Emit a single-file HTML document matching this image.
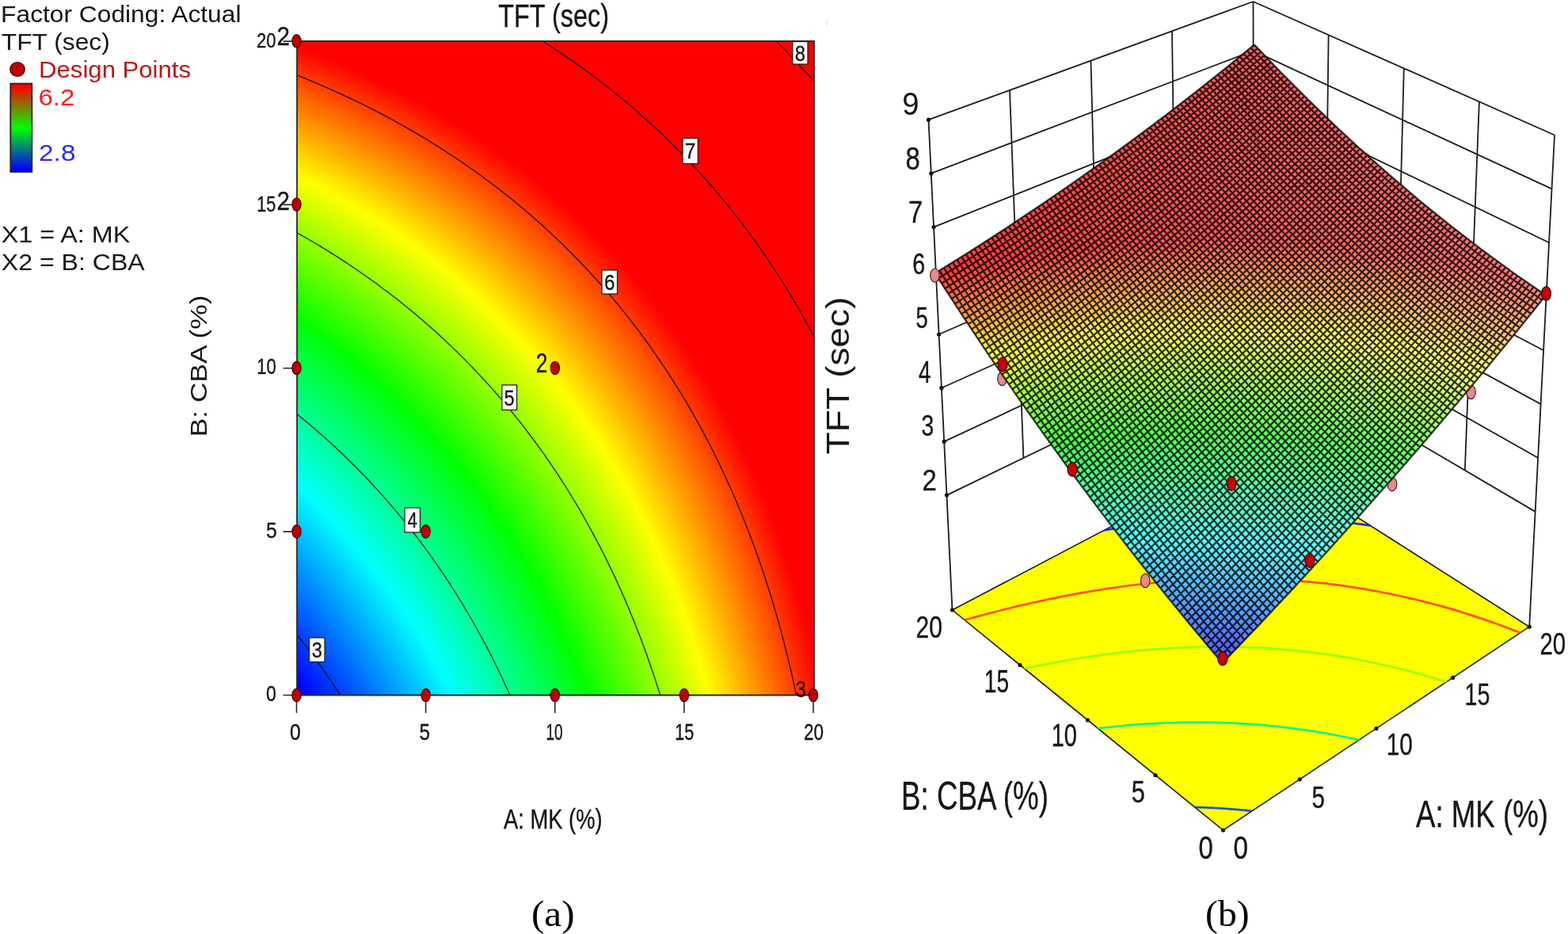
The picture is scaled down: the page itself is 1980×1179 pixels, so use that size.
<!DOCTYPE html><html lang="en"><head><meta charset="utf-8"><title>TFT (sec) response surface</title><style>html,body{margin:0;padding:0;background:#fff;overflow:hidden}svg{display:block}</style></head><body><svg width="1980" height="1179" viewBox="0 0 1980 1179"><defs><radialGradient id="cg" gradientUnits="userSpaceOnUse" cx="0" cy="0" r="1" fx="0" fy="0" gradientTransform="matrix(4902.996443 0.000000 8319.198743 -9557.770069 -8206.1421 9145.2068)"><stop offset="0.905900" stop-color="#0000ff"/><stop offset="0.910457" stop-color="#0000ff"/><stop offset="0.911744" stop-color="#0019ff"/><stop offset="0.913029" stop-color="#0033ff"/><stop offset="0.914313" stop-color="#004dff"/><stop offset="0.915595" stop-color="#0066ff"/><stop offset="0.916874" stop-color="#0080ff"/><stop offset="0.918152" stop-color="#0099ff"/><stop offset="0.919429" stop-color="#00b3ff"/><stop offset="0.920703" stop-color="#00ccff"/><stop offset="0.921976" stop-color="#00e6ff"/><stop offset="0.923247" stop-color="#00ffff"/><stop offset="0.924516" stop-color="#00ffe6"/><stop offset="0.925784" stop-color="#00ffcc"/><stop offset="0.927050" stop-color="#00ffb3"/><stop offset="0.928314" stop-color="#00ff99"/><stop offset="0.929576" stop-color="#00ff7f"/><stop offset="0.930837" stop-color="#00ff66"/><stop offset="0.932096" stop-color="#00ff4c"/><stop offset="0.933353" stop-color="#00ff33"/><stop offset="0.934608" stop-color="#00ff1a"/><stop offset="0.935862" stop-color="#00ff00"/><stop offset="0.937114" stop-color="#1aff00"/><stop offset="0.938365" stop-color="#33ff00"/><stop offset="0.939614" stop-color="#4cff00"/><stop offset="0.940861" stop-color="#66ff00"/><stop offset="0.942106" stop-color="#80ff00"/><stop offset="0.943350" stop-color="#99ff00"/><stop offset="0.944592" stop-color="#b2ff00"/><stop offset="0.945833" stop-color="#ccff00"/><stop offset="0.947072" stop-color="#e6ff00"/><stop offset="0.948309" stop-color="#ffff00"/><stop offset="0.949545" stop-color="#ffe600"/><stop offset="0.950779" stop-color="#ffcc00"/><stop offset="0.952012" stop-color="#ffb200"/><stop offset="0.953243" stop-color="#ff9900"/><stop offset="0.954472" stop-color="#ff7f00"/><stop offset="0.955700" stop-color="#ff6600"/><stop offset="0.956926" stop-color="#ff4c00"/><stop offset="0.958151" stop-color="#ff3300"/><stop offset="0.959374" stop-color="#ff1900"/><stop offset="0.960595" stop-color="#ff0000"/><stop offset="1.000000" stop-color="#ff0000"/></radialGradient><clipPath id="pc"><rect x="375.0" y="52.0" width="653.0" height="825.5"/></clipPath><linearGradient id="lg" x1="0" y1="0" x2="0" y2="1"><stop offset="0.03" stop-color="#f00"/><stop offset="0.5" stop-color="#0f0"/><stop offset="0.97" stop-color="#00f"/></linearGradient><clipPath id="fc"><path d="M1202.5,770L1583.4,570L1931.2,791.2L1544.5,1048Z"/></clipPath><linearGradient id="s0" gradientUnits="userSpaceOnUse" x1="1546.4" y1="834" x2="1183.5" y2="343.2"><stop offset="0.0000" stop-color="#5959ff"/><stop offset="0.0072" stop-color="#5959ff"/><stop offset="0.1256" stop-color="#5591ff"/><stop offset="0.2508" stop-color="#52d6ff"/><stop offset="0.3174" stop-color="#4fffff"/><stop offset="0.3757" stop-color="#4effd9"/><stop offset="0.5004" stop-color="#4aff80"/><stop offset="0.5715" stop-color="#48ff48"/><stop offset="0.6251" stop-color="#71ff46"/><stop offset="0.7499" stop-color="#d9ff43"/><stop offset="0.7926" stop-color="#ffff42"/><stop offset="0.8748" stop-color="#ffb23f"/><stop offset="0.9914" stop-color="#ff3c3c"/><stop offset="1.0000" stop-color="#ff3c3c"/></linearGradient><linearGradient id="s1" gradientUnits="userSpaceOnUse" x1="1552" y1="828.2" x2="1189.1" y2="339.8"><stop offset="0.0000" stop-color="#5a5dff"/><stop offset="0.1256" stop-color="#5698ff"/><stop offset="0.2508" stop-color="#52dcff"/><stop offset="0.3080" stop-color="#50ffff"/><stop offset="0.3757" stop-color="#4effd3"/><stop offset="0.5004" stop-color="#4aff7a"/><stop offset="0.5648" stop-color="#49ff49"/><stop offset="0.6251" stop-color="#76ff47"/><stop offset="0.7499" stop-color="#deff43"/><stop offset="0.7876" stop-color="#ffff42"/><stop offset="0.8748" stop-color="#ffae40"/><stop offset="0.9877" stop-color="#ff3d3d"/><stop offset="1.0000" stop-color="#ff3c3c"/></linearGradient><linearGradient id="s2" gradientUnits="userSpaceOnUse" x1="1557.6" y1="822.4" x2="1194.7" y2="336.4"><stop offset="0.0000" stop-color="#5a64ff"/><stop offset="0.1256" stop-color="#569fff"/><stop offset="0.2508" stop-color="#52e3ff"/><stop offset="0.2983" stop-color="#51ffff"/><stop offset="0.3757" stop-color="#4fffce"/><stop offset="0.5004" stop-color="#4bff75"/><stop offset="0.5579" stop-color="#49ff49"/><stop offset="0.6251" stop-color="#7cff47"/><stop offset="0.7499" stop-color="#e2ff44"/><stop offset="0.7825" stop-color="#ffff43"/><stop offset="0.8748" stop-color="#ffaa40"/><stop offset="0.9838" stop-color="#ff3d3d"/><stop offset="1.0000" stop-color="#ff3d3d"/></linearGradient><linearGradient id="s3" gradientUnits="userSpaceOnUse" x1="1563.2" y1="816.6" x2="1200.2" y2="332.9"><stop offset="0.0000" stop-color="#5b6bff"/><stop offset="0.1256" stop-color="#57a5ff"/><stop offset="0.2508" stop-color="#53e9ff"/><stop offset="0.2884" stop-color="#52ffff"/><stop offset="0.3757" stop-color="#4fffc8"/><stop offset="0.5004" stop-color="#4bff70"/><stop offset="0.5509" stop-color="#4aff4a"/><stop offset="0.6251" stop-color="#81ff48"/><stop offset="0.7499" stop-color="#e7ff44"/><stop offset="0.7773" stop-color="#ffff43"/><stop offset="0.8748" stop-color="#ffa641"/><stop offset="0.9799" stop-color="#ff3e3e"/><stop offset="1.0000" stop-color="#ff3d3d"/></linearGradient><linearGradient id="s4" gradientUnits="userSpaceOnUse" x1="1568.8" y1="810.7" x2="1205.8" y2="329.5"><stop offset="0.0000" stop-color="#5b73ff"/><stop offset="0.1256" stop-color="#57acff"/><stop offset="0.2508" stop-color="#53efff"/><stop offset="0.2783" stop-color="#52ffff"/><stop offset="0.3757" stop-color="#50ffc2"/><stop offset="0.5004" stop-color="#4cff6b"/><stop offset="0.5437" stop-color="#4bff4b"/><stop offset="0.6251" stop-color="#87ff48"/><stop offset="0.7499" stop-color="#ecff45"/><stop offset="0.7719" stop-color="#ffff44"/><stop offset="0.8748" stop-color="#ffa241"/><stop offset="0.9759" stop-color="#ff3e3e"/><stop offset="1.0000" stop-color="#ff3e3e"/></linearGradient><linearGradient id="s5" gradientUnits="userSpaceOnUse" x1="1574.3" y1="804.9" x2="1211.3" y2="326"><stop offset="0.0000" stop-color="#5c7aff"/><stop offset="0.1256" stop-color="#58b3ff"/><stop offset="0.2508" stop-color="#54f5ff"/><stop offset="0.2679" stop-color="#53ffff"/><stop offset="0.3757" stop-color="#50ffbc"/><stop offset="0.5004" stop-color="#4cff66"/><stop offset="0.5363" stop-color="#4bff4b"/><stop offset="0.6251" stop-color="#8cff49"/><stop offset="0.7499" stop-color="#f1ff45"/><stop offset="0.7665" stop-color="#ffff45"/><stop offset="0.8748" stop-color="#ff9d42"/><stop offset="0.9718" stop-color="#ff3f3f"/><stop offset="1.0000" stop-color="#ff3e3e"/></linearGradient><linearGradient id="s6" gradientUnits="userSpaceOnUse" x1="1579.9" y1="799.1" x2="1216.8" y2="322.6"><stop offset="0.0000" stop-color="#5c81ff"/><stop offset="0.1256" stop-color="#58b9ff"/><stop offset="0.2508" stop-color="#54fbff"/><stop offset="0.2572" stop-color="#54ffff"/><stop offset="0.3757" stop-color="#50ffb7"/><stop offset="0.5005" stop-color="#4dff61"/><stop offset="0.5288" stop-color="#4cff4c"/><stop offset="0.6251" stop-color="#92ff49"/><stop offset="0.7499" stop-color="#f6ff45"/><stop offset="0.7610" stop-color="#ffff45"/><stop offset="0.8748" stop-color="#ff9942"/><stop offset="0.9676" stop-color="#ff3f3f"/><stop offset="1.0000" stop-color="#ff3f3f"/></linearGradient><linearGradient id="s7" gradientUnits="userSpaceOnUse" x1="1585.4" y1="793.3" x2="1222.3" y2="319.1"><stop offset="0.0000" stop-color="#5d88ff"/><stop offset="0.1256" stop-color="#59c0ff"/><stop offset="0.2462" stop-color="#55ffff"/><stop offset="0.2508" stop-color="#55fffc"/><stop offset="0.3757" stop-color="#51ffb1"/><stop offset="0.5005" stop-color="#4dff5c"/><stop offset="0.5211" stop-color="#4dff4d"/><stop offset="0.6251" stop-color="#97ff49"/><stop offset="0.7499" stop-color="#faff46"/><stop offset="0.7553" stop-color="#ffff46"/><stop offset="0.8748" stop-color="#ff9542"/><stop offset="0.9634" stop-color="#ff4040"/><stop offset="1.0000" stop-color="#ff3f3f"/></linearGradient><linearGradient id="s8" gradientUnits="userSpaceOnUse" x1="1590.9" y1="787.5" x2="1227.8" y2="315.6"><stop offset="0.0000" stop-color="#5d8fff"/><stop offset="0.1256" stop-color="#59c7ff"/><stop offset="0.2348" stop-color="#56ffff"/><stop offset="0.2508" stop-color="#55fff6"/><stop offset="0.3757" stop-color="#51ffab"/><stop offset="0.5005" stop-color="#4eff56"/><stop offset="0.5132" stop-color="#4dff4d"/><stop offset="0.6251" stop-color="#9dff4a"/><stop offset="0.7495" stop-color="#ffff46"/><stop offset="0.7499" stop-color="#ffff46"/><stop offset="0.8748" stop-color="#ff9143"/><stop offset="0.9590" stop-color="#ff4141"/><stop offset="1.0000" stop-color="#ff3f3f"/></linearGradient><linearGradient id="s9" gradientUnits="userSpaceOnUse" x1="1596.4" y1="781.7" x2="1233.2" y2="312.2"><stop offset="0.0000" stop-color="#5e96ff"/><stop offset="0.1256" stop-color="#5acdff"/><stop offset="0.2232" stop-color="#56ffff"/><stop offset="0.2508" stop-color="#56fff0"/><stop offset="0.3757" stop-color="#52ffa6"/><stop offset="0.5005" stop-color="#4eff51"/><stop offset="0.5052" stop-color="#4eff4e"/><stop offset="0.6252" stop-color="#a2ff4a"/><stop offset="0.7436" stop-color="#ffff47"/><stop offset="0.7499" stop-color="#fffa47"/><stop offset="0.8748" stop-color="#ff8d43"/><stop offset="0.9546" stop-color="#ff4141"/><stop offset="1.0000" stop-color="#ff4040"/></linearGradient><linearGradient id="s10" gradientUnits="userSpaceOnUse" x1="1601.9" y1="775.8" x2="1238.7" y2="308.7"><stop offset="0.0000" stop-color="#5e9dff"/><stop offset="0.1256" stop-color="#5ad4ff"/><stop offset="0.2112" stop-color="#57ffff"/><stop offset="0.2508" stop-color="#56ffea"/><stop offset="0.3757" stop-color="#52ffa0"/><stop offset="0.4970" stop-color="#4fff4f"/><stop offset="0.5005" stop-color="#51ff4e"/><stop offset="0.6252" stop-color="#a8ff4b"/><stop offset="0.7376" stop-color="#ffff48"/><stop offset="0.7499" stop-color="#fff547"/><stop offset="0.8748" stop-color="#ff8844"/><stop offset="0.9500" stop-color="#ff4242"/><stop offset="1.0000" stop-color="#ff4040"/></linearGradient><linearGradient id="s11" gradientUnits="userSpaceOnUse" x1="1607.4" y1="770" x2="1244.1" y2="305.2"><stop offset="0.0000" stop-color="#5ea4ff"/><stop offset="0.1256" stop-color="#5adbff"/><stop offset="0.1989" stop-color="#58ffff"/><stop offset="0.2508" stop-color="#56ffe3"/><stop offset="0.3758" stop-color="#53ff9a"/><stop offset="0.4885" stop-color="#4fff4f"/><stop offset="0.5005" stop-color="#57ff4f"/><stop offset="0.6252" stop-color="#adff4b"/><stop offset="0.7314" stop-color="#ffff48"/><stop offset="0.7499" stop-color="#fff048"/><stop offset="0.8748" stop-color="#ff8444"/><stop offset="0.9454" stop-color="#ff4242"/><stop offset="1.0000" stop-color="#ff4141"/></linearGradient><linearGradient id="s12" gradientUnits="userSpaceOnUse" x1="1612.8" y1="764.2" x2="1249.5" y2="301.7"><stop offset="0.0000" stop-color="#5facff"/><stop offset="0.1256" stop-color="#5be2ff"/><stop offset="0.1862" stop-color="#59ffff"/><stop offset="0.2509" stop-color="#57ffdd"/><stop offset="0.3758" stop-color="#53ff94"/><stop offset="0.4799" stop-color="#50ff50"/><stop offset="0.5005" stop-color="#5dff4f"/><stop offset="0.6252" stop-color="#b3ff4c"/><stop offset="0.7251" stop-color="#ffff49"/><stop offset="0.7499" stop-color="#ffeb48"/><stop offset="0.8748" stop-color="#ff8045"/><stop offset="0.9406" stop-color="#ff4343"/><stop offset="1.0000" stop-color="#ff4141"/></linearGradient><linearGradient id="s13" gradientUnits="userSpaceOnUse" x1="1618.3" y1="758.4" x2="1254.9" y2="298.2"><stop offset="0.0000" stop-color="#5fb3ff"/><stop offset="0.1256" stop-color="#5be8ff"/><stop offset="0.1731" stop-color="#5affff"/><stop offset="0.2509" stop-color="#57ffd7"/><stop offset="0.3758" stop-color="#54ff8f"/><stop offset="0.4710" stop-color="#51ff51"/><stop offset="0.5005" stop-color="#63ff50"/><stop offset="0.6252" stop-color="#b8ff4c"/><stop offset="0.7187" stop-color="#ffff49"/><stop offset="0.7499" stop-color="#ffe649"/><stop offset="0.8748" stop-color="#ff7b45"/><stop offset="0.9358" stop-color="#ff4343"/><stop offset="1.0000" stop-color="#ff4242"/></linearGradient><linearGradient id="s14" gradientUnits="userSpaceOnUse" x1="1623.7" y1="752.6" x2="1260.3" y2="294.7"><stop offset="0.0000" stop-color="#60baff"/><stop offset="0.1257" stop-color="#5cefff"/><stop offset="0.1596" stop-color="#5bffff"/><stop offset="0.2509" stop-color="#58ffd1"/><stop offset="0.3758" stop-color="#54ff89"/><stop offset="0.4620" stop-color="#51ff51"/><stop offset="0.5005" stop-color="#69ff50"/><stop offset="0.6252" stop-color="#beff4d"/><stop offset="0.7121" stop-color="#ffff4a"/><stop offset="0.7499" stop-color="#ffe149"/><stop offset="0.8748" stop-color="#ff7746"/><stop offset="0.9309" stop-color="#ff4444"/><stop offset="1.0000" stop-color="#ff4242"/></linearGradient><linearGradient id="s15" gradientUnits="userSpaceOnUse" x1="1629.1" y1="746.8" x2="1265.7" y2="291.2"><stop offset="0.0000" stop-color="#60c1ff"/><stop offset="0.1257" stop-color="#5cf6ff"/><stop offset="0.1457" stop-color="#5cffff"/><stop offset="0.2509" stop-color="#58ffca"/><stop offset="0.3758" stop-color="#54ff83"/><stop offset="0.4527" stop-color="#52ff52"/><stop offset="0.5005" stop-color="#70ff51"/><stop offset="0.6252" stop-color="#c4ff4d"/><stop offset="0.7054" stop-color="#ffff4b"/><stop offset="0.7499" stop-color="#ffdc49"/><stop offset="0.8748" stop-color="#ff7346"/><stop offset="0.9258" stop-color="#ff4545"/><stop offset="1.0000" stop-color="#ff4343"/></linearGradient><linearGradient id="s16" gradientUnits="userSpaceOnUse" x1="1634.5" y1="741" x2="1271" y2="287.7"><stop offset="0.0000" stop-color="#61c8ff"/><stop offset="0.1257" stop-color="#5dfcff"/><stop offset="0.1312" stop-color="#5cffff"/><stop offset="0.2509" stop-color="#59ffc4"/><stop offset="0.3758" stop-color="#55ff7d"/><stop offset="0.4431" stop-color="#53ff53"/><stop offset="0.5005" stop-color="#76ff51"/><stop offset="0.6252" stop-color="#c9ff4d"/><stop offset="0.6985" stop-color="#ffff4b"/><stop offset="0.7500" stop-color="#ffd74a"/><stop offset="0.8748" stop-color="#ff6e46"/><stop offset="0.9207" stop-color="#ff4545"/><stop offset="1.0000" stop-color="#ff4343"/></linearGradient><linearGradient id="s17" gradientUnits="userSpaceOnUse" x1="1639.9" y1="735.2" x2="1276.4" y2="284.2"><stop offset="0.0000" stop-color="#61cfff"/><stop offset="0.1163" stop-color="#5dffff"/><stop offset="0.1257" stop-color="#5dfffb"/><stop offset="0.2509" stop-color="#59ffbe"/><stop offset="0.3758" stop-color="#55ff77"/><stop offset="0.4334" stop-color="#54ff54"/><stop offset="0.5006" stop-color="#7cff52"/><stop offset="0.6252" stop-color="#cfff4e"/><stop offset="0.6915" stop-color="#ffff4c"/><stop offset="0.7500" stop-color="#ffd24a"/><stop offset="0.8749" stop-color="#ff6a47"/><stop offset="0.9154" stop-color="#ff4646"/><stop offset="1.0000" stop-color="#ff4343"/></linearGradient><linearGradient id="s18" gradientUnits="userSpaceOnUse" x1="1645.3" y1="729.4" x2="1281.7" y2="280.7"><stop offset="0.0000" stop-color="#62d6ff"/><stop offset="0.1009" stop-color="#5effff"/><stop offset="0.1257" stop-color="#5dfff4"/><stop offset="0.2509" stop-color="#5affb7"/><stop offset="0.3758" stop-color="#56ff71"/><stop offset="0.4234" stop-color="#54ff54"/><stop offset="0.5006" stop-color="#82ff52"/><stop offset="0.6252" stop-color="#d4ff4e"/><stop offset="0.6843" stop-color="#ffff4d"/><stop offset="0.7500" stop-color="#ffcd4b"/><stop offset="0.8749" stop-color="#ff6547"/><stop offset="0.9101" stop-color="#ff4646"/><stop offset="1.0000" stop-color="#ff4444"/></linearGradient><linearGradient id="s19" gradientUnits="userSpaceOnUse" x1="1650.6" y1="723.6" x2="1287" y2="277.2"><stop offset="0.0000" stop-color="#62ddff"/><stop offset="0.0849" stop-color="#5fffff"/><stop offset="0.1257" stop-color="#5effed"/><stop offset="0.2509" stop-color="#5affb1"/><stop offset="0.3758" stop-color="#56ff6c"/><stop offset="0.4131" stop-color="#55ff55"/><stop offset="0.5006" stop-color="#88ff52"/><stop offset="0.6253" stop-color="#daff4f"/><stop offset="0.6769" stop-color="#ffff4d"/><stop offset="0.7500" stop-color="#ffc84b"/><stop offset="0.8749" stop-color="#ff6148"/><stop offset="0.9046" stop-color="#ff4747"/><stop offset="1.0000" stop-color="#ff4444"/></linearGradient><linearGradient id="s20" gradientUnits="userSpaceOnUse" x1="1656" y1="717.8" x2="1292.3" y2="273.7"><stop offset="0.0000" stop-color="#62e4ff"/><stop offset="0.0683" stop-color="#60ffff"/><stop offset="0.1257" stop-color="#5effe7"/><stop offset="0.2509" stop-color="#5affab"/><stop offset="0.3759" stop-color="#57ff66"/><stop offset="0.4025" stop-color="#56ff56"/><stop offset="0.5006" stop-color="#8fff53"/><stop offset="0.6253" stop-color="#e0ff4f"/><stop offset="0.6694" stop-color="#ffff4e"/><stop offset="0.7500" stop-color="#ffc34c"/><stop offset="0.8749" stop-color="#ff5c48"/><stop offset="0.8990" stop-color="#ff4747"/><stop offset="1.0000" stop-color="#ff4545"/></linearGradient><linearGradient id="s21" gradientUnits="userSpaceOnUse" x1="1661.3" y1="712" x2="1297.6" y2="270.2"><stop offset="0.0000" stop-color="#63ecff"/><stop offset="0.0511" stop-color="#61ffff"/><stop offset="0.1257" stop-color="#5fffe0"/><stop offset="0.2509" stop-color="#5bffa5"/><stop offset="0.3759" stop-color="#57ff60"/><stop offset="0.3917" stop-color="#57ff57"/><stop offset="0.5006" stop-color="#95ff53"/><stop offset="0.6253" stop-color="#e5ff50"/><stop offset="0.6618" stop-color="#ffff4f"/><stop offset="0.7500" stop-color="#ffbe4c"/><stop offset="0.8749" stop-color="#ff5849"/><stop offset="0.8933" stop-color="#ff4848"/><stop offset="1.0000" stop-color="#ff4545"/></linearGradient><linearGradient id="s22" gradientUnits="userSpaceOnUse" x1="1666.6" y1="706.2" x2="1302.9" y2="266.6"><stop offset="0.0000" stop-color="#63f3ff"/><stop offset="0.0331" stop-color="#62ffff"/><stop offset="0.1257" stop-color="#5fffd9"/><stop offset="0.2509" stop-color="#5bff9e"/><stop offset="0.3759" stop-color="#57ff5a"/><stop offset="0.3806" stop-color="#57ff57"/><stop offset="0.5006" stop-color="#9bff54"/><stop offset="0.6253" stop-color="#ebff50"/><stop offset="0.6539" stop-color="#ffff4f"/><stop offset="0.7500" stop-color="#ffb84c"/><stop offset="0.8749" stop-color="#ff5349"/><stop offset="0.8875" stop-color="#ff4949"/><stop offset="1.0000" stop-color="#ff4646"/></linearGradient><linearGradient id="s23" gradientUnits="userSpaceOnUse" x1="1671.9" y1="700.4" x2="1308.1" y2="263.1"><stop offset="0.0000" stop-color="#64faff"/><stop offset="0.0144" stop-color="#63ffff"/><stop offset="0.1257" stop-color="#60ffd2"/><stop offset="0.2510" stop-color="#5cff98"/><stop offset="0.3691" stop-color="#58ff58"/><stop offset="0.3759" stop-color="#5cff58"/><stop offset="0.5006" stop-color="#a1ff54"/><stop offset="0.6253" stop-color="#f1ff50"/><stop offset="0.6459" stop-color="#ffff50"/><stop offset="0.7500" stop-color="#ffb34d"/><stop offset="0.8749" stop-color="#ff4f49"/><stop offset="0.8815" stop-color="#ff4949"/><stop offset="1.0000" stop-color="#ff4646"/></linearGradient><linearGradient id="s24" gradientUnits="userSpaceOnUse" x1="1677.2" y1="694.6" x2="1313.3" y2="259.6"><stop offset="0.0000" stop-color="#64fffd"/><stop offset="0.1257" stop-color="#60ffcc"/><stop offset="0.2510" stop-color="#5cff92"/><stop offset="0.3573" stop-color="#59ff59"/><stop offset="0.3759" stop-color="#62ff58"/><stop offset="0.5007" stop-color="#a8ff55"/><stop offset="0.6253" stop-color="#f7ff51"/><stop offset="0.6377" stop-color="#ffff51"/><stop offset="0.7500" stop-color="#ffae4d"/><stop offset="0.8749" stop-color="#ff4a4a"/><stop offset="0.8754" stop-color="#ff4a4a"/><stop offset="1.0000" stop-color="#ff4646"/></linearGradient><linearGradient id="s25" gradientUnits="userSpaceOnUse" x1="1682.5" y1="688.8" x2="1318.6" y2="256"><stop offset="0.0000" stop-color="#65fff6"/><stop offset="0.1257" stop-color="#61ffc5"/><stop offset="0.2510" stop-color="#5dff8b"/><stop offset="0.3452" stop-color="#5aff5a"/><stop offset="0.3759" stop-color="#69ff59"/><stop offset="0.5007" stop-color="#aeff55"/><stop offset="0.6254" stop-color="#fcff51"/><stop offset="0.6293" stop-color="#ffff51"/><stop offset="0.7501" stop-color="#ffa94e"/><stop offset="0.8692" stop-color="#ff4a4a"/><stop offset="0.8749" stop-color="#ff4a4a"/><stop offset="1.0000" stop-color="#ff4747"/></linearGradient><linearGradient id="s26" gradientUnits="userSpaceOnUse" x1="1687.7" y1="683" x2="1323.8" y2="252.5"><stop offset="0.0000" stop-color="#65ffef"/><stop offset="0.1257" stop-color="#61ffbe"/><stop offset="0.2510" stop-color="#5dff85"/><stop offset="0.3328" stop-color="#5aff5a"/><stop offset="0.3759" stop-color="#70ff59"/><stop offset="0.5007" stop-color="#b4ff55"/><stop offset="0.6207" stop-color="#ffff52"/><stop offset="0.6254" stop-color="#fffc52"/><stop offset="0.7501" stop-color="#ffa44e"/><stop offset="0.8629" stop-color="#ff4b4b"/><stop offset="0.8749" stop-color="#ff4b4b"/><stop offset="1.0000" stop-color="#ff4747"/></linearGradient><linearGradient id="s27" gradientUnits="userSpaceOnUse" x1="1693" y1="677.2" x2="1329" y2="248.9"><stop offset="0.0000" stop-color="#65ffe8"/><stop offset="0.1257" stop-color="#61ffb8"/><stop offset="0.2510" stop-color="#5dff7f"/><stop offset="0.3199" stop-color="#5bff5b"/><stop offset="0.3760" stop-color="#77ff5a"/><stop offset="0.5007" stop-color="#baff56"/><stop offset="0.6119" stop-color="#ffff53"/><stop offset="0.6254" stop-color="#fff652"/><stop offset="0.7501" stop-color="#ff9e4f"/><stop offset="0.8564" stop-color="#ff4c4c"/><stop offset="0.8749" stop-color="#ff4b4b"/><stop offset="1.0000" stop-color="#ff4848"/></linearGradient><linearGradient id="s28" gradientUnits="userSpaceOnUse" x1="1698.2" y1="671.4" x2="1334.2" y2="245.4"><stop offset="0.0000" stop-color="#66ffe1"/><stop offset="0.1257" stop-color="#62ffb1"/><stop offset="0.2510" stop-color="#5eff78"/><stop offset="0.3067" stop-color="#5cff5c"/><stop offset="0.3760" stop-color="#7dff5a"/><stop offset="0.5007" stop-color="#c1ff56"/><stop offset="0.6029" stop-color="#ffff53"/><stop offset="0.6254" stop-color="#fff053"/><stop offset="0.7501" stop-color="#ff994f"/><stop offset="0.8498" stop-color="#ff4c4c"/><stop offset="0.8749" stop-color="#ff4c4c"/><stop offset="1.0000" stop-color="#ff4848"/></linearGradient><linearGradient id="s29" gradientUnits="userSpaceOnUse" x1="1703.4" y1="665.6" x2="1339.3" y2="241.8"><stop offset="0.0000" stop-color="#66ffda"/><stop offset="0.1258" stop-color="#62ffaa"/><stop offset="0.2510" stop-color="#5eff72"/><stop offset="0.2931" stop-color="#5dff5d"/><stop offset="0.3760" stop-color="#84ff5a"/><stop offset="0.5008" stop-color="#c7ff57"/><stop offset="0.5936" stop-color="#ffff54"/><stop offset="0.6254" stop-color="#ffeb53"/><stop offset="0.7501" stop-color="#ff944f"/><stop offset="0.8430" stop-color="#ff4d4d"/><stop offset="0.8749" stop-color="#ff4c4c"/><stop offset="1.0000" stop-color="#ff4949"/></linearGradient><linearGradient id="s30" gradientUnits="userSpaceOnUse" x1="1708.6" y1="659.8" x2="1344.5" y2="238.3"><stop offset="0.0000" stop-color="#67ffd3"/><stop offset="0.1258" stop-color="#63ffa3"/><stop offset="0.2511" stop-color="#5fff6b"/><stop offset="0.2790" stop-color="#5eff5e"/><stop offset="0.3760" stop-color="#8bff5b"/><stop offset="0.5008" stop-color="#cdff57"/><stop offset="0.5842" stop-color="#ffff55"/><stop offset="0.6254" stop-color="#ffe553"/><stop offset="0.7501" stop-color="#ff8f50"/><stop offset="0.8362" stop-color="#ff4d4d"/><stop offset="0.8750" stop-color="#ff4c4c"/><stop offset="1.0000" stop-color="#ff4949"/></linearGradient><linearGradient id="s31" gradientUnits="userSpaceOnUse" x1="1713.8" y1="654" x2="1349.6" y2="234.7"><stop offset="0.0000" stop-color="#67ffcc"/><stop offset="0.1258" stop-color="#63ff9d"/><stop offset="0.2511" stop-color="#5fff65"/><stop offset="0.2644" stop-color="#5fff5f"/><stop offset="0.3760" stop-color="#92ff5b"/><stop offset="0.5008" stop-color="#d4ff58"/><stop offset="0.5745" stop-color="#ffff55"/><stop offset="0.6255" stop-color="#ffdf54"/><stop offset="0.7502" stop-color="#ff8950"/><stop offset="0.8291" stop-color="#ff4e4e"/><stop offset="0.8750" stop-color="#ff4d4d"/><stop offset="1.0000" stop-color="#ff4949"/></linearGradient><linearGradient id="s32" gradientUnits="userSpaceOnUse" x1="1719" y1="648.2" x2="1354.8" y2="231.1"><stop offset="0.0000" stop-color="#68ffc5"/><stop offset="0.1258" stop-color="#63ff96"/><stop offset="0.2494" stop-color="#60ff60"/><stop offset="0.2511" stop-color="#60ff60"/><stop offset="0.3761" stop-color="#98ff5c"/><stop offset="0.5008" stop-color="#daff58"/><stop offset="0.5645" stop-color="#ffff56"/><stop offset="0.6255" stop-color="#ffd954"/><stop offset="0.7502" stop-color="#ff8451"/><stop offset="0.8219" stop-color="#ff4f4f"/><stop offset="0.8750" stop-color="#ff4d4d"/><stop offset="1.0000" stop-color="#ff4a4a"/></linearGradient><linearGradient id="s33" gradientUnits="userSpaceOnUse" x1="1724.2" y1="642.4" x2="1359.9" y2="227.6"><stop offset="0.0000" stop-color="#68ffbd"/><stop offset="0.1258" stop-color="#64ff8f"/><stop offset="0.2338" stop-color="#60ff60"/><stop offset="0.2511" stop-color="#67ff60"/><stop offset="0.3761" stop-color="#9fff5c"/><stop offset="0.5009" stop-color="#e0ff58"/><stop offset="0.5543" stop-color="#ffff57"/><stop offset="0.6255" stop-color="#ffd355"/><stop offset="0.7502" stop-color="#ff7f51"/><stop offset="0.8145" stop-color="#ff4f4f"/><stop offset="0.8750" stop-color="#ff4e4e"/><stop offset="1.0000" stop-color="#ff4a4a"/></linearGradient><linearGradient id="s34" gradientUnits="userSpaceOnUse" x1="1729.4" y1="636.6" x2="1365" y2="224"><stop offset="0.0000" stop-color="#68ffb6"/><stop offset="0.1258" stop-color="#64ff88"/><stop offset="0.2176" stop-color="#61ff61"/><stop offset="0.2511" stop-color="#6fff60"/><stop offset="0.3761" stop-color="#a6ff5d"/><stop offset="0.5009" stop-color="#e7ff59"/><stop offset="0.5439" stop-color="#ffff58"/><stop offset="0.6255" stop-color="#ffcd55"/><stop offset="0.7502" stop-color="#ff7a52"/><stop offset="0.8070" stop-color="#ff5050"/><stop offset="0.8750" stop-color="#ff4e4e"/><stop offset="1.0000" stop-color="#ff4b4b"/></linearGradient><linearGradient id="s35" gradientUnits="userSpaceOnUse" x1="1734.5" y1="630.8" x2="1370.1" y2="220.4"><stop offset="0.0000" stop-color="#69ffaf"/><stop offset="0.1258" stop-color="#65ff82"/><stop offset="0.2009" stop-color="#62ff62"/><stop offset="0.2511" stop-color="#76ff61"/><stop offset="0.3761" stop-color="#adff5d"/><stop offset="0.5009" stop-color="#edff59"/><stop offset="0.5331" stop-color="#ffff58"/><stop offset="0.6256" stop-color="#ffc856"/><stop offset="0.7502" stop-color="#ff7452"/><stop offset="0.7993" stop-color="#ff5151"/><stop offset="0.8750" stop-color="#ff4e4e"/><stop offset="1.0000" stop-color="#ff4b4b"/></linearGradient><linearGradient id="s36" gradientUnits="userSpaceOnUse" x1="1739.6" y1="625" x2="1375.1" y2="216.8"><stop offset="0.0000" stop-color="#69ffa8"/><stop offset="0.1258" stop-color="#65ff7b"/><stop offset="0.1835" stop-color="#63ff63"/><stop offset="0.2512" stop-color="#7dff61"/><stop offset="0.3762" stop-color="#b4ff5d"/><stop offset="0.5009" stop-color="#f3ff5a"/><stop offset="0.5221" stop-color="#ffff59"/><stop offset="0.6256" stop-color="#ffc256"/><stop offset="0.7502" stop-color="#ff6f52"/><stop offset="0.7915" stop-color="#ff5151"/><stop offset="0.8750" stop-color="#ff4f4f"/><stop offset="1.0000" stop-color="#ff4b4b"/></linearGradient><linearGradient id="s37" gradientUnits="userSpaceOnUse" x1="1744.8" y1="619.2" x2="1380.2" y2="213.2"><stop offset="0.0000" stop-color="#6affa1"/><stop offset="0.1258" stop-color="#66ff74"/><stop offset="0.1654" stop-color="#64ff64"/><stop offset="0.2512" stop-color="#84ff62"/><stop offset="0.3762" stop-color="#baff5e"/><stop offset="0.5010" stop-color="#faff5a"/><stop offset="0.5108" stop-color="#ffff5a"/><stop offset="0.6256" stop-color="#ffbc56"/><stop offset="0.7503" stop-color="#ff6953"/><stop offset="0.7834" stop-color="#ff5252"/><stop offset="0.8750" stop-color="#ff4f4f"/><stop offset="1.0000" stop-color="#ff4c4c"/></linearGradient><linearGradient id="s38" gradientUnits="userSpaceOnUse" x1="1749.9" y1="613.4" x2="1385.2" y2="209.6"><stop offset="0.0000" stop-color="#6aff9a"/><stop offset="0.1258" stop-color="#66ff6d"/><stop offset="0.1465" stop-color="#65ff65"/><stop offset="0.2512" stop-color="#8cff62"/><stop offset="0.3762" stop-color="#c1ff5e"/><stop offset="0.4992" stop-color="#ffff5a"/><stop offset="0.5010" stop-color="#fffe5a"/><stop offset="0.6256" stop-color="#ffb657"/><stop offset="0.7503" stop-color="#ff6453"/><stop offset="0.7752" stop-color="#ff5353"/><stop offset="0.8750" stop-color="#ff5050"/><stop offset="1.0000" stop-color="#ff4c4c"/></linearGradient><linearGradient id="s39" gradientUnits="userSpaceOnUse" x1="1755" y1="607.7" x2="1390.3" y2="206"><stop offset="0.0000" stop-color="#6aff93"/><stop offset="0.1259" stop-color="#66ff67"/><stop offset="0.1268" stop-color="#66ff66"/><stop offset="0.2512" stop-color="#93ff62"/><stop offset="0.3762" stop-color="#c8ff5f"/><stop offset="0.4872" stop-color="#ffff5b"/><stop offset="0.5010" stop-color="#fff85b"/><stop offset="0.6257" stop-color="#ffb057"/><stop offset="0.7503" stop-color="#ff5f54"/><stop offset="0.7668" stop-color="#ff5353"/><stop offset="0.8751" stop-color="#ff5050"/><stop offset="1.0000" stop-color="#ff4d4d"/></linearGradient><linearGradient id="s40" gradientUnits="userSpaceOnUse" x1="1760" y1="601.9" x2="1395.3" y2="202.4"><stop offset="0.0000" stop-color="#6bff8c"/><stop offset="0.1062" stop-color="#67ff67"/><stop offset="0.1259" stop-color="#6eff67"/><stop offset="0.2513" stop-color="#9aff63"/><stop offset="0.3763" stop-color="#cfff5f"/><stop offset="0.4749" stop-color="#ffff5c"/><stop offset="0.5010" stop-color="#fff15b"/><stop offset="0.6257" stop-color="#ffaa58"/><stop offset="0.7503" stop-color="#ff5954"/><stop offset="0.7582" stop-color="#ff5454"/><stop offset="0.8751" stop-color="#ff5151"/><stop offset="1.0000" stop-color="#ff4d4d"/></linearGradient><linearGradient id="s41" gradientUnits="userSpaceOnUse" x1="1765.1" y1="596.1" x2="1400.3" y2="198.8"><stop offset="0.0000" stop-color="#6bff85"/><stop offset="0.0846" stop-color="#69ff69"/><stop offset="0.1259" stop-color="#75ff67"/><stop offset="0.2513" stop-color="#a1ff63"/><stop offset="0.3763" stop-color="#d6ff5f"/><stop offset="0.4622" stop-color="#ffff5d"/><stop offset="0.5011" stop-color="#ffeb5c"/><stop offset="0.6257" stop-color="#ffa458"/><stop offset="0.7494" stop-color="#ff5454"/><stop offset="0.7504" stop-color="#ff5454"/><stop offset="0.8751" stop-color="#ff5151"/><stop offset="1.0000" stop-color="#ff4e4e"/></linearGradient><linearGradient id="s42" gradientUnits="userSpaceOnUse" x1="1770.2" y1="590.3" x2="1405.3" y2="195.2"><stop offset="0.0000" stop-color="#6cff7e"/><stop offset="0.0619" stop-color="#6aff6a"/><stop offset="0.1259" stop-color="#7dff68"/><stop offset="0.2513" stop-color="#a8ff64"/><stop offset="0.3763" stop-color="#dcff60"/><stop offset="0.4491" stop-color="#ffff5e"/><stop offset="0.5011" stop-color="#ffe45c"/><stop offset="0.6257" stop-color="#ff9e58"/><stop offset="0.7404" stop-color="#ff5555"/><stop offset="0.7504" stop-color="#ff5555"/><stop offset="0.8751" stop-color="#ff5151"/><stop offset="1.0000" stop-color="#ff4e4e"/></linearGradient><linearGradient id="s43" gradientUnits="userSpaceOnUse" x1="1775.2" y1="584.5" x2="1410.3" y2="191.6"><stop offset="0.0000" stop-color="#6cff77"/><stop offset="0.0380" stop-color="#6bff6b"/><stop offset="0.1259" stop-color="#84ff68"/><stop offset="0.2513" stop-color="#b0ff64"/><stop offset="0.3764" stop-color="#e3ff60"/><stop offset="0.4357" stop-color="#ffff5e"/><stop offset="0.5011" stop-color="#ffde5c"/><stop offset="0.6258" stop-color="#ff9859"/><stop offset="0.7311" stop-color="#ff5656"/><stop offset="0.7504" stop-color="#ff5555"/><stop offset="0.8751" stop-color="#ff5252"/><stop offset="1.0000" stop-color="#ff4e4e"/></linearGradient><linearGradient id="s44" gradientUnits="userSpaceOnUse" x1="1780.3" y1="578.7" x2="1415.2" y2="187.9"><stop offset="0.0000" stop-color="#6dff70"/><stop offset="0.0127" stop-color="#6cff6c"/><stop offset="0.1259" stop-color="#8cff68"/><stop offset="0.2513" stop-color="#b7ff65"/><stop offset="0.3764" stop-color="#eaff61"/><stop offset="0.4218" stop-color="#ffff5f"/><stop offset="0.5012" stop-color="#ffd85d"/><stop offset="0.6258" stop-color="#ff9259"/><stop offset="0.7217" stop-color="#ff5656"/><stop offset="0.7504" stop-color="#ff5656"/><stop offset="0.8751" stop-color="#ff5252"/><stop offset="1.0000" stop-color="#ff4f4f"/></linearGradient><linearGradient id="s45" gradientUnits="userSpaceOnUse" x1="1785.3" y1="572.9" x2="1420.2" y2="184.3"><stop offset="0.0000" stop-color="#71ff6d"/><stop offset="0.1259" stop-color="#93ff69"/><stop offset="0.2514" stop-color="#beff65"/><stop offset="0.3764" stop-color="#f1ff61"/><stop offset="0.4075" stop-color="#ffff60"/><stop offset="0.5012" stop-color="#ffd15d"/><stop offset="0.6258" stop-color="#ff8c5a"/><stop offset="0.7120" stop-color="#ff5757"/><stop offset="0.7505" stop-color="#ff5656"/><stop offset="0.8751" stop-color="#ff5353"/><stop offset="1.0000" stop-color="#ff4f4f"/></linearGradient><linearGradient id="s46" gradientUnits="userSpaceOnUse" x1="1790.3" y1="567.1" x2="1425.1" y2="180.7"><stop offset="0.0000" stop-color="#79ff6d"/><stop offset="0.1260" stop-color="#9bff69"/><stop offset="0.2514" stop-color="#c5ff65"/><stop offset="0.3764" stop-color="#f8ff61"/><stop offset="0.3927" stop-color="#ffff61"/><stop offset="0.5012" stop-color="#ffcb5e"/><stop offset="0.6259" stop-color="#ff865a"/><stop offset="0.7021" stop-color="#ff5858"/><stop offset="0.7505" stop-color="#ff5656"/><stop offset="0.8752" stop-color="#ff5353"/><stop offset="1.0000" stop-color="#ff5050"/></linearGradient><linearGradient id="s47" gradientUnits="userSpaceOnUse" x1="1795.3" y1="561.3" x2="1430.1" y2="177.1"><stop offset="0.0000" stop-color="#80ff6e"/><stop offset="0.1260" stop-color="#a2ff6a"/><stop offset="0.2514" stop-color="#ccff66"/><stop offset="0.3765" stop-color="#ffff62"/><stop offset="0.3774" stop-color="#ffff62"/><stop offset="0.5013" stop-color="#ffc45e"/><stop offset="0.6259" stop-color="#ff805a"/><stop offset="0.6919" stop-color="#ff5959"/><stop offset="0.7505" stop-color="#ff5757"/><stop offset="0.8752" stop-color="#ff5353"/><stop offset="1.0000" stop-color="#ff5050"/></linearGradient><linearGradient id="s48" gradientUnits="userSpaceOnUse" x1="1800.3" y1="555.5" x2="1435" y2="173.4"><stop offset="0.0000" stop-color="#88ff6e"/><stop offset="0.1260" stop-color="#aaff6a"/><stop offset="0.2515" stop-color="#d3ff66"/><stop offset="0.3615" stop-color="#ffff63"/><stop offset="0.3765" stop-color="#fff962"/><stop offset="0.5013" stop-color="#ffbe5f"/><stop offset="0.6259" stop-color="#ff7a5b"/><stop offset="0.6815" stop-color="#ff5959"/><stop offset="0.7505" stop-color="#ff5757"/><stop offset="0.8752" stop-color="#ff5454"/><stop offset="1.0000" stop-color="#ff5050"/></linearGradient><linearGradient id="s49" gradientUnits="userSpaceOnUse" x1="1805.3" y1="549.7" x2="1439.9" y2="169.8"><stop offset="0.0000" stop-color="#90ff6f"/><stop offset="0.1260" stop-color="#b1ff6a"/><stop offset="0.2515" stop-color="#dbff67"/><stop offset="0.3451" stop-color="#ffff64"/><stop offset="0.3766" stop-color="#fff263"/><stop offset="0.5013" stop-color="#ffb85f"/><stop offset="0.6260" stop-color="#ff745b"/><stop offset="0.6708" stop-color="#ff5a5a"/><stop offset="0.7506" stop-color="#ff5858"/><stop offset="0.8752" stop-color="#ff5454"/><stop offset="1.0000" stop-color="#ff5151"/></linearGradient><linearGradient id="s50" gradientUnits="userSpaceOnUse" x1="1810.2" y1="543.9" x2="1444.8" y2="166.1"><stop offset="0.0000" stop-color="#98ff6f"/><stop offset="0.1260" stop-color="#b9ff6b"/><stop offset="0.2515" stop-color="#e2ff67"/><stop offset="0.3281" stop-color="#ffff65"/><stop offset="0.3766" stop-color="#ffeb63"/><stop offset="0.5014" stop-color="#ffb15f"/><stop offset="0.6260" stop-color="#ff6e5c"/><stop offset="0.6598" stop-color="#ff5b5b"/><stop offset="0.7506" stop-color="#ff5858"/><stop offset="0.8752" stop-color="#ff5555"/><stop offset="1.0000" stop-color="#ff5151"/></linearGradient><linearGradient id="s51" gradientUnits="userSpaceOnUse" x1="1815.2" y1="538.1" x2="1449.7" y2="162.5"><stop offset="0.0000" stop-color="#a0ff6f"/><stop offset="0.1260" stop-color="#c0ff6b"/><stop offset="0.2515" stop-color="#e9ff67"/><stop offset="0.3104" stop-color="#ffff66"/><stop offset="0.3766" stop-color="#ffe463"/><stop offset="0.5014" stop-color="#ffab60"/><stop offset="0.6260" stop-color="#ff685c"/><stop offset="0.6485" stop-color="#ff5b5b"/><stop offset="0.7506" stop-color="#ff5858"/><stop offset="0.8752" stop-color="#ff5555"/><stop offset="1.0000" stop-color="#ff5252"/></linearGradient><linearGradient id="s52" gradientUnits="userSpaceOnUse" x1="1820.1" y1="532.3" x2="1454.6" y2="158.8"><stop offset="0.0000" stop-color="#a7ff70"/><stop offset="0.1261" stop-color="#c8ff6c"/><stop offset="0.2516" stop-color="#f0ff68"/><stop offset="0.2920" stop-color="#ffff66"/><stop offset="0.3767" stop-color="#ffdd64"/><stop offset="0.5015" stop-color="#ffa460"/><stop offset="0.6261" stop-color="#ff625c"/><stop offset="0.6370" stop-color="#ff5c5c"/><stop offset="0.7506" stop-color="#ff5959"/><stop offset="0.8752" stop-color="#ff5555"/><stop offset="1.0000" stop-color="#ff5252"/></linearGradient><linearGradient id="s53" gradientUnits="userSpaceOnUse" x1="1825.1" y1="526.5" x2="1459.4" y2="155.1"><stop offset="0.0000" stop-color="#afff70"/><stop offset="0.1261" stop-color="#cfff6c"/><stop offset="0.2516" stop-color="#f7ff68"/><stop offset="0.2728" stop-color="#ffff67"/><stop offset="0.3767" stop-color="#ffd664"/><stop offset="0.5015" stop-color="#ff9e61"/><stop offset="0.6251" stop-color="#ff5d5d"/><stop offset="0.6261" stop-color="#ff5d5d"/><stop offset="0.7507" stop-color="#ff5959"/><stop offset="0.8753" stop-color="#ff5656"/><stop offset="1.0000" stop-color="#ff5252"/></linearGradient><linearGradient id="s54" gradientUnits="userSpaceOnUse" x1="1830" y1="520.8" x2="1464.3" y2="151.5"><stop offset="0.0000" stop-color="#b7ff71"/><stop offset="0.1261" stop-color="#d7ff6d"/><stop offset="0.2516" stop-color="#ffff69"/><stop offset="0.2527" stop-color="#ffff69"/><stop offset="0.3767" stop-color="#ffd065"/><stop offset="0.5015" stop-color="#ff9761"/><stop offset="0.6128" stop-color="#ff5e5e"/><stop offset="0.6262" stop-color="#ff5d5d"/><stop offset="0.7507" stop-color="#ff5a5a"/><stop offset="0.8753" stop-color="#ff5656"/><stop offset="1.0000" stop-color="#ff5353"/></linearGradient><linearGradient id="s55" gradientUnits="userSpaceOnUse" x1="1834.9" y1="515" x2="1469.1" y2="147.8"><stop offset="0.0000" stop-color="#bfff71"/><stop offset="0.1261" stop-color="#deff6d"/><stop offset="0.2317" stop-color="#ffff6a"/><stop offset="0.2517" stop-color="#fff869"/><stop offset="0.3768" stop-color="#ffc965"/><stop offset="0.5016" stop-color="#ff9161"/><stop offset="0.6002" stop-color="#ff5e5e"/><stop offset="0.6262" stop-color="#ff5e5e"/><stop offset="0.7507" stop-color="#ff5a5a"/><stop offset="0.8753" stop-color="#ff5757"/><stop offset="1.0000" stop-color="#ff5353"/></linearGradient><linearGradient id="s56" gradientUnits="userSpaceOnUse" x1="1839.8" y1="509.2" x2="1473.9" y2="144.1"><stop offset="0.0000" stop-color="#c6ff71"/><stop offset="0.1261" stop-color="#e6ff6d"/><stop offset="0.2097" stop-color="#ffff6b"/><stop offset="0.2517" stop-color="#fff169"/><stop offset="0.3768" stop-color="#ffc265"/><stop offset="0.5016" stop-color="#ff8a62"/><stop offset="0.5873" stop-color="#ff5f5f"/><stop offset="0.6262" stop-color="#ff5e5e"/><stop offset="0.7508" stop-color="#ff5a5a"/><stop offset="0.8753" stop-color="#ff5757"/><stop offset="1.0000" stop-color="#ff5454"/></linearGradient><linearGradient id="s57" gradientUnits="userSpaceOnUse" x1="1844.7" y1="503.4" x2="1478.7" y2="140.5"><stop offset="0.0000" stop-color="#ceff72"/><stop offset="0.1262" stop-color="#edff6e"/><stop offset="0.1866" stop-color="#ffff6c"/><stop offset="0.2517" stop-color="#ffea6a"/><stop offset="0.3769" stop-color="#ffbb66"/><stop offset="0.5017" stop-color="#ff8462"/><stop offset="0.5739" stop-color="#ff6060"/><stop offset="0.6263" stop-color="#ff5e5e"/><stop offset="0.7508" stop-color="#ff5b5b"/><stop offset="0.8753" stop-color="#ff5757"/><stop offset="1.0000" stop-color="#ff5454"/></linearGradient><linearGradient id="s58" gradientUnits="userSpaceOnUse" x1="1849.6" y1="497.6" x2="1483.5" y2="136.8"><stop offset="0.0000" stop-color="#d6ff72"/><stop offset="0.1262" stop-color="#f5ff6e"/><stop offset="0.1622" stop-color="#ffff6d"/><stop offset="0.2518" stop-color="#ffe36a"/><stop offset="0.3769" stop-color="#ffb466"/><stop offset="0.5017" stop-color="#ff7d62"/><stop offset="0.5602" stop-color="#ff6161"/><stop offset="0.6263" stop-color="#ff5f5f"/><stop offset="0.7508" stop-color="#ff5b5b"/><stop offset="0.8754" stop-color="#ff5858"/><stop offset="1.0000" stop-color="#ff5454"/></linearGradient><linearGradient id="s59" gradientUnits="userSpaceOnUse" x1="1854.4" y1="491.8" x2="1488.3" y2="133.1"><stop offset="0.0000" stop-color="#ddff73"/><stop offset="0.1262" stop-color="#fcff6e"/><stop offset="0.1364" stop-color="#ffff6e"/><stop offset="0.2518" stop-color="#ffdc6b"/><stop offset="0.3769" stop-color="#ffad67"/><stop offset="0.5018" stop-color="#ff7763"/><stop offset="0.5460" stop-color="#ff6262"/><stop offset="0.6264" stop-color="#ff5f5f"/><stop offset="0.7509" stop-color="#ff5c5c"/><stop offset="0.8754" stop-color="#ff5858"/><stop offset="1.0000" stop-color="#ff5555"/></linearGradient><linearGradient id="s60" gradientUnits="userSpaceOnUse" x1="1859.3" y1="486" x2="1493.1" y2="129.4"><stop offset="0.0000" stop-color="#e5ff73"/><stop offset="0.1089" stop-color="#ffff6f"/><stop offset="0.1262" stop-color="#fffa6f"/><stop offset="0.2518" stop-color="#ffd46b"/><stop offset="0.3770" stop-color="#ffa667"/><stop offset="0.5018" stop-color="#ff7063"/><stop offset="0.5313" stop-color="#ff6262"/><stop offset="0.6264" stop-color="#ff6060"/><stop offset="0.7509" stop-color="#ff5c5c"/><stop offset="0.8754" stop-color="#ff5959"/><stop offset="1.0000" stop-color="#ff5555"/></linearGradient><linearGradient id="s61" gradientUnits="userSpaceOnUse" x1="1864.1" y1="480.2" x2="1497.9" y2="125.7"><stop offset="0.0000" stop-color="#edff73"/><stop offset="0.0796" stop-color="#ffff71"/><stop offset="0.1262" stop-color="#fff36f"/><stop offset="0.2519" stop-color="#ffcd6b"/><stop offset="0.3770" stop-color="#ffa067"/><stop offset="0.5019" stop-color="#ff6a64"/><stop offset="0.5162" stop-color="#ff6363"/><stop offset="0.6265" stop-color="#ff6060"/><stop offset="0.7509" stop-color="#ff5c5c"/><stop offset="0.8754" stop-color="#ff5959"/><stop offset="1.0000" stop-color="#ff5656"/></linearGradient><linearGradient id="s62" gradientUnits="userSpaceOnUse" x1="1869" y1="474.4" x2="1502.6" y2="122"><stop offset="0.0000" stop-color="#f4ff74"/><stop offset="0.0481" stop-color="#ffff72"/><stop offset="0.1263" stop-color="#ffeb70"/><stop offset="0.2519" stop-color="#ffc66c"/><stop offset="0.3771" stop-color="#ff9968"/><stop offset="0.5005" stop-color="#ff6464"/><stop offset="0.5019" stop-color="#ff6464"/><stop offset="0.6265" stop-color="#ff6060"/><stop offset="0.7510" stop-color="#ff5d5d"/><stop offset="0.8754" stop-color="#ff5959"/><stop offset="1.0000" stop-color="#ff5656"/></linearGradient><linearGradient id="s63" gradientUnits="userSpaceOnUse" x1="1873.8" y1="468.6" x2="1507.4" y2="118.3"><stop offset="0.0000" stop-color="#fcff74"/><stop offset="0.0139" stop-color="#ffff74"/><stop offset="0.1263" stop-color="#ffe470"/><stop offset="0.2520" stop-color="#ffbf6c"/><stop offset="0.3771" stop-color="#ff9268"/><stop offset="0.4843" stop-color="#ff6565"/><stop offset="0.5020" stop-color="#ff6464"/><stop offset="0.6266" stop-color="#ff6161"/><stop offset="0.7510" stop-color="#ff5d5d"/><stop offset="0.8755" stop-color="#ff5a5a"/><stop offset="1.0000" stop-color="#ff5656"/></linearGradient><linearGradient id="s64" gradientUnits="userSpaceOnUse" x1="1878.6" y1="462.8" x2="1512.1" y2="114.6"><stop offset="0.0000" stop-color="#fffa75"/><stop offset="0.1263" stop-color="#ffdd70"/><stop offset="0.2520" stop-color="#ffb86c"/><stop offset="0.3772" stop-color="#ff8b69"/><stop offset="0.4675" stop-color="#ff6666"/><stop offset="0.5020" stop-color="#ff6565"/><stop offset="0.6266" stop-color="#ff6161"/><stop offset="0.7511" stop-color="#ff5e5e"/><stop offset="0.8755" stop-color="#ff5a5a"/><stop offset="1.0000" stop-color="#ff5757"/></linearGradient><linearGradient id="s65" gradientUnits="userSpaceOnUse" x1="1883.4" y1="457" x2="1516.8" y2="110.9"><stop offset="0.0000" stop-color="#fff375"/><stop offset="0.1263" stop-color="#ffd571"/><stop offset="0.2520" stop-color="#ffb16d"/><stop offset="0.3772" stop-color="#ff8469"/><stop offset="0.4500" stop-color="#ff6767"/><stop offset="0.5021" stop-color="#ff6565"/><stop offset="0.6266" stop-color="#ff6262"/><stop offset="0.7511" stop-color="#ff5e5e"/><stop offset="0.8755" stop-color="#ff5a5a"/><stop offset="1.0000" stop-color="#ff5757"/></linearGradient><linearGradient id="s66" gradientUnits="userSpaceOnUse" x1="1888.2" y1="451.2" x2="1521.5" y2="107.2"><stop offset="0.0000" stop-color="#ffeb75"/><stop offset="0.1264" stop-color="#ffce71"/><stop offset="0.2521" stop-color="#ffa96d"/><stop offset="0.3773" stop-color="#ff7d69"/><stop offset="0.4319" stop-color="#ff6868"/><stop offset="0.5021" stop-color="#ff6666"/><stop offset="0.6267" stop-color="#ff6262"/><stop offset="0.7511" stop-color="#ff5e5e"/><stop offset="0.8755" stop-color="#ff5b5b"/><stop offset="1.0000" stop-color="#ff5757"/></linearGradient><linearGradient id="s67" gradientUnits="userSpaceOnUse" x1="1893" y1="445.4" x2="1526.2" y2="103.4"><stop offset="0.0000" stop-color="#ffe376"/><stop offset="0.1264" stop-color="#ffc672"/><stop offset="0.2521" stop-color="#ffa26e"/><stop offset="0.3773" stop-color="#ff776a"/><stop offset="0.4130" stop-color="#ff6969"/><stop offset="0.5022" stop-color="#ff6666"/><stop offset="0.6268" stop-color="#ff6262"/><stop offset="0.7512" stop-color="#ff5f5f"/><stop offset="0.8756" stop-color="#ff5b5b"/><stop offset="1.0000" stop-color="#ff5858"/></linearGradient><linearGradient id="s68" gradientUnits="userSpaceOnUse" x1="1897.7" y1="439.6" x2="1530.9" y2="99.7"><stop offset="0.0000" stop-color="#ffdc76"/><stop offset="0.1264" stop-color="#ffbf72"/><stop offset="0.2522" stop-color="#ff9b6e"/><stop offset="0.3774" stop-color="#ff706a"/><stop offset="0.3933" stop-color="#ff6a6a"/><stop offset="0.5022" stop-color="#ff6666"/><stop offset="0.6268" stop-color="#ff6363"/><stop offset="0.7512" stop-color="#ff5f5f"/><stop offset="0.8756" stop-color="#ff5c5c"/><stop offset="1.0000" stop-color="#ff5858"/></linearGradient><linearGradient id="s69" gradientUnits="userSpaceOnUse" x1="1902.5" y1="433.8" x2="1535.6" y2="96"><stop offset="0.0000" stop-color="#ffd477"/><stop offset="0.1264" stop-color="#ffb872"/><stop offset="0.2522" stop-color="#ff946e"/><stop offset="0.3727" stop-color="#ff6b6b"/><stop offset="0.3774" stop-color="#ff6b6b"/><stop offset="0.5023" stop-color="#ff6767"/><stop offset="0.6269" stop-color="#ff6363"/><stop offset="0.7513" stop-color="#ff5f5f"/><stop offset="0.8756" stop-color="#ff5c5c"/><stop offset="1.0000" stop-color="#ff5959"/></linearGradient><linearGradient id="s70" gradientUnits="userSpaceOnUse" x1="1907.3" y1="428" x2="1540.2" y2="92.2"><stop offset="0.0000" stop-color="#ffcd77"/><stop offset="0.1265" stop-color="#ffb073"/><stop offset="0.2522" stop-color="#ff8d6f"/><stop offset="0.3512" stop-color="#ff6c6c"/><stop offset="0.3775" stop-color="#ff6b6b"/><stop offset="0.5023" stop-color="#ff6767"/><stop offset="0.6269" stop-color="#ff6363"/><stop offset="0.7513" stop-color="#ff6060"/><stop offset="0.8756" stop-color="#ff5c5c"/><stop offset="1.0000" stop-color="#ff5959"/></linearGradient><linearGradient id="s71" gradientUnits="userSpaceOnUse" x1="1912" y1="422.2" x2="1544.9" y2="88.5"><stop offset="0.0000" stop-color="#ffc577"/><stop offset="0.1265" stop-color="#ffa973"/><stop offset="0.2523" stop-color="#ff866f"/><stop offset="0.3286" stop-color="#ff6d6d"/><stop offset="0.3776" stop-color="#ff6b6b"/><stop offset="0.5024" stop-color="#ff6868"/><stop offset="0.6270" stop-color="#ff6464"/><stop offset="0.7513" stop-color="#ff6060"/><stop offset="0.8757" stop-color="#ff5d5d"/><stop offset="1.0000" stop-color="#ff5959"/></linearGradient><linearGradient id="s72" gradientUnits="userSpaceOnUse" x1="1916.7" y1="416.4" x2="1549.5" y2="84.7"><stop offset="0.0000" stop-color="#ffbe78"/><stop offset="0.1265" stop-color="#ffa274"/><stop offset="0.2523" stop-color="#ff7f70"/><stop offset="0.3048" stop-color="#ff6e6e"/><stop offset="0.3776" stop-color="#ff6c6c"/><stop offset="0.5025" stop-color="#ff6868"/><stop offset="0.6270" stop-color="#ff6464"/><stop offset="0.7514" stop-color="#ff6161"/><stop offset="0.8757" stop-color="#ff5d5d"/><stop offset="1.0000" stop-color="#ff5a5a"/></linearGradient><linearGradient id="s73" gradientUnits="userSpaceOnUse" x1="1921.4" y1="410.6" x2="1554.2" y2="81"><stop offset="0.0000" stop-color="#ffb678"/><stop offset="0.1265" stop-color="#ff9a74"/><stop offset="0.2524" stop-color="#ff7870"/><stop offset="0.2796" stop-color="#ff6f6f"/><stop offset="0.3777" stop-color="#ff6c6c"/><stop offset="0.5025" stop-color="#ff6868"/><stop offset="0.6271" stop-color="#ff6565"/><stop offset="0.7514" stop-color="#ff6161"/><stop offset="0.8757" stop-color="#ff5e5e"/><stop offset="1.0000" stop-color="#ff5a5a"/></linearGradient><linearGradient id="s74" gradientUnits="userSpaceOnUse" x1="1926.2" y1="404.7" x2="1558.8" y2="77.2"><stop offset="0.0000" stop-color="#ffae78"/><stop offset="0.1266" stop-color="#ff9374"/><stop offset="0.2524" stop-color="#ff7070"/><stop offset="0.2529" stop-color="#ff7070"/><stop offset="0.3777" stop-color="#ff6c6c"/><stop offset="0.5026" stop-color="#ff6969"/><stop offset="0.6271" stop-color="#ff6565"/><stop offset="0.7515" stop-color="#ff6161"/><stop offset="0.8757" stop-color="#ff5e5e"/><stop offset="1.0000" stop-color="#ff5a5a"/></linearGradient><linearGradient id="s75" gradientUnits="userSpaceOnUse" x1="1930.9" y1="398.9" x2="1563.4" y2="73.5"><stop offset="0.0000" stop-color="#ffa779"/><stop offset="0.1266" stop-color="#ff8c75"/><stop offset="0.2245" stop-color="#ff7272"/><stop offset="0.2525" stop-color="#ff7171"/><stop offset="0.3778" stop-color="#ff6d6d"/><stop offset="0.5027" stop-color="#ff6969"/><stop offset="0.6272" stop-color="#ff6565"/><stop offset="0.7515" stop-color="#ff6262"/><stop offset="0.8758" stop-color="#ff5e5e"/><stop offset="1.0000" stop-color="#ff5b5b"/></linearGradient><linearGradient id="s76" gradientUnits="userSpaceOnUse" x1="1935.6" y1="393.1" x2="1568" y2="69.7"><stop offset="0.0000" stop-color="#ff9f79"/><stop offset="0.1266" stop-color="#ff8475"/><stop offset="0.1941" stop-color="#ff7373"/><stop offset="0.2525" stop-color="#ff7171"/><stop offset="0.3778" stop-color="#ff6d6d"/><stop offset="0.5027" stop-color="#ff6969"/><stop offset="0.6273" stop-color="#ff6666"/><stop offset="0.7516" stop-color="#ff6262"/><stop offset="0.8758" stop-color="#ff5f5f"/><stop offset="1.0000" stop-color="#ff5b5b"/></linearGradient><linearGradient id="s77" gradientUnits="userSpaceOnUse" x1="1940.2" y1="387.3" x2="1572.6" y2="66"><stop offset="0.0000" stop-color="#ff987a"/><stop offset="0.1267" stop-color="#ff7d75"/><stop offset="0.1613" stop-color="#ff7474"/><stop offset="0.2526" stop-color="#ff7171"/><stop offset="0.3779" stop-color="#ff6e6e"/><stop offset="0.5028" stop-color="#ff6a6a"/><stop offset="0.6273" stop-color="#ff6666"/><stop offset="0.7516" stop-color="#ff6363"/><stop offset="0.8758" stop-color="#ff5f5f"/><stop offset="1.0000" stop-color="#ff5c5c"/></linearGradient><linearGradient id="s78" gradientUnits="userSpaceOnUse" x1="1944.9" y1="381.5" x2="1577.2" y2="62.2"><stop offset="0.0000" stop-color="#ff907a"/><stop offset="0.1256" stop-color="#ff7676"/><stop offset="0.1267" stop-color="#ff7676"/><stop offset="0.2526" stop-color="#ff7272"/><stop offset="0.3780" stop-color="#ff6e6e"/><stop offset="0.5029" stop-color="#ff6a6a"/><stop offset="0.6274" stop-color="#ff6666"/><stop offset="0.7517" stop-color="#ff6363"/><stop offset="0.8758" stop-color="#ff5f5f"/><stop offset="1.0000" stop-color="#ff5c5c"/></linearGradient><linearGradient id="s79" gradientUnits="userSpaceOnUse" x1="1949.6" y1="375.7" x2="1581.7" y2="58.4"><stop offset="0.0000" stop-color="#ff897a"/><stop offset="0.0865" stop-color="#ff7878"/><stop offset="0.1267" stop-color="#ff7676"/><stop offset="0.2527" stop-color="#ff7272"/><stop offset="0.3780" stop-color="#ff6e6e"/><stop offset="0.5029" stop-color="#ff6b6b"/><stop offset="0.6274" stop-color="#ff6767"/><stop offset="0.7517" stop-color="#ff6363"/><stop offset="0.8759" stop-color="#ff6060"/><stop offset="1.0000" stop-color="#ff5c5c"/></linearGradient></defs><rect x="375.0" y="52.0" width="653.0" height="825.5" fill="url(#cg)"/>
<g fill="none" stroke="#0a0a0a" stroke-width="1.3" stroke-opacity="0.9" clip-path="url(#pc)">
<path d="M447,905.9L446,904.1L445,902.4L444,900.8L443.1,899.2L442.1,897.7L441.2,896.2L440.4,894.8L439.5,893.4L438.7,892L437.9,890.7L437.1,889.4L436.3,888.2L435.6,887L434.8,885.8L434.1,884.7L433.4,883.6L432.7,882.5L432.1,881.5L431.4,880.4L430.8,879.4L430.1,878.4L429.5,877.5L428.9,876.5L428.3,875.6L427.7,874.7L427.2,873.8L426.6,873L426.1,872.1L425.5,871.3L425,870.5L424.5,869.7L423.9,868.9L423.4,868.1L422.9,867.3L422.4,866.6L422,865.9L421.5,865.1L421,864.4L420.5,863.7L420.1,863L419.6,862.3L419.2,861.7L418.7,861L418.3,860.3L417.8,859.7L417.4,859L417,858.4L416.5,857.8L416.1,857.1L415.7,856.5L415.3,855.9L414.9,855.3L414.5,854.7L414,854.1L413.6,853.5L413.2,852.9L412.8,852.4L412.4,851.8L412.1,851.2L411.7,850.6L411.3,850.1L410.9,849.5L410.5,848.9L410.1,848.4L409.7,847.8L409.3,847.3L408.9,846.7L408.6,846.2L408.2,845.6L407.8,845.1L407.4,844.6L407,844L406.7,843.5L406.3,842.9L405.9,842.4L405.5,841.8L405.1,841.3L404.7,840.8L404.4,840.2L404,839.7L403.6,839.2L403.2,838.6L402.8,838.1L402.4,837.5L402,837L401.7,836.4L401.3,835.9L400.9,835.3L400.5,834.8L400.1,834.2L399.7,833.7L399.3,833.1L398.9,832.6L398.4,832L398,831.4L397.6,830.9L397.2,830.3L396.8,829.7L396.3,829.1L395.9,828.6L395.5,828L395,827.4L394.6,826.8L394.2,826.2L393.7,825.5L393.2,824.9L392.8,824.3L392.3,823.7L391.8,823L391.3,822.4L390.9,821.7L390.4,821.1L389.9,820.4L389.4,819.7L388.8,819L388.3,818.3L387.8,817.6L387.2,816.9L386.7,816.2L386.1,815.5L385.5,814.7L385,813.9L384.4,813.2L383.8,812.4L383.1,811.6L382.5,810.8L381.9,809.9L381.2,809.1L380.5,808.2L379.8,807.3L379.1,806.4L378.4,805.5L377.7,804.6L376.9,803.6L376.1,802.6L375.3,801.6L374.5,800.6L373.7,799.5L372.8,798.5L371.9,797.3L371,796.2L370.1,795L369.1,793.8L368.1,792.6L367.1,791.3L366,790L364.9,788.7L363.7,787.3L362.6,785.9L361.3,784.4L360.1,782.9L358.7,781.3L357.4,779.7L355.9,778L354.5,776.3L352.9,774.5L351.3,772.6L349.6,770.7"/>
<path d="M656.5,906.7L654.3,901.6L652.3,896.6L650.2,891.7L648.1,886.8L646,882.1L643.9,877.4L641.9,872.8L639.8,868.2L637.7,863.7L635.7,859.3L633.6,855L631.6,850.7L629.6,846.5L627.5,842.3L625.5,838.2L623.5,834.1L621.5,830.1L619.5,826.2L617.5,822.3L615.5,818.4L613.5,814.6L611.5,810.8L609.5,807.1L607.5,803.5L605.5,799.8L603.5,796.2L601.6,792.7L599.6,789.2L597.6,785.7L595.7,782.3L593.7,778.9L591.7,775.5L589.8,772.2L587.8,768.9L585.9,765.6L583.9,762.4L582,759.2L580,756L578,752.8L576.1,749.7L574.1,746.6L572.2,743.5L570.2,740.5L568.3,737.4L566.3,734.4L564.3,731.4L562.4,728.5L560.4,725.5L558.4,722.6L556.4,719.7L554.5,716.8L552.5,713.9L550.5,711L548.5,708.2L546.5,705.4L544.5,702.5L542.5,699.7L540.5,696.9L538.4,694.2L536.4,691.4L534.4,688.6L532.3,685.9L530.3,683.1L528.2,680.4L526.1,677.7L524,675L521.9,672.3L519.8,669.6L517.7,666.9L515.6,664.2L513.4,661.5L511.3,658.8L509.1,656.1L506.9,653.5L504.7,650.8L502.5,648.1L500.3,645.5L498,642.8L495.8,640.1L493.5,637.5L491.2,634.8L488.9,632.1L486.5,629.5L484.2,626.8L481.8,624.1L479.4,621.5L477,618.8L474.5,616.1L472.1,613.4L469.6,610.7L467.1,608L464.5,605.3L462,602.6L459.4,599.9L456.7,597.2L454.1,594.5L451.4,591.7L448.7,589L445.9,586.2L443.1,583.5L440.3,580.7L437.4,577.9L434.6,575.1L431.6,572.3L428.6,569.5L425.6,566.6L422.6,563.8L419.5,560.9L416.3,558.1L413.2,555.2L409.9,552.3L406.6,549.3L403.3,546.4L399.9,543.4L396.5,540.5L393,537.5L389.4,534.5L385.8,531.5L382.1,528.4L378.4,525.4L374.6,522.3L370.7,519.2L366.8,516L362.8,512.9L358.7,509.7L354.6,506.6L350.3,503.4"/>
<path d="M843.1,909.7L840.8,901.5L838.4,893.3L836,885.3L833.6,877.3L831.1,869.4L828.6,861.6L826.1,853.9L823.5,846.2L820.9,838.7L818.3,831.2L815.7,823.8L813,816.5L810.3,809.2L807.6,802L804.8,794.9L802,787.9L799.2,780.9L796.4,774L793.6,767.2L790.7,760.4L787.8,753.7L784.9,747.1L781.9,740.5L779,734L776,727.6L773,721.2L769.9,714.9L766.9,708.6L763.8,702.4L760.7,696.2L757.6,690.1L754.4,684.1L751.2,678.1L748.1,672.1L744.8,666.3L741.6,660.4L738.4,654.7L735.1,648.9L731.8,643.2L728.5,637.6L725.1,632L721.8,626.5L718.4,621L715,615.5L711.5,610.1L708.1,604.8L704.6,599.4L701.1,594.2L697.6,588.9L694.1,583.7L690.5,578.6L687,573.5L683.4,568.4L679.7,563.3L676.1,558.3L672.4,553.4L668.7,548.5L665,543.6L661.3,538.7L657.5,533.9L653.7,529.1L649.9,524.3L646.1,519.6L642.2,514.9L638.3,510.3L634.4,505.6L630.5,501L626.5,496.5L622.5,491.9L618.5,487.4L614.4,482.9L610.4,478.5L606.2,474.1L602.1,469.7L598,465.3L593.8,460.9L589.5,456.6L585.3,452.3L581,448.1L576.7,443.8L572.3,439.6L567.9,435.4L563.5,431.2L559.1,427.1L554.6,422.9L550.1,418.8L545.5,414.7L540.9,410.7L536.3,406.6L531.6,402.6L526.9,398.6L522.1,394.6L517.3,390.6L512.5,386.7L507.6,382.8L502.7,378.8L497.7,375L492.7,371.1L487.6,367.2L482.5,363.4L477.4,359.6L472.1,355.8L466.9,352L461.6,348.2L456.2,344.5L450.8,340.7L445.3,337L439.8,333.3L434.2,329.6L428.5,325.9L422.8,322.3L417,318.6L411.2,315L405.3,311.4L399.3,307.8L393.2,304.2L387.1,300.7L380.9,297.1L374.7,293.6L368.3,290.1L361.9,286.6L355.4,283.1L348.8,279.6"/>
<path d="M1012,910.3L1009.9,899.2L1007.7,888.1L1005.5,877.2L1003.1,866.4L1000.8,855.6L998.3,844.9L995.8,834.3L993.2,823.7L990.6,813.2L987.8,802.8L985.1,792.5L982.2,782.3L979.3,772.1L976.3,762L973.3,752L970.2,742.1L967,732.2L963.8,722.4L960.5,712.7L957.1,703L953.7,693.5L950.2,684L946.6,674.5L943,665.2L939.3,655.9L935.6,646.7L931.8,637.6L927.9,628.5L924,619.6L920,610.7L916,601.8L911.9,593.1L907.7,584.4L903.5,575.8L899.2,567.2L894.9,558.8L890.5,550.4L886,542.1L881.5,533.9L877,525.7L872.4,517.6L867.7,509.6L863,501.7L858.2,493.8L853.4,486L848.5,478.3L843.5,470.6L838.5,463.1L833.5,455.6L828.4,448.2L823.3,440.8L818.1,433.5L812.9,426.3L807.6,419.2L802.2,412.1L796.9,405.1L791.4,398.2L786,391.4L780.4,384.6L774.9,377.9L769.2,371.3L763.6,364.7L757.9,358.2L752.1,351.8L746.3,345.5L740.5,339.2L734.6,333L728.7,326.8L722.7,320.7L716.7,314.7L710.7,308.8L704.6,302.9L698.4,297.1L692.3,291.3L686,285.6L679.8,280L673.5,274.5L667.1,269L660.7,263.5L654.3,258.2L647.8,252.8L641.3,247.6L634.7,242.4L628.1,237.3L621.5,232.2L614.8,227.2L608.1,222.2L601.3,217.3L594.5,212.5L587.6,207.7L580.7,203L573.7,198.3L566.7,193.7L559.7,189.1L552.6,184.6L545.5,180.2L538.3,175.8L531,171.4L523.8,167.1L516.4,162.9L509,158.7L501.6,154.5L494.1,150.4L486.6,146.4L479,142.4L471.3,138.4L463.6,134.5L455.8,130.7L448,126.9L440.1,123.1L432.2,119.4L424.2,115.8L416.1,112.2L407.9,108.6L399.7,105.1L391.5,101.6L383.1,98.2L374.7,94.8L366.2,91.5L357.7,88.2L349.1,84.9"/>
<path d="M1053.1,476.3L1047.8,465.1L1042.5,454L1037.1,443L1031.6,432.2L1025.9,421.4L1020.2,410.7L1014.4,400.2L1008.4,389.7L1002.4,379.4L996.3,369.2L990,359L983.7,349L977.3,339.1L970.8,329.3L964.2,319.7L957.6,310.1L950.8,300.7L944,291.4L937,282.2L930,273.1L923,264.1L915.8,255.3L908.5,246.6L901.2,237.9L893.8,229.5L886.4,221.1L878.8,212.8L871.2,204.7L863.6,196.7L855.8,188.8L848,181L840.2,173.4L832.3,165.8L824.3,158.4L816.2,151.1L808.1,143.9L800,136.8L791.8,129.8L783.5,123L775.2,116.2L766.8,109.6L758.4,103.1L750,96.6L741.5,90.3L732.9,84.1L724.3,78L715.6,72.1L707,66.2L698.2,60.4L689.4,54.7L680.6,49.1L671.7,43.6L662.8,38.2L653.9,32.9L644.9,27.8L635.8,22.6"/>
<path d="M1047.1,125.3L1038.2,114.6L1029.1,104.1L1020,93.7L1010.7,83.6L1001.4,73.6L991.9,63.8L982.4,54.1L972.8,44.7L963,35.4L953.2,26.3"/>
</g>
<path d="M375.0,52.0H1028.0V877.5H375.0Z" fill="none" stroke="#2a2a2a" stroke-width="1.8"/>
<path d="M374.5,877.5V900M357.5,877.5H375M537.6,877.5V900M357.5,671.1H375M700.8,877.5V900M357.5,464.8H375M863.9,877.5V900M357.5,258.4H375M1027,877.5V900M357.5,52.1H375" fill="none" stroke="#2a2a2a" stroke-width="1.6"/>
<rect x="390.5" y="805" width="19.5" height="30.5" fill="#fff" stroke="#222" stroke-width="1.3"/>
<text transform="matrix(0.8352,0,0,1,393.8,830)" font-family="Liberation Sans,Arial,sans-serif" font-size="28.13" fill="#161616" stroke="#161616" stroke-width="0.35">3</text>
<rect x="511" y="641" width="19.5" height="31" fill="#fff" stroke="#222" stroke-width="1.3"/>
<text transform="matrix(0.7796,0,0,1,514.6,666.3)" font-family="Liberation Sans,Arial,sans-serif" font-size="28.54" fill="#161616" stroke="#161616" stroke-width="0.35">4</text>
<rect x="633.8" y="486" width="18.8" height="31.5" fill="#fff" stroke="#222" stroke-width="1.3"/>
<text transform="matrix(0.8290,0,0,1,636.6,511.6)" font-family="Liberation Sans,Arial,sans-serif" font-size="28.54" fill="#161616" stroke="#161616" stroke-width="0.35">5</text>
<rect x="760" y="341" width="19.5" height="30" fill="#fff" stroke="#222" stroke-width="1.3"/>
<text transform="matrix(0.8592,0,0,1,762.9,365.8)" font-family="Liberation Sans,Arial,sans-serif" font-size="28.13" fill="#161616" stroke="#161616" stroke-width="0.35">6</text>
<rect x="862" y="174.5" width="19.3" height="32" fill="#fff" stroke="#222" stroke-width="1.3"/>
<text transform="matrix(0.8592,0,0,1,864.8,200.3)" font-family="Liberation Sans,Arial,sans-serif" font-size="28.54" fill="#161616" stroke="#161616" stroke-width="0.35">7</text>
<rect x="1000.8" y="52.5" width="19.2" height="28.5" fill="#fff" stroke="#222" stroke-width="1.3"/>
<text transform="matrix(0.8470,0,0,1,1003.7,76.5)" font-family="Liberation Sans,Arial,sans-serif" font-size="28.13" fill="#161616" stroke="#161616" stroke-width="0.35">8</text>
<ellipse cx="374.5" cy="877.5" rx="5.6" ry="8.2" fill="#c00000" stroke="#3a0000" stroke-width="1.2"/>
<ellipse cx="537.6" cy="877.5" rx="5.6" ry="8.2" fill="#c00000" stroke="#3a0000" stroke-width="1.2"/>
<ellipse cx="700.8" cy="877.5" rx="5.6" ry="8.2" fill="#c00000" stroke="#3a0000" stroke-width="1.2"/>
<ellipse cx="863.9" cy="877.5" rx="5.6" ry="8.2" fill="#c00000" stroke="#3a0000" stroke-width="1.2"/>
<ellipse cx="1027" cy="877.5" rx="5.6" ry="8.2" fill="#c00000" stroke="#3a0000" stroke-width="1.2"/>
<ellipse cx="374.5" cy="670.9" rx="5.6" ry="8.2" fill="#c00000" stroke="#3a0000" stroke-width="1.2"/>
<ellipse cx="374.5" cy="464.5" rx="5.6" ry="8.2" fill="#c00000" stroke="#3a0000" stroke-width="1.2"/>
<ellipse cx="374.5" cy="258.1" rx="5.6" ry="8.2" fill="#c00000" stroke="#3a0000" stroke-width="1.2"/>
<ellipse cx="374.5" cy="51.8" rx="5.6" ry="8.2" fill="#c00000" stroke="#3a0000" stroke-width="1.2"/>
<ellipse cx="537.6" cy="670.9" rx="5.6" ry="8.2" fill="#c00000" stroke="#3a0000" stroke-width="1.2"/>
<ellipse cx="700.8" cy="464.5" rx="5.6" ry="8.2" fill="#c00000" stroke="#3a0000" stroke-width="1.2"/>
<text transform="matrix(0.8839,0,0,1,349.5,57)" font-family="Liberation Sans,Arial,sans-serif" font-size="33.44" fill="#161616" stroke="#161616" stroke-width="0.35">2</text>
<text transform="matrix(0.8764,0,0,1,349.5,264.5)" font-family="Liberation Sans,Arial,sans-serif" font-size="33.73" fill="#161616" stroke="#161616" stroke-width="0.35">2</text>
<text transform="matrix(0.7628,0,0,1,676.7,470)" font-family="Liberation Sans,Arial,sans-serif" font-size="34.45" fill="#161616" stroke="#161616" stroke-width="0.35">2</text>
<text transform="matrix(0.8004,0,0,1,1004.6,880)" font-family="Liberation Sans,Arial,sans-serif" font-size="30.14" fill="#3a0a00" stroke="#3a0a00" stroke-width="0.35">3</text>
<text transform="matrix(0.8280,0,0,1,323.9,59.5)" font-family="Liberation Sans,Arial,sans-serif" font-size="26.56" fill="#161616" stroke="#161616" stroke-width="0.35">20</text>
<text transform="matrix(0.7822,0,0,1,324.3,266.5)" font-family="Liberation Sans,Arial,sans-serif" font-size="27.67" fill="#161616" stroke="#161616" stroke-width="0.35">15</text>
<text transform="matrix(0.7773,0,0,1,324.3,472)" font-family="Liberation Sans,Arial,sans-serif" font-size="28.4" fill="#161616" stroke="#161616" stroke-width="0.35">10</text>
<text transform="matrix(0.8971,0,0,1,336,679)" font-family="Liberation Sans,Arial,sans-serif" font-size="27.67" fill="#161616" stroke="#161616" stroke-width="0.35">5</text>
<text transform="matrix(0.8462,0,0,1,336.1,885)" font-family="Liberation Sans,Arial,sans-serif" font-size="27.27" fill="#161616" stroke="#161616" stroke-width="0.35">0</text>
<text transform="matrix(0.8460,0,0,1,366,934.3)" font-family="Liberation Sans,Arial,sans-serif" font-size="29.14" fill="#161616" stroke="#161616" stroke-width="0.35">0</text>
<text transform="matrix(0.8218,0,0,1,529.5,934.3)" font-family="Liberation Sans,Arial,sans-serif" font-size="29.56" fill="#161616" stroke="#161616" stroke-width="0.35">5</text>
<text transform="matrix(0.6448,0,0,1,689.5,934.3)" font-family="Liberation Sans,Arial,sans-serif" font-size="29.56" fill="#161616" stroke="#161616" stroke-width="0.35">10</text>
<text transform="matrix(0.7321,0,0,1,852.3,934.3)" font-family="Liberation Sans,Arial,sans-serif" font-size="29.56" fill="#161616" stroke="#161616" stroke-width="0.35">15</text>
<text transform="matrix(0.7713,0,0,1,1014.9,934.3)" font-family="Liberation Sans,Arial,sans-serif" font-size="29.14" fill="#161616" stroke="#161616" stroke-width="0.35">20</text>
<text transform="matrix(0.7879,0,0,1,629.2,33.8)" font-family="Liberation Sans,Arial,sans-serif" font-size="41.14" fill="#161616" stroke="#161616" stroke-width="0.35">TFT (sec)</text>
<text transform="matrix(0.7838,0,0,1,635.9,1046)" font-family="Liberation Sans,Arial,sans-serif" font-size="34.95" fill="#161616" stroke="#161616" stroke-width="0.35">A: MK (%)</text>
<text transform="translate(261,551.6) rotate(-90) scale(1.2167,1)" font-family="Liberation Sans,Arial,sans-serif" font-size="29.13" fill="#161616">B: CBA (%)</text>
<text transform="matrix(1.0741,0,0,1,1.1,28.3)" font-family="Liberation Sans,Arial,sans-serif" font-size="29.56" fill="#161616">Factor Coding: Actual</text>
<text transform="matrix(1.0482,0,0,1,1.8,63.3)" font-family="Liberation Sans,Arial,sans-serif" font-size="30.29" fill="#161616">TFT (sec)</text>
<text transform="matrix(1.0686,0,0,1,49.1,97.5)" font-family="Liberation Sans,Arial,sans-serif" font-size="29.13" fill="#b81818">Design Points</text>
<text transform="matrix(1.1035,0,0,1,48.4,132.5)" font-family="Liberation Sans,Arial,sans-serif" font-size="29.86" fill="#ff1a1a">6.2</text>
<text transform="matrix(1.1159,0,0,1,49.1,202.5)" font-family="Liberation Sans,Arial,sans-serif" font-size="29.86" fill="#2a2aff">2.8</text>
<text transform="matrix(1.0834,0,0,1,1.7,306.3)" font-family="Liberation Sans,Arial,sans-serif" font-size="29.85" fill="#161616">X1 = A: MK</text>
<text transform="matrix(1.0586,0,0,1,1.8,340.8)" font-family="Liberation Sans,Arial,sans-serif" font-size="30.29" fill="#161616">X2 = B: CBA</text>
<ellipse cx="22" cy="87.5" rx="9.3" ry="9" fill="#c00000" stroke="#300" stroke-width="1.2"/>
<rect x="13.3" y="105.5" width="27" height="111.5" fill="url(#lg)" stroke="#222" stroke-width="1.8"/>
<text transform="matrix(1.0433,0,0,1,670.9,1169.3)" font-family="Liberation Serif,Times New Roman,serif" font-size="47.21" fill="#000">(a)</text>
<text transform="matrix(1.0102,0,0,1,1522.1,1169.3)" font-family="Liberation Serif,Times New Roman,serif" font-size="47.21" fill="#000">(b)</text>
<rect x="1043.5" y="23.5" width="1" height="9" fill="#b9a6f2" fill-opacity="0.55"/>
<path d="M1195.5,625.1L1583.2,437M1583.2,437L1938.7,645.9M1192.2,557.4L1583.1,374.9M1583.1,374.9L1942.2,578M1188.9,489.7L1583,312.7M1583,312.7L1945.6,510.1M1185.6,422L1582.9,250.6M1582.9,250.6L1949.1,442.2M1182.3,354.3L1582.8,188.4M1582.8,188.4L1952.6,374.2M1179.1,286.6L1582.7,126.3M1582.7,126.3L1956.1,306.3M1175.8,218.9L1582.6,64.1M1582.6,64.1L1959.5,238.4M1172.5,151.2L1582.5,2M1582.5,2L1963,170.5M1292.4,578.1L1275,113.9M1672.1,489.2L1677.6,44.1M1389.3,531.1L1377.5,76.6M1760.9,541.5L1772.8,86.2M1486.3,484L1480,39.3M1849.8,593.7L1867.9,128.4M1202.5,770L1172.5,151.2M1583.4,570L1582.5,2M1931.2,791.2L1963,170.5" fill="none" stroke="#1c1c1c" stroke-width="1.8"/>
<path d="M1202.5,770L1583.4,570L1931.2,791.2L1544.5,1048Z" fill="#ffff00" stroke="#1c1c1c" stroke-width="1.6" stroke-linejoin="round"/>
<g fill="none" stroke-width="2.7" clip-path="url(#fc)">
<path d="M1606,1026.7L1602,1026.2L1598.3,1025.7L1595,1025.3L1591.9,1025L1589,1024.6L1586.3,1024.3L1583.8,1024L1581.4,1023.8L1579.2,1023.5L1577,1023.3L1575,1023.1L1573.1,1022.9L1571.2,1022.7L1569.5,1022.6L1567.7,1022.4L1566.1,1022.3L1564.5,1022.1L1562.9,1022L1561.4,1021.9L1559.9,1021.7L1558.5,1021.6L1557,1021.5L1555.6,1021.4L1554.2,1021.3L1552.8,1021.2L1551.5,1021.1L1550.1,1021L1548.8,1020.9L1547.4,1020.8L1546,1020.7L1544.7,1020.6L1543.3,1020.5L1541.9,1020.4L1540.5,1020.3L1539,1020.2L1537.6,1020.2L1536.1,1020.1L1534.6,1020L1533,1019.9L1531.4,1019.8L1529.7,1019.7L1528,1019.6L1526.2,1019.6L1524.4,1019.5L1522.4,1019.4L1520.4,1019.3L1518.2,1019.2L1516,1019.1L1513.6,1019.1L1511,1019L1508.3,1018.9L1505.4,1018.8L1502.2,1018.8L1498.8,1018.7L1495.1,1018.6L1491.1,1018.6L1486.6,1018.6L1481.7,1018.6" stroke="#1a50e0"/>
<path d="M1736.8,939L1727,936.7L1717.5,934.4L1708.3,932.4L1699.3,930.5L1690.6,928.8L1682.2,927.2L1673.9,925.7L1665.9,924.3L1658,923L1650.3,921.9L1642.7,920.8L1635.3,919.8L1628,918.8L1620.8,918L1613.7,917.2L1606.7,916.4L1599.7,915.8L1592.9,915.2L1586,914.6L1579.2,914.1L1572.4,913.7L1565.7,913.3L1558.9,912.9L1552.1,912.6L1545.3,912.3L1538.5,912.1L1531.6,912L1524.7,911.9L1517.7,911.8L1510.7,911.8L1503.5,911.8L1496.3,911.9L1488.9,912.1L1481.4,912.3L1473.7,912.5L1465.9,912.9L1457.9,913.3L1449.7,913.7L1441.3,914.3L1432.6,914.9L1423.7,915.7L1414.5,916.5L1405,917.5L1395.1,918.5L1384.9,919.7L1374.2,921.1L1363.1,922.6" stroke="#00f596"/>
<path d="M1842.6,866.1L1828.6,861.5L1814.8,857.2L1801.3,853.2L1787.9,849.4L1774.8,845.9L1761.8,842.7L1749,839.7L1736.3,836.9L1723.8,834.3L1711.4,831.9L1699.1,829.7L1686.9,827.7L1674.8,825.9L1662.9,824.3L1651,822.8L1639.1,821.5L1627.4,820.3L1615.7,819.3L1604,818.5L1592.4,817.7L1580.7,817.2L1569.1,816.8L1557.5,816.5L1545.9,816.3L1534.3,816.3L1522.6,816.4L1510.9,816.7L1499.1,817.1L1487.3,817.6L1475.4,818.3L1463.4,819.1L1451.2,820.1L1439,821.2L1426.6,822.4L1414.1,823.8L1401.4,825.4L1388.5,827.1L1375.4,829L1362.1,831.1L1348.6,833.4L1334.7,835.9L1320.6,838.6L1306.2,841.5L1291.4,844.6L1276.2,848" stroke="#96ff00"/>
<path d="M1922.6,799.8L1905.5,793.2L1888.6,786.9L1871.7,781.1L1854.9,775.6L1838.2,770.4L1821.6,765.6L1805.1,761.2L1788.6,757L1772.1,753.2L1755.8,749.7L1739.4,746.5L1723.1,743.6L1706.9,741L1690.7,738.7L1674.6,736.7L1658.4,735L1642.4,733.6L1626.3,732.4L1610.3,731.5L1594.3,730.9L1578.3,730.5L1562.4,730.4L1546.4,730.5L1530.5,730.9L1514.6,731.5L1498.6,732.4L1482.7,733.5L1466.7,734.8L1450.7,736.4L1434.7,738.2L1418.6,740.2L1402.4,742.5L1386.2,745L1369.8,747.7L1353.4,750.7L1336.8,753.9L1320.1,757.3L1303.2,761L1286.1,764.9L1268.8,769.2L1251.2,773.7L1233.4,778.4L1215.3,783.5" stroke="#ff5000"/>
<path d="M1746.6,666L1726.6,662.8L1706.6,660.1L1686.5,657.8L1666.5,656L1646.5,654.5L1626.5,653.5L1606.5,652.9L1586.6,652.6L1566.7,652.8L1546.9,653.3L1527.1,654.2L1507.4,655.5L1487.7,657.1L1468.1,659L1448.5,661.3L1428.9,663.9L1409.4,666.8L1389.9,670L1370.3,673.5L1350.8,677.3" stroke="#1a30e0"/>
<path d="M1617.7,582L1594.1,582L1570.7,582.5L1547.3,583.5" stroke="#1a30e0"/>
</g>
<ellipse cx="1265.5" cy="478" rx="5.8" ry="8.6" fill="#e58a8a" stroke="#4a2020" stroke-width="1.2"/>
<ellipse cx="1446.2" cy="733" rx="5.8" ry="8.6" fill="#e58a8a" stroke="#4a2020" stroke-width="1.2"/>
<ellipse cx="1758" cy="611.2" rx="5.8" ry="8.6" fill="#e58a8a" stroke="#4a2020" stroke-width="1.2"/>
<ellipse cx="1857.5" cy="495" rx="5.8" ry="8.6" fill="#e58a8a" stroke="#4a2020" stroke-width="1.2"/>
<g><path d="M1543.6,836.9L1523.7,813.4L1503.9,789.8L1484.4,766.1L1465.2,742.3L1446.1,718.3L1427.2,694.3L1408.5,670.1L1390,645.9L1371.7,621.5L1353.5,597L1335.6,572.3L1317.8,547.6L1300.1,522.7L1282.6,497.7L1265.3,472.6L1248.1,447.3L1231.1,421.9L1214.1,396.4L1197.4,370.8L1180.7,345L1187,341.1L1203.6,366.8L1220.4,392.3L1237.3,417.7L1254.4,443L1271.6,468.1L1288.9,493.1L1306.4,518L1324,542.7L1341.8,567.3L1359.8,591.8L1378,616.2L1396.3,640.5L1414.8,664.6L1433.5,688.6L1452.4,712.5L1471.4,736.3L1490.7,760L1510.2,783.6L1529.9,807.1L1549.9,830.4Z" fill="url(#s0)"/><path d="M1548.5,831.8L1528.6,808.4L1508.9,784.9L1489.4,761.3L1470.1,737.6L1451,713.8L1432.1,689.8L1413.4,665.8L1394.9,641.6L1376.6,617.3L1358.5,592.9L1340.5,568.4L1322.7,543.8L1305,519L1287.6,494.1L1270.2,469.1L1253,443.9L1236,418.6L1219.1,393.2L1202.3,367.6L1185.6,341.9L1192.6,337.7L1209.2,363.2L1226,388.6L1242.9,413.9L1259.9,439.1L1277.1,464.1L1294.5,489L1312,513.7L1329.6,538.4L1347.4,562.9L1365.4,587.2L1383.5,611.5L1401.9,635.6L1420.4,659.7L1439.1,683.6L1457.9,707.3L1477,731L1496.3,754.6L1515.8,778L1535.6,801.4L1555.5,824.6Z" fill="url(#s1)"/><path d="M1554.2,826L1534.2,802.7L1514.5,779.4L1495,755.9L1475.7,732.3L1456.6,708.6L1437.7,684.8L1419,660.8L1400.5,636.8L1382.2,612.6L1364,588.4L1346.1,563.9L1328.3,539.4L1310.6,514.8L1293.1,490L1275.8,465.1L1258.6,440L1241.6,414.8L1224.6,389.5L1207.9,364.1L1191.2,338.5L1198.1,334.2L1214.8,359.7L1231.5,385L1248.4,410.2L1265.5,435.2L1282.7,460.1L1300,484.9L1317.5,509.5L1335.2,534L1353,558.4L1370.9,582.7L1389.1,606.8L1407.4,630.8L1425.9,654.7L1444.6,678.5L1463.5,702.1L1482.6,725.7L1501.9,749.1L1521.4,772.4L1541.1,795.7L1561.1,818.8Z" fill="url(#s2)"/><path d="M1559.8,820.2L1539.8,797L1520.1,773.8L1500.6,750.4L1481.3,727L1462.2,703.4L1443.3,679.7L1424.6,655.9L1406.1,632L1387.8,607.9L1369.6,583.8L1351.6,559.5L1333.8,535.1L1316.2,510.5L1298.7,485.9L1281.4,461.1L1264.2,436.1L1247.1,411.1L1230.2,385.9L1213.4,360.5L1196.8,335L1203.7,330.8L1220.3,356.1L1237.1,381.3L1254,406.4L1271,431.3L1288.2,456.1L1305.6,480.7L1323.1,505.3L1340.7,529.7L1358.5,553.9L1376.5,578.1L1394.6,602.1L1413,626L1431.5,649.8L1450.2,673.4L1469.1,697L1488.2,720.4L1507.5,743.7L1527,766.9L1546.7,790L1566.7,812.9Z" fill="url(#s3)"/><path d="M1565.3,814.3L1545.4,791.3L1525.6,768.2L1506.1,745L1486.8,721.7L1467.7,698.2L1448.8,674.6L1430.1,650.9L1411.6,627.1L1393.3,603.2L1375.2,579.2L1357.2,555L1339.4,530.7L1321.7,506.3L1304.2,481.7L1286.9,457L1269.7,432.2L1252.7,407.3L1235.8,382.2L1219,357L1202.3,331.6L1209.2,327.3L1225.8,352.5L1242.6,377.6L1259.5,402.6L1276.6,427.4L1293.8,452.1L1311.1,476.6L1328.6,501L1346.2,525.3L1364,549.4L1382,573.5L1400.2,597.4L1418.5,621.2L1437,644.8L1455.7,668.3L1474.6,691.8L1493.7,715.1L1513,738.2L1532.5,761.3L1552.3,784.3L1572.2,807.1Z" fill="url(#s4)"/><path d="M1570.9,808.5L1550.9,785.6L1531.2,762.7L1511.7,739.6L1492.4,716.3L1473.3,693L1454.4,669.6L1435.7,646L1417.2,622.3L1398.8,598.5L1380.7,574.6L1362.7,550.5L1344.9,526.3L1327.3,502L1309.8,477.6L1292.4,453L1275.2,428.3L1258.2,403.5L1241.3,378.5L1224.5,353.4L1207.9,328.2L1214.7,323.9L1231.4,349L1248.1,374L1265,398.8L1282.1,423.5L1299.3,448L1316.6,472.5L1334.1,496.8L1351.7,520.9L1369.6,545L1387.5,568.9L1405.7,592.7L1424,616.3L1442.5,639.9L1461.2,663.3L1480.1,686.6L1499.2,709.7L1518.5,732.8L1538.1,755.8L1557.8,778.6L1577.8,801.3Z" fill="url(#s5)"/><path d="M1576.5,802.7L1556.5,780L1536.7,757.1L1517.2,734.1L1497.9,711L1478.8,687.8L1459.9,664.5L1441.2,641L1422.7,617.5L1404.4,593.8L1386.2,570L1368.2,546L1350.4,522L1332.8,497.8L1315.3,473.5L1297.9,449L1280.8,424.4L1263.7,399.7L1246.8,374.8L1230,349.8L1213.4,324.7L1220.2,320.4L1236.8,345.4L1253.6,370.3L1270.5,395L1287.6,419.6L1304.8,444L1322.1,468.3L1339.6,492.5L1357.2,516.6L1375,540.5L1393,564.3L1411.2,587.9L1429.5,611.5L1448,634.9L1466.7,658.2L1485.6,681.4L1504.8,704.4L1524.1,727.4L1543.6,750.2L1563.3,772.9L1583.3,795.5Z" fill="url(#s6)"/><path d="M1582,796.9L1562,774.3L1542.3,751.5L1522.7,728.7L1503.4,705.7L1484.3,682.6L1465.4,659.4L1446.7,636.1L1428.2,612.6L1409.9,589.1L1391.7,565.4L1373.7,541.6L1355.9,517.6L1338.3,493.5L1320.8,469.3L1303.4,445L1286.3,420.5L1269.2,395.9L1252.3,371.2L1235.5,346.3L1218.9,321.2L1225.7,316.9L1242.3,341.8L1259.1,366.6L1276,391.2L1293,415.7L1310.2,440L1327.6,464.2L1345.1,488.3L1362.7,512.2L1380.5,536L1398.5,559.7L1416.7,583.2L1435,606.7L1453.5,630L1472.2,653.1L1491.1,676.2L1510.3,699.1L1529.6,721.9L1549.1,744.6L1568.9,767.2L1588.8,789.7Z" fill="url(#s7)"/><path d="M1587.5,791.1L1567.5,768.6L1547.8,746L1528.2,723.2L1508.9,700.4L1489.8,677.4L1470.9,654.3L1452.2,631.1L1433.7,607.8L1415.4,584.4L1397.2,560.8L1379.2,537.1L1361.4,513.3L1343.8,489.3L1326.3,465.2L1308.9,441L1291.7,416.6L1274.7,392.1L1257.8,367.5L1241,342.7L1224.4,317.8L1231.2,313.5L1247.8,338.3L1264.6,362.9L1281.5,387.4L1298.5,411.8L1315.7,436L1333,460.1L1350.5,484L1368.2,507.8L1386,531.5L1404,555.1L1422.1,578.5L1440.5,601.8L1459,625L1477.7,648.1L1496.6,671L1515.7,693.8L1535.1,716.5L1554.6,739.1L1574.4,761.5L1594.3,783.9Z" fill="url(#s8)"/><path d="M1593,785.3L1573,762.9L1553.3,740.4L1533.7,717.8L1514.4,695.1L1495.3,672.2L1476.4,649.3L1457.7,626.2L1439.2,603L1420.8,579.6L1402.7,556.2L1384.7,532.6L1366.9,508.9L1349.2,485L1331.7,461.1L1314.4,436.9L1297.2,412.7L1280.2,388.3L1263.3,363.8L1246.5,339.1L1229.8,314.3L1236.6,310L1253.2,334.7L1270,359.2L1286.9,383.6L1304,407.8L1321.1,431.9L1338.5,455.9L1356,479.8L1373.6,503.5L1391.4,527L1409.4,550.5L1427.6,573.8L1445.9,597L1464.5,620L1483.2,643L1502.1,665.8L1521.2,688.5L1540.5,711.1L1560.1,733.5L1579.8,755.8L1599.8,778.1Z" fill="url(#s9)"/><path d="M1598.5,779.4L1578.5,757.2L1558.8,734.8L1539.2,712.4L1519.9,689.8L1500.8,667L1481.9,644.2L1463.2,621.2L1444.6,598.1L1426.3,574.9L1408.1,551.6L1390.1,528.1L1372.3,504.5L1354.7,480.8L1337.2,456.9L1319.8,432.9L1302.7,408.8L1285.6,384.5L1268.7,360.1L1251.9,335.5L1235.3,310.8L1242,306.5L1258.7,331.1L1275.4,355.5L1292.3,379.8L1309.4,403.9L1326.6,427.9L1343.9,451.8L1361.4,475.5L1379.1,499.1L1396.9,522.6L1414.9,545.9L1433,569.1L1451.4,592.1L1469.9,615.1L1488.6,637.9L1507.5,660.6L1526.7,683.2L1546,705.6L1565.5,727.9L1585.3,750.2L1605.3,772.2Z" fill="url(#s10)"/><path d="M1604,773.6L1584,751.5L1564.2,729.3L1544.7,706.9L1525.4,684.4L1506.2,661.8L1487.3,639.1L1468.6,616.3L1450.1,593.3L1431.7,570.2L1413.6,547L1395.6,523.6L1377.8,500.1L1360.1,476.5L1342.6,452.8L1325.3,428.9L1308.1,404.9L1291,380.7L1274.1,356.4L1257.4,331.9L1240.7,307.4L1247.5,303L1264.1,327.5L1280.9,351.8L1297.8,376L1314.8,400L1332,423.9L1349.3,447.6L1366.8,471.2L1384.5,494.7L1402.3,518.1L1420.3,541.3L1438.5,564.4L1456.8,587.3L1475.3,610.1L1494.1,632.8L1513,655.4L1532.1,677.9L1551.4,700.2L1571,722.4L1590.8,744.5L1610.8,766.4Z" fill="url(#s11)"/><path d="M1609.5,767.8L1589.5,745.8L1569.7,723.7L1550.1,701.5L1530.8,679.1L1511.7,656.7L1492.8,634.1L1474,611.3L1455.5,588.5L1437.2,565.5L1419,542.4L1401,519.1L1383.2,495.8L1365.5,472.3L1348,448.6L1330.7,424.9L1313.5,400.9L1296.5,376.9L1279.6,352.7L1262.8,328.4L1246.2,303.9L1252.9,299.5L1269.5,323.9L1286.3,348.1L1303.2,372.2L1320.2,396.1L1337.4,419.8L1354.7,443.5L1372.2,467L1389.9,490.3L1407.7,513.6L1425.7,536.7L1443.9,559.6L1462.2,582.5L1480.8,605.2L1499.5,627.8L1518.4,650.2L1537.5,672.5L1556.9,694.7L1576.4,716.8L1596.2,738.8L1616.2,760.6Z" fill="url(#s12)"/><path d="M1614.9,762L1594.9,740.1L1575.1,718.2L1555.6,696L1536.2,673.8L1517.1,651.5L1498.2,629L1479.5,606.4L1460.9,583.6L1442.6,560.8L1424.4,537.8L1406.4,514.7L1388.6,491.4L1370.9,468L1353.4,444.5L1336.1,420.8L1318.9,397L1301.9,373.1L1285,349L1268.2,324.8L1251.6,300.4L1258.3,296.1L1274.9,320.3L1291.7,344.4L1308.6,368.3L1325.6,392.1L1342.8,415.8L1360.1,439.3L1377.6,462.7L1395.3,486L1413.1,509.1L1431.1,532.1L1449.3,554.9L1467.6,577.6L1486.2,600.2L1504.9,622.7L1523.8,645L1542.9,667.2L1562.3,689.3L1581.8,711.3L1601.6,733.1L1621.6,754.8Z" fill="url(#s13)"/><path d="M1620.3,756.2L1600.3,734.5L1580.5,712.6L1561,690.6L1541.6,668.5L1522.5,646.3L1503.6,623.9L1484.9,601.4L1466.3,578.8L1448,556L1429.8,533.2L1411.8,510.2L1394,487L1376.3,463.7L1358.8,440.3L1341.5,416.8L1324.3,393.1L1307.3,369.3L1290.4,345.3L1273.6,321.2L1257,296.9L1263.6,292.6L1280.3,316.7L1297,340.7L1313.9,364.5L1331,388.2L1348.2,411.8L1365.5,435.2L1383,458.4L1400.7,481.6L1418.5,504.6L1436.5,527.5L1454.6,550.2L1473,572.8L1491.5,595.3L1510.3,617.6L1529.2,639.8L1548.3,661.9L1567.7,683.9L1587.2,705.7L1607,727.4L1627.1,749Z" fill="url(#s14)"/><path d="M1625.8,750.4L1605.7,728.8L1586,707L1566.4,685.2L1547,663.2L1527.9,641.1L1509,618.8L1490.2,596.5L1471.7,574L1453.4,551.3L1435.2,528.6L1417.2,505.7L1399.4,482.6L1381.7,459.5L1364.2,436.2L1346.9,412.7L1329.7,389.2L1312.6,365.4L1295.7,341.6L1279,317.6L1262.4,293.4L1269,289.1L1285.6,313.1L1302.4,337L1319.3,360.7L1336.3,384.3L1353.5,407.7L1370.9,431L1388.4,454.2L1406,477.2L1423.8,500.1L1441.8,522.8L1460,545.5L1478.4,568L1496.9,590.3L1515.6,612.5L1534.6,634.6L1553.7,656.6L1573.1,678.4L1592.6,700.1L1612.4,721.7L1632.5,743.2Z" fill="url(#s15)"/><path d="M1631.2,744.6L1611.1,723.1L1591.3,701.5L1571.8,679.7L1552.4,657.9L1533.3,635.9L1514.4,613.7L1495.6,591.5L1477.1,569.1L1458.7,546.6L1440.6,524L1422.6,501.2L1404.7,478.3L1387.1,455.2L1369.6,432L1352.2,408.7L1335,385.2L1318,361.6L1301.1,337.8L1284.3,313.9L1267.7,289.9L1274.3,285.6L1291,309.5L1307.7,333.2L1324.6,356.9L1341.7,380.3L1358.9,403.7L1376.2,426.9L1393.7,449.9L1411.4,472.8L1429.2,495.6L1447.2,518.2L1465.4,540.7L1483.7,563.1L1502.3,585.3L1521,607.5L1539.9,629.4L1559.1,651.3L1578.4,673L1598,694.6L1617.8,716.1L1637.8,737.4Z" fill="url(#s16)"/><path d="M1636.6,738.8L1616.5,717.4L1596.7,695.9L1577.2,674.3L1557.8,652.6L1538.7,630.7L1519.7,608.7L1501,586.5L1482.4,564.3L1464.1,541.9L1445.9,519.3L1427.9,496.7L1410.1,473.9L1392.4,450.9L1374.9,427.9L1357.6,404.6L1340.4,381.3L1323.4,357.8L1306.5,334.1L1289.7,310.3L1273.1,286.4L1279.7,282.1L1296.3,305.9L1313.1,329.5L1330,353L1347,376.4L1364.2,399.6L1381.5,422.7L1399,445.6L1416.7,468.4L1434.5,491.1L1452.5,513.6L1470.7,536L1489.1,558.3L1507.6,580.4L1526.4,602.4L1545.3,624.2L1564.4,646L1583.8,667.6L1603.4,689L1623.2,710.4L1643.2,731.6Z" fill="url(#s17)"/><path d="M1641.9,733L1621.9,711.7L1602.1,690.4L1582.5,668.9L1563.2,647.2L1544,625.5L1525.1,603.6L1506.3,581.6L1487.8,559.4L1469.4,537.1L1451.2,514.7L1433.2,492.2L1415.4,469.5L1397.8,446.7L1380.3,423.7L1362.9,400.6L1345.7,377.3L1328.7,353.9L1311.8,330.4L1295,306.7L1278.4,282.9L1285,278.5L1301.6,302.2L1318.4,325.8L1335.3,349.2L1352.3,372.4L1369.5,395.6L1386.9,418.5L1404.4,441.4L1422,464L1439.8,486.6L1457.8,509L1476,531.3L1494.4,553.4L1512.9,575.4L1531.7,597.3L1550.6,619L1569.8,640.6L1589.2,662.1L1608.7,683.5L1628.5,704.7L1648.6,725.8Z" fill="url(#s18)"/><path d="M1647.3,727.2L1627.3,706.1L1607.5,684.8L1587.9,663.4L1568.5,641.9L1549.4,620.3L1530.4,598.5L1511.7,576.6L1493.1,554.6L1474.8,532.4L1456.6,510.1L1438.6,487.7L1420.7,465.1L1403.1,442.4L1385.6,419.5L1368.2,396.5L1351,373.4L1334,350.1L1317.1,326.7L1300.3,303.1L1283.7,279.4L1290.3,275L1306.9,298.6L1323.7,322.1L1340.6,345.3L1357.6,368.5L1374.8,391.5L1392.2,414.4L1409.7,437.1L1427.3,459.7L1445.2,482.1L1463.2,504.4L1481.3,526.5L1499.7,548.6L1518.3,570.5L1537,592.2L1556,613.8L1575.1,635.3L1594.5,656.7L1614.1,677.9L1633.9,699L1653.9,720Z" fill="url(#s19)"/><path d="M1652.7,721.4L1632.6,700.4L1612.8,679.2L1593.2,658L1573.8,636.6L1554.7,615.1L1535.7,593.4L1517,571.7L1498.4,549.7L1480.1,527.7L1461.9,505.5L1443.9,483.2L1426,460.7L1408.4,438.1L1390.9,415.4L1373.5,392.5L1356.3,369.4L1339.3,346.3L1322.4,322.9L1305.6,299.5L1289,275.9L1295.6,271.5L1312.2,295L1329,318.3L1345.9,341.5L1362.9,364.5L1380.1,387.4L1397.4,410.2L1414.9,432.8L1432.6,455.3L1450.4,477.6L1468.4,499.8L1486.6,521.8L1505,543.7L1523.6,565.5L1542.3,587.1L1561.3,608.6L1580.4,630L1599.8,651.2L1619.4,672.4L1639.2,693.3L1659.3,714.2Z" fill="url(#s20)"/><path d="M1658,715.6L1637.9,694.7L1618.1,673.7L1598.5,652.6L1579.2,631.3L1560,609.9L1541,588.4L1522.3,566.7L1503.7,544.9L1485.4,522.9L1467.2,500.9L1449.2,478.7L1431.3,456.3L1413.7,433.8L1396.2,411.2L1378.8,388.4L1361.6,365.5L1344.6,342.4L1327.7,319.2L1310.9,295.9L1294.3,272.3L1300.9,268L1317.5,291.4L1334.2,314.6L1351.1,337.7L1368.2,360.6L1385.4,383.4L1402.7,406L1420.2,428.5L1437.9,450.9L1455.7,473.1L1473.7,495.1L1491.9,517.1L1510.3,538.9L1528.8,560.5L1547.6,582.1L1566.6,603.4L1585.7,624.7L1605.1,645.8L1624.7,666.8L1644.5,687.7L1664.6,708.4Z" fill="url(#s21)"/><path d="M1663.3,709.8L1643.3,689L1623.4,668.1L1603.8,647.1L1584.5,626L1565.3,604.7L1546.3,583.3L1527.6,561.7L1509,540L1490.6,518.2L1472.5,496.3L1454.5,474.2L1436.6,451.9L1419,429.5L1401.4,407L1384.1,384.3L1366.9,361.5L1349.9,338.6L1333,315.5L1316.2,292.2L1299.6,268.8L1306.1,264.4L1322.7,287.7L1339.5,310.8L1356.4,333.8L1373.4,356.6L1390.6,379.3L1408,401.8L1425.5,424.2L1443.1,446.5L1461,468.6L1479,490.5L1497.2,512.3L1515.6,534L1534.1,555.6L1552.9,577L1571.8,598.2L1591,619.4L1610.4,640.4L1630,661.2L1649.8,682L1669.9,702.6Z" fill="url(#s22)"/><path d="M1668.6,704L1648.6,683.3L1628.7,662.6L1609.1,641.7L1589.7,620.7L1570.6,599.5L1551.6,578.2L1532.9,556.8L1514.3,535.2L1495.9,513.5L1477.7,491.6L1459.7,469.6L1441.9,447.5L1424.2,425.2L1406.7,402.8L1389.4,380.3L1372.2,357.6L1355.1,334.7L1338.2,311.7L1321.5,288.6L1304.9,265.3L1311.4,260.9L1328,284.1L1344.7,307.1L1361.6,329.9L1378.7,352.7L1395.9,375.2L1413.2,397.7L1430.7,419.9L1448.4,442.1L1466.2,464.1L1484.2,485.9L1502.4,507.6L1520.8,529.2L1539.4,550.6L1558.1,571.9L1577.1,593L1596.3,614.1L1615.7,634.9L1635.3,655.7L1655.1,676.3L1675.2,696.8Z" fill="url(#s23)"/><path d="M1673.9,698.2L1653.8,677.7L1634,657L1614.4,636.2L1595,615.3L1575.8,594.3L1556.9,573.1L1538.1,551.8L1519.6,530.3L1501.2,508.7L1483,487L1465,465.1L1447.1,443.1L1429.5,421L1412,398.7L1394.6,376.2L1377.4,353.6L1360.4,330.9L1343.5,308L1326.7,284.9L1310.1,261.8L1316.6,257.4L1333.2,280.4L1350,303.3L1366.9,326.1L1383.9,348.7L1401.1,371.2L1418.4,393.5L1436,415.6L1453.6,437.7L1471.5,459.5L1489.5,481.3L1507.7,502.9L1526.1,524.3L1544.6,545.6L1563.4,566.8L1582.4,587.8L1601.5,608.7L1620.9,629.5L1640.5,650.1L1660.4,670.6L1680.5,691Z" fill="url(#s24)"/><path d="M1679.2,692.4L1659.1,672L1639.3,651.5L1619.7,630.8L1600.3,610L1581.1,589.1L1562.1,568L1543.4,546.8L1524.8,525.5L1506.4,504L1488.2,482.4L1470.2,460.6L1452.4,438.7L1434.7,416.7L1417.2,394.5L1399.8,372.1L1382.6,349.7L1365.6,327L1348.7,304.2L1332,281.3L1315.3,258.2L1321.8,253.8L1338.4,276.8L1355.2,299.6L1372.1,322.2L1389.1,344.7L1406.3,367.1L1423.7,389.3L1441.2,411.3L1458.8,433.3L1476.7,455L1494.7,476.6L1512.9,498.1L1531.3,519.5L1549.9,540.7L1568.6,561.7L1587.6,582.6L1606.8,603.4L1626.2,624.1L1645.8,644.6L1665.6,664.9L1685.7,685.2Z" fill="url(#s25)"/><path d="M1684.5,686.6L1664.4,666.3L1644.5,645.9L1624.9,625.4L1605.5,604.7L1586.3,583.9L1567.4,562.9L1548.6,541.9L1530,520.6L1511.7,499.3L1493.5,477.8L1475.4,456.1L1457.6,434.3L1439.9,412.4L1422.4,390.3L1405.1,368.1L1387.9,345.7L1370.8,323.2L1353.9,300.5L1337.2,277.7L1320.6,254.7L1327,250.3L1343.6,273.1L1360.4,295.8L1377.3,318.4L1394.3,340.8L1411.5,363L1428.9,385.1L1446.4,407L1464.1,428.8L1481.9,450.5L1499.9,472L1518.1,493.4L1536.5,514.6L1555.1,535.7L1573.9,556.6L1592.8,577.4L1612,598.1L1631.4,618.6L1651,639L1670.9,659.3L1691,679.4Z" fill="url(#s26)"/><path d="M1689.7,680.8L1669.6,660.6L1649.8,640.4L1630.2,619.9L1610.8,599.4L1591.6,578.7L1572.6,557.9L1553.8,536.9L1535.3,515.8L1516.9,494.5L1498.7,473.1L1480.6,451.6L1462.8,429.9L1445.1,408.1L1427.6,386.1L1410.3,364L1393.1,341.7L1376,319.3L1359.1,296.7L1342.4,274L1325.8,251.1L1332.2,246.7L1348.8,269.5L1365.6,292.1L1382.5,314.5L1399.5,336.8L1416.7,358.9L1434.1,380.9L1451.6,402.7L1469.2,424.4L1487.1,446L1505.1,467.4L1523.3,488.6L1541.7,509.7L1560.3,530.7L1579.1,551.6L1598,572.2L1617.2,592.8L1636.6,613.2L1656.3,633.5L1676.1,653.6L1696.2,673.6Z" fill="url(#s27)"/><path d="M1695,675L1674.9,655L1655,634.8L1635.4,614.5L1616,594.1L1596.8,573.5L1577.8,552.8L1559,531.9L1540.5,510.9L1522.1,489.8L1503.9,468.5L1485.8,447.1L1468,425.5L1450.3,403.8L1432.8,381.9L1415.5,359.9L1398.3,337.7L1381.2,315.4L1364.3,293L1347.6,270.4L1330.9,247.6L1337.4,243.2L1354,265.8L1370.7,288.3L1387.6,310.6L1404.7,332.8L1421.9,354.8L1439.2,376.7L1456.7,398.4L1474.4,420L1492.3,441.5L1510.3,462.7L1528.5,483.9L1546.9,504.9L1565.5,525.7L1584.3,546.5L1603.2,567L1622.4,587.5L1641.9,607.8L1661.5,627.9L1681.4,647.9L1701.5,667.8Z" fill="url(#s28)"/><path d="M1700.2,669.2L1680.1,649.3L1660.2,629.2L1640.6,609.1L1621.2,588.7L1602,568.3L1583,547.7L1564.2,526.9L1545.7,506.1L1527.3,485L1509.1,463.9L1491,442.5L1473.2,421.1L1455.5,399.5L1438,377.7L1420.6,355.8L1403.4,333.8L1386.4,311.6L1369.5,289.2L1352.7,266.7L1336.1,244L1342.5,239.6L1359.1,262.1L1375.9,284.5L1392.8,306.7L1409.8,328.8L1427,350.7L1444.4,372.5L1461.9,394.1L1479.6,415.6L1497.4,436.9L1515.5,458.1L1533.7,479.1L1552.1,500L1570.7,520.8L1589.4,541.4L1608.4,561.8L1627.6,582.1L1647.1,602.3L1666.7,622.4L1686.6,642.2L1706.7,662Z" fill="url(#s29)"/><path d="M1705.4,663.4L1685.3,643.6L1665.4,623.7L1645.8,603.6L1626.4,583.4L1607.2,563.1L1588.2,542.6L1569.4,522L1550.8,501.2L1532.4,480.3L1514.2,459.2L1496.2,438L1478.3,416.7L1460.7,395.2L1443.2,373.5L1425.8,351.7L1408.6,329.8L1391.6,307.7L1374.7,285.4L1357.9,263L1341.3,240.5L1347.7,236.1L1364.3,258.5L1381,280.8L1397.9,302.9L1415,324.8L1432.2,346.6L1449.5,368.3L1467.1,389.8L1484.7,411.2L1502.6,432.4L1520.6,453.5L1538.8,474.4L1557.2,495.2L1575.8,515.8L1594.6,536.3L1613.6,556.6L1632.8,576.8L1652.2,596.9L1671.9,616.8L1691.8,636.6L1711.9,656.2Z" fill="url(#s30)"/><path d="M1710.6,657.6L1690.5,637.9L1670.6,618.1L1651,598.2L1631.6,578.1L1612.4,557.9L1593.4,537.5L1574.6,517L1556,496.3L1537.6,475.5L1519.4,454.6L1501.4,433.5L1483.5,412.2L1465.8,390.9L1448.3,369.3L1431,347.6L1413.8,325.8L1396.7,303.8L1379.8,281.7L1363.1,259.4L1346.4,236.9L1352.8,232.5L1369.4,254.8L1386.2,277L1403.1,299L1420.1,320.8L1437.3,342.6L1454.7,364.1L1472.2,385.5L1489.9,406.8L1507.7,427.9L1525.8,448.8L1544,469.6L1562.4,490.3L1581,510.8L1599.8,531.2L1618.8,551.4L1638,571.5L1657.4,591.4L1677.1,611.2L1696.9,630.9L1717.1,650.4Z" fill="url(#s31)"/><path d="M1715.8,651.8L1695.7,632.3L1675.8,612.6L1656.2,592.8L1636.7,572.8L1617.5,552.7L1598.5,532.4L1579.7,512L1561.1,491.5L1542.7,470.8L1524.5,449.9L1506.5,429L1488.6,407.8L1471,386.5L1453.4,365.1L1436.1,343.5L1418.9,321.8L1401.8,299.9L1384.9,277.9L1368.2,255.7L1351.6,233.3L1357.9,228.9L1374.5,251.1L1391.3,273.2L1408.2,295.1L1425.2,316.9L1442.4,338.5L1459.8,359.9L1477.3,381.2L1495,402.3L1512.9,423.3L1530.9,444.2L1549.1,464.9L1567.5,485.4L1586.1,505.8L1604.9,526.1L1623.9,546.2L1643.1,566.2L1662.6,586L1682.2,605.7L1702.1,625.2L1722.2,644.6Z" fill="url(#s32)"/><path d="M1721,646L1700.9,626.6L1681,607L1661.3,587.3L1641.9,567.5L1622.7,547.5L1603.7,527.3L1584.9,507L1566.3,486.6L1547.9,466L1529.7,445.3L1511.6,424.4L1493.8,403.4L1476.1,382.2L1458.6,360.9L1441.2,339.4L1424,317.8L1407,296L1390.1,274.1L1373.3,252L1356.7,229.8L1363,225.3L1379.6,247.4L1396.4,269.4L1413.3,291.2L1430.3,312.9L1447.5,334.3L1464.9,355.7L1482.4,376.9L1500.1,397.9L1518,418.8L1536,439.5L1554.2,460.1L1572.6,480.6L1591.2,500.9L1610,521L1629.1,541L1648.3,560.9L1667.7,580.6L1687.4,600.1L1707.3,619.5L1727.4,638.8Z" fill="url(#s33)"/><path d="M1726.2,640.2L1706,620.9L1686.1,601.5L1666.5,581.9L1647,562.1L1627.8,542.3L1608.8,522.2L1590,502.1L1571.4,481.7L1553,461.3L1534.8,440.7L1516.8,419.9L1498.9,399L1481.2,377.9L1463.7,356.7L1446.3,335.3L1429.1,313.8L1412.1,292.1L1395.2,270.3L1378.4,248.3L1361.8,226.2L1368.1,221.8L1384.7,243.8L1401.5,265.6L1418.4,287.3L1435.4,308.9L1452.6,330.2L1470,351.5L1487.5,372.6L1505.2,393.5L1523.1,414.3L1541.1,434.9L1559.3,455.4L1577.8,475.7L1596.4,495.9L1615.2,515.9L1634.2,535.8L1653.4,555.5L1672.8,575.1L1692.5,594.6L1712.4,613.9L1732.5,633Z" fill="url(#s34)"/><path d="M1731.3,634.4L1711.2,615.2L1691.3,595.9L1671.6,576.4L1652.2,556.8L1633,537.1L1613.9,517.1L1595.1,497.1L1576.5,476.9L1558.1,456.5L1539.9,436L1521.9,415.4L1504,394.6L1486.3,373.6L1468.8,352.5L1451.4,331.2L1434.2,309.8L1417.2,288.2L1400.3,266.5L1383.5,244.6L1366.9,222.6L1373.2,218.2L1389.8,240.1L1406.6,261.8L1423.5,283.4L1440.5,304.9L1457.7,326.1L1475.1,347.3L1492.6,368.2L1510.3,389.1L1528.2,409.7L1546.2,430.2L1564.4,450.6L1582.9,470.8L1601.5,490.9L1620.3,510.8L1639.3,530.6L1658.5,550.2L1678,569.7L1697.6,589L1717.5,608.2L1737.7,627.2Z" fill="url(#s35)"/><path d="M1736.4,628.6L1716.3,609.6L1696.4,590.4L1676.7,571L1657.3,551.5L1638.1,531.8L1619,512L1600.2,492.1L1581.6,472L1563.2,451.8L1545,431.4L1526.9,410.8L1509.1,390.1L1491.4,369.3L1473.9,348.3L1456.5,327.1L1439.3,305.8L1422.3,284.4L1405.4,262.7L1388.6,241L1372,219L1378.3,214.6L1394.9,236.4L1411.6,258L1428.5,279.5L1445.6,300.8L1462.8,322L1480.2,343L1497.7,363.9L1515.4,384.6L1533.2,405.2L1551.3,425.6L1569.5,445.9L1587.9,466L1606.6,485.9L1625.4,505.7L1644.4,525.4L1663.6,544.9L1683.1,564.3L1702.7,583.5L1722.7,602.5L1742.8,621.4Z" fill="url(#s36)"/><path d="M1741.6,622.8L1721.4,603.9L1701.5,584.8L1681.8,565.6L1662.4,546.2L1643.2,526.6L1624.1,507L1605.3,487.1L1586.7,467.1L1568.3,447L1550.1,426.7L1532,406.3L1514.2,385.7L1496.5,365L1478.9,344.1L1461.6,323L1444.4,301.8L1427.3,280.5L1410.4,258.9L1393.7,237.3L1377.1,215.4L1383.3,211L1399.9,232.7L1416.7,254.2L1433.6,275.6L1450.6,296.8L1467.8,317.9L1485.2,338.8L1502.7,359.6L1520.4,380.2L1538.3,400.6L1556.4,420.9L1574.6,441.1L1593,461.1L1611.6,480.9L1630.4,500.6L1649.5,520.2L1668.7,539.6L1688.2,558.8L1707.8,577.9L1727.8,596.8L1747.9,615.6Z" fill="url(#s37)"/><path d="M1746.7,617L1726.5,598.2L1706.6,579.2L1686.9,560.1L1667.5,540.8L1648.3,521.4L1629.2,501.9L1610.4,482.1L1591.8,462.3L1573.4,442.2L1555.1,422.1L1537.1,401.7L1519.2,381.3L1501.5,360.6L1484,339.8L1466.6,318.9L1449.4,297.8L1432.4,276.5L1415.5,255.1L1398.7,233.6L1382.1,211.8L1388.4,207.4L1405,229L1421.7,250.4L1438.6,271.7L1455.7,292.8L1472.9,313.8L1490.3,334.6L1507.8,355.3L1525.5,375.8L1543.4,396.1L1561.4,416.3L1579.6,436.3L1598.1,456.2L1616.7,475.9L1635.5,495.5L1654.5,515L1673.8,534.2L1693.2,553.4L1712.9,572.3L1732.9,591.2L1753,609.9Z" fill="url(#s38)"/><path d="M1751.8,611.2L1731.6,592.5L1711.7,573.7L1692,554.7L1672.6,535.5L1653.3,516.2L1634.3,496.8L1615.5,477.1L1596.9,457.4L1578.4,437.5L1560.2,417.4L1542.1,397.2L1524.3,376.8L1506.6,356.3L1489,335.6L1471.7,314.8L1454.5,293.8L1437.4,272.6L1420.5,251.3L1403.8,229.9L1387.1,208.2L1393.4,203.8L1410,225.3L1426.8,246.6L1443.7,267.8L1460.7,288.8L1477.9,309.7L1495.3,330.4L1512.8,350.9L1530.5,371.3L1548.4,391.6L1566.5,411.6L1584.7,431.6L1603.1,451.3L1621.7,471L1640.6,490.4L1659.6,509.7L1678.9,528.9L1698.3,547.9L1718,566.8L1737.9,585.5L1758.1,604.1Z" fill="url(#s39)"/><path d="M1756.9,605.5L1736.7,586.9L1716.8,568.1L1697.1,549.2L1677.6,530.2L1658.4,511L1639.4,491.7L1620.5,472.2L1601.9,452.5L1583.5,432.7L1565.2,412.8L1547.2,392.6L1529.3,372.4L1511.6,352L1494.1,331.4L1476.7,310.7L1459.5,289.8L1442.5,268.7L1425.6,247.5L1408.8,226.2L1392.2,204.6L1398.4,200.2L1415,221.6L1431.8,242.8L1448.7,263.9L1465.7,284.8L1482.9,305.5L1500.3,326.1L1517.8,346.6L1535.5,366.9L1553.4,387L1571.5,407L1589.7,426.8L1608.2,446.5L1626.8,466L1645.6,485.3L1664.7,504.5L1683.9,523.6L1703.4,542.5L1723.1,561.2L1743,579.8L1763.2,598.3Z" fill="url(#s40)"/><path d="M1762,599.7L1741.8,581.2L1721.9,562.6L1702.2,543.8L1682.7,524.9L1663.4,505.8L1644.4,486.6L1625.6,467.2L1606.9,447.6L1588.5,427.9L1570.3,408.1L1552.2,388.1L1534.3,367.9L1516.6,347.6L1499.1,327.2L1481.7,306.5L1464.5,285.8L1447.5,264.8L1430.6,243.7L1413.8,222.5L1397.2,201L1403.4,196.6L1420,217.9L1436.8,239L1453.7,260L1470.7,280.8L1487.9,301.4L1505.3,321.9L1522.9,342.2L1540.6,362.4L1558.4,382.4L1576.5,402.3L1594.7,422L1613.2,441.6L1631.8,461L1650.6,480.2L1669.7,499.3L1688.9,518.3L1708.4,537L1728.1,555.7L1748.1,574.2L1768.2,592.5Z" fill="url(#s41)"/><path d="M1767,593.9L1746.9,575.5L1726.9,557L1707.2,538.4L1687.7,519.5L1668.5,500.6L1649.4,481.5L1630.6,462.2L1612,442.8L1593.5,423.2L1575.3,403.4L1557.2,383.5L1539.4,363.5L1521.6,343.3L1504.1,322.9L1486.7,302.4L1469.5,281.7L1452.5,260.9L1435.6,239.9L1418.8,218.7L1402.2,197.4L1408.4,192.9L1425,214.1L1441.8,235.2L1458.7,256L1475.7,276.7L1492.9,297.3L1510.3,317.7L1527.8,337.9L1545.6,358L1563.4,377.9L1581.5,397.7L1599.8,417.3L1618.2,436.7L1636.8,456L1655.7,475.1L1674.7,494.1L1694,512.9L1713.5,531.6L1733.2,550.1L1753.1,568.5L1773.3,586.7Z" fill="url(#s42)"/><path d="M1772.1,588.1L1751.9,569.8L1732,551.4L1712.3,532.9L1692.8,514.2L1673.5,495.4L1654.5,476.4L1635.6,457.2L1617,437.9L1598.5,418.4L1580.3,398.8L1562.2,379L1544.4,359L1526.6,338.9L1509.1,318.7L1491.7,298.3L1474.5,277.7L1457.5,257L1440.6,236.1L1423.8,215L1407.2,193.8L1413.4,189.3L1430,210.4L1446.7,231.3L1463.6,252.1L1480.7,272.7L1497.9,293.1L1515.3,313.4L1532.8,333.6L1550.5,353.5L1568.4,373.3L1586.5,393L1604.7,412.5L1623.2,431.8L1641.8,451L1660.7,470L1679.7,488.9L1699,507.6L1718.5,526.2L1738.2,544.6L1758.1,562.8L1778.3,580.9Z" fill="url(#s43)"/><path d="M1777.1,582.3L1756.9,564.2L1737,545.9L1717.3,527.5L1697.8,508.9L1678.5,490.1L1659.5,471.2L1640.6,452.2L1622,433L1603.5,413.6L1585.3,394.1L1567.2,374.4L1549.3,354.6L1531.6,334.6L1514.1,314.5L1496.7,294.1L1479.5,273.7L1462.4,253L1445.5,232.3L1428.8,211.3L1412.2,190.2L1418.3,185.7L1434.9,206.7L1451.7,227.5L1468.6,248.2L1485.7,268.7L1502.9,289L1520.3,309.2L1537.8,329.2L1555.5,349.1L1573.4,368.8L1591.5,388.3L1609.7,407.7L1628.2,426.9L1646.8,446L1665.7,464.9L1684.7,483.7L1704,502.3L1723.5,520.7L1743.2,539L1763.2,557.1L1783.4,575.1Z" fill="url(#s44)"/><path d="M1782.2,576.5L1762,558.5L1742,540.3L1722.3,522L1702.8,503.5L1683.5,484.9L1664.5,466.1L1645.6,447.2L1627,428.1L1608.5,408.9L1590.3,389.4L1572.2,369.9L1554.3,350.1L1536.6,330.3L1519.1,310.2L1501.7,290L1484.5,269.6L1467.4,249.1L1450.5,228.4L1433.7,207.6L1417.1,186.6L1423.3,182.1L1439.9,203L1456.6,223.7L1473.6,244.2L1490.6,264.6L1507.8,284.9L1525.2,304.9L1542.8,324.9L1560.5,344.6L1578.4,364.2L1596.4,383.6L1614.7,402.9L1633.1,422L1651.8,441L1670.7,459.8L1689.7,478.5L1709,496.9L1728.5,515.3L1748.2,533.4L1768.2,551.4L1788.4,569.3Z" fill="url(#s45)"/><path d="M1787.2,570.7L1767,552.8L1747,534.8L1727.3,516.6L1707.8,498.2L1688.5,479.7L1669.5,461L1650.6,442.2L1632,423.2L1613.5,404.1L1595.2,384.8L1577.2,365.3L1559.3,345.7L1541.6,325.9L1524,306L1506.6,285.9L1489.4,265.6L1472.4,245.2L1455.5,224.6L1438.7,203.8L1422.1,182.9L1428.2,178.4L1444.8,199.2L1461.6,219.8L1478.5,240.3L1495.6,260.6L1512.8,280.7L1530.2,300.7L1547.7,320.5L1565.4,340.2L1583.3,359.6L1601.4,379L1619.7,398.1L1638.1,417.2L1656.8,436L1675.6,454.7L1694.7,473.2L1714,491.6L1733.5,509.8L1753.2,527.9L1773.2,545.8L1793.4,563.5Z" fill="url(#s46)"/><path d="M1792.2,564.9L1772,547.1L1752,529.2L1732.3,511.1L1712.8,492.9L1693.5,474.5L1674.4,455.9L1655.6,437.2L1636.9,418.3L1618.5,399.3L1600.2,380.1L1582.1,360.7L1564.2,341.2L1546.5,321.6L1529,301.7L1511.6,281.7L1494.4,261.6L1477.3,241.2L1460.4,220.8L1443.6,200.1L1427,179.3L1433.1,174.8L1449.8,195.5L1466.5,216L1483.4,236.4L1500.5,256.5L1517.7,276.6L1535.1,296.4L1552.6,316.2L1570.4,335.7L1588.3,355.1L1606.3,374.3L1624.6,393.4L1643.1,412.3L1661.7,431L1680.6,449.6L1699.7,468L1718.9,486.3L1738.5,504.4L1758.2,522.3L1778.2,540.1L1798.4,557.7Z" fill="url(#s47)"/><path d="M1797.2,559.1L1777,541.5L1757,523.6L1737.3,505.7L1717.7,487.6L1698.5,469.3L1679.4,450.8L1660.5,432.2L1641.9,413.4L1623.4,394.5L1605.2,375.4L1587.1,356.2L1569.2,336.8L1551.5,317.2L1533.9,297.5L1516.5,277.6L1499.3,257.5L1482.2,237.3L1465.3,216.9L1448.6,196.4L1432,175.7L1438,171.2L1454.7,191.7L1471.4,212.2L1488.3,232.4L1505.4,252.5L1522.6,272.4L1540,292.2L1557.6,311.8L1575.3,331.2L1593.2,350.5L1611.3,369.6L1629.5,388.6L1648,407.4L1666.7,426L1685.5,444.5L1704.6,462.8L1723.9,480.9L1743.4,498.9L1763.2,516.8L1783.1,534.4L1803.4,551.9Z" fill="url(#s48)"/><path d="M1802.2,553.3L1782,535.8L1762,518.1L1742.2,500.2L1722.7,482.2L1703.4,464L1684.3,445.7L1665.5,427.2L1646.8,408.5L1628.4,389.7L1610.1,370.7L1592,351.6L1574.1,332.3L1556.4,312.8L1538.8,293.2L1521.4,273.4L1504.2,253.5L1487.2,233.4L1470.2,213.1L1453.5,192.6L1436.9,172L1442.9,167.5L1459.6,188L1476.3,208.3L1493.2,228.5L1510.3,248.4L1527.5,268.3L1544.9,287.9L1562.5,307.4L1580.2,326.8L1598.1,345.9L1616.2,364.9L1634.5,383.8L1652.9,402.5L1671.6,421L1690.5,439.4L1709.5,457.6L1728.8,475.6L1748.4,493.5L1768.1,511.2L1788.1,528.7L1808.3,546.1Z" fill="url(#s49)"/><path d="M1807.1,547.5L1786.9,530.1L1766.9,512.5L1747.2,494.8L1727.7,476.9L1708.4,458.8L1689.3,440.6L1670.4,422.2L1651.7,403.7L1633.3,384.9L1615,366.1L1596.9,347L1579,327.8L1561.3,308.5L1543.7,289L1526.4,269.3L1509.1,249.4L1492.1,229.4L1475.2,209.2L1458.4,188.9L1441.8,168.4L1447.8,163.9L1464.5,184.2L1481.2,204.5L1498.1,224.5L1515.2,244.4L1532.4,264.1L1549.8,283.7L1567.4,303.1L1585.1,322.3L1603,341.4L1621.1,360.3L1639.4,379L1657.8,397.6L1676.5,416L1695.4,434.3L1714.5,452.3L1733.8,470.3L1753.3,488L1773.1,505.6L1793.1,523.1L1813.3,540.3Z" fill="url(#s50)"/><path d="M1812.1,541.7L1791.9,524.4L1771.9,507L1752.1,489.3L1732.6,471.5L1713.3,453.6L1694.2,435.5L1675.3,417.2L1656.7,398.8L1638.2,380.2L1619.9,361.4L1601.8,342.5L1583.9,323.4L1566.2,304.1L1548.6,284.7L1531.3,265.1L1514,245.4L1497,225.5L1480,205.4L1463.3,185.1L1446.7,164.7L1452.7,160.2L1469.3,180.5L1486.1,200.6L1503,220.5L1520.1,240.3L1537.3,260L1554.7,279.4L1572.3,298.7L1590,317.8L1607.9,336.8L1626,355.6L1644.3,374.2L1662.7,392.7L1681.4,411L1700.3,429.1L1719.4,447.1L1738.7,464.9L1758.2,482.6L1778,500.1L1798,517.4L1818.2,534.5Z" fill="url(#s51)"/><path d="M1817.1,535.9L1796.8,518.7L1776.8,501.4L1757.1,483.9L1737.5,466.2L1718.2,448.4L1699.1,430.4L1680.2,412.2L1661.6,393.9L1643.1,375.4L1624.8,356.7L1606.7,337.9L1588.8,318.9L1571.1,299.7L1553.5,280.4L1536.1,261L1518.9,241.3L1501.8,221.5L1484.9,201.5L1468.2,181.4L1451.5,161.1L1457.6,156.5L1474.2,176.7L1491,196.7L1507.9,216.6L1524.9,236.3L1542.2,255.8L1559.6,275.1L1577.1,294.3L1594.9,313.3L1612.8,332.2L1630.9,350.9L1649.2,369.4L1667.6,387.8L1686.3,406L1705.2,424L1724.3,441.9L1743.6,459.6L1763.2,477.1L1782.9,494.5L1802.9,511.7L1823.2,528.7Z" fill="url(#s52)"/><path d="M1822,530.1L1801.7,513.1L1781.7,495.8L1762,478.4L1742.4,460.9L1723.1,443.1L1704,425.2L1685.1,407.2L1666.5,389L1648,370.6L1629.7,352L1611.6,333.3L1593.7,314.4L1576,295.4L1558.4,276.2L1541,256.8L1523.8,237.2L1506.7,217.5L1489.8,197.7L1473,177.6L1456.4,157.4L1462.4,152.9L1479,173L1495.8,192.9L1512.7,212.6L1529.8,232.2L1547,251.6L1564.4,270.9L1582,290L1599.7,308.9L1617.6,327.6L1635.7,346.2L1654,364.6L1672.5,382.9L1691.2,401L1710.1,418.9L1729.2,436.7L1748.5,454.2L1768.1,471.7L1787.8,488.9L1807.9,506L1828.1,523Z" fill="url(#s53)"/><path d="M1826.9,524.3L1806.7,507.4L1786.7,490.3L1766.9,473L1747.3,455.5L1728,437.9L1708.9,420.1L1690,402.2L1671.3,384.1L1652.9,365.8L1634.6,347.3L1616.5,328.7L1598.6,309.9L1580.8,291L1563.3,271.9L1545.9,252.6L1528.6,233.2L1511.6,213.6L1494.7,193.8L1477.9,173.9L1461.3,153.8L1467.3,149.2L1483.9,169.2L1500.7,189L1517.6,208.7L1534.6,228.1L1551.9,247.4L1569.3,266.6L1586.8,285.6L1604.6,304.4L1622.5,323L1640.6,341.5L1658.9,359.8L1677.4,378L1696.1,396L1715,413.8L1734.1,431.4L1753.4,448.9L1773,466.2L1792.7,483.4L1812.8,500.3L1833,517.2Z" fill="url(#s54)"/><path d="M1831.8,518.6L1811.6,501.7L1791.6,484.7L1771.8,467.5L1752.2,450.2L1732.9,432.7L1713.8,415L1694.9,397.2L1676.2,379.2L1657.7,361L1639.4,342.6L1621.3,324.1L1603.4,305.5L1585.7,286.6L1568.1,267.6L1550.7,248.5L1533.5,229.1L1516.4,209.6L1499.5,189.9L1482.7,170.1L1466.1,150.1L1472.1,145.5L1488.7,165.4L1505.5,185.1L1522.4,204.7L1539.5,224.1L1556.7,243.3L1574.1,262.3L1591.7,281.2L1609.4,299.9L1627.4,318.4L1645.5,336.8L1663.8,355L1682.2,373.1L1700.9,390.9L1719.8,408.7L1739,426.2L1758.3,443.6L1777.8,460.8L1797.6,477.8L1817.7,494.7L1837.9,511.4Z" fill="url(#s55)"/><path d="M1836.8,512.8L1816.5,496L1796.5,479.1L1776.7,462.1L1757.1,444.8L1737.8,427.4L1718.7,409.9L1699.8,392.2L1681.1,374.3L1662.6,356.2L1644.3,338L1626.2,319.5L1608.3,301L1590.5,282.2L1573,263.3L1555.6,244.3L1538.3,225L1521.2,205.6L1504.3,186.1L1487.6,166.3L1470.9,146.4L1476.9,141.9L1493.5,161.6L1510.3,181.3L1527.2,200.7L1544.3,220L1561.5,239.1L1578.9,258L1596.5,276.8L1614.3,295.4L1632.2,313.9L1650.3,332.1L1668.6,350.2L1687.1,368.2L1705.8,385.9L1724.7,403.5L1743.8,421L1763.1,438.2L1782.7,455.3L1802.5,472.2L1822.5,489L1842.8,505.6Z" fill="url(#s56)"/><path d="M1841.6,507L1821.4,490.4L1801.3,473.6L1781.5,456.6L1762,439.5L1742.6,422.2L1723.5,404.8L1704.6,387.1L1685.9,369.3L1667.4,351.4L1649.1,333.3L1631,315L1613.1,296.5L1595.4,277.9L1577.8,259.1L1560.4,240.1L1543.1,221L1526.1,201.7L1509.1,182.2L1492.4,162.6L1475.8,142.7L1481.7,138.2L1498.3,157.9L1515.1,177.4L1532,196.7L1549.1,215.9L1566.4,234.9L1583.8,253.8L1601.3,272.4L1619.1,290.9L1637,309.3L1655.1,327.4L1673.4,345.4L1691.9,363.3L1710.6,380.9L1729.5,398.4L1748.7,415.7L1768,432.9L1787.6,449.9L1807.4,466.7L1827.4,483.3L1847.7,499.8Z" fill="url(#s57)"/><path d="M1846.5,501.2L1826.2,484.7L1806.2,468L1786.4,451.2L1766.8,434.2L1747.5,417L1728.4,399.6L1709.5,382.1L1690.8,364.4L1672.3,346.6L1654,328.6L1635.9,310.4L1617.9,292L1600.2,273.5L1582.6,254.8L1565.2,235.9L1548,216.9L1530.9,197.7L1514,178.3L1497.2,158.8L1480.6,139.1L1486.5,134.5L1503.1,154.1L1519.9,173.5L1536.8,192.7L1553.9,211.8L1571.2,230.7L1588.6,249.5L1606.1,268L1623.9,286.4L1641.8,304.7L1659.9,322.7L1678.2,340.6L1696.8,358.3L1715.5,375.9L1734.4,393.3L1753.5,410.5L1772.8,427.5L1792.4,444.4L1812.2,461.1L1832.3,477.6L1852.6,494Z" fill="url(#s58)"/><path d="M1851.4,495.4L1831.1,479L1811.1,462.4L1791.3,445.7L1771.7,428.8L1752.3,411.7L1733.2,394.5L1714.3,377.1L1695.6,359.5L1677.1,341.8L1658.8,323.9L1640.7,305.8L1622.7,287.5L1605,269.1L1587.4,250.5L1570,231.7L1552.8,212.8L1535.7,193.7L1518.8,174.4L1502,155L1485.4,135.4L1491.3,130.8L1507.9,150.3L1524.7,169.6L1541.6,188.8L1558.7,207.7L1575.9,226.5L1593.4,245.2L1610.9,263.6L1628.7,281.9L1646.6,300.1L1664.7,318L1683.1,335.8L1701.6,353.4L1720.3,370.9L1739.2,388.1L1758.3,405.3L1777.7,422.2L1797.3,438.9L1817.1,455.5L1837.1,471.9L1857.4,488.2Z" fill="url(#s59)"/><path d="M1856.3,489.6L1836,473.3L1815.9,456.9L1796.1,440.3L1776.5,423.5L1757.2,406.5L1738,389.4L1719.1,372.1L1700.4,354.6L1681.9,337L1663.6,319.2L1645.5,301.2L1627.5,283L1609.8,264.7L1592.2,246.2L1574.8,227.5L1557.6,208.7L1540.5,189.7L1523.5,170.5L1506.8,151.2L1490.1,131.7L1496.1,127.1L1512.7,146.5L1529.5,165.7L1546.4,184.8L1563.5,203.6L1580.7,222.3L1598.1,240.9L1615.7,259.3L1633.5,277.4L1651.4,295.5L1669.5,313.3L1687.9,331L1706.4,348.5L1725.1,365.9L1744,383L1763.1,400L1782.5,416.8L1802.1,433.5L1821.9,450L1842,466.3L1862.3,482.4Z" fill="url(#s60)"/><path d="M1861.1,483.8L1840.8,467.6L1820.8,451.3L1800.9,434.8L1781.3,418.1L1762,401.3L1742.9,384.2L1723.9,367.1L1705.2,349.7L1686.7,332.2L1668.4,314.5L1650.3,296.6L1632.3,278.5L1614.6,260.3L1597,241.9L1579.6,223.4L1562.3,204.6L1545.2,185.7L1528.3,166.7L1511.5,147.4L1494.9,128L1500.8,123.4L1517.4,142.7L1534.2,161.8L1551.2,180.8L1568.2,199.5L1585.5,218.2L1602.9,236.6L1620.5,254.9L1638.2,272.9L1656.2,290.9L1674.3,308.6L1692.6,326.2L1711.2,343.6L1729.9,360.8L1748.8,377.9L1768,394.8L1787.3,411.5L1806.9,428L1826.7,444.4L1846.8,460.6L1867.1,476.6Z" fill="url(#s61)"/><path d="M1866,478L1845.6,461.9L1825.6,445.7L1805.8,429.3L1786.2,412.8L1766.8,396L1747.7,379.1L1728.7,362L1710,344.8L1691.5,327.3L1673.2,309.7L1655,292L1637.1,274L1619.3,255.9L1601.8,237.6L1584.3,219.2L1567.1,200.5L1550,181.7L1533.1,162.8L1516.3,143.6L1499.7,124.3L1505.6,119.7L1522.2,138.9L1539,157.9L1555.9,176.8L1573,195.4L1590.2,214L1607.7,232.3L1625.2,250.5L1643,268.4L1661,286.3L1679.1,303.9L1697.4,321.4L1715.9,338.7L1734.7,355.8L1753.6,372.8L1772.7,389.5L1792.1,406.1L1811.7,422.6L1831.5,438.8L1851.6,454.9L1871.9,470.8Z" fill="url(#s62)"/><path d="M1870.8,472.2L1850.5,456.3L1830.4,440.1L1810.6,423.9L1791,407.4L1771.6,390.8L1752.4,374L1733.5,357L1714.8,339.9L1696.3,322.5L1677.9,305L1659.8,287.4L1641.9,269.5L1624.1,251.5L1606.5,233.3L1589.1,215L1571.9,196.4L1554.8,177.7L1537.8,158.9L1521.1,139.8L1504.4,120.6L1510.3,116L1526.9,135.1L1543.7,154L1560.6,172.8L1577.7,191.3L1595,209.8L1612.4,228L1630,246L1647.8,263.9L1665.7,281.6L1683.9,299.2L1702.2,316.6L1720.7,333.8L1739.4,350.8L1758.4,367.6L1777.5,384.3L1796.9,400.8L1816.5,417.1L1836.4,433.2L1856.4,449.2L1876.8,465Z" fill="url(#s63)"/><path d="M1875.6,466.4L1855.3,450.6L1835.2,434.6L1815.4,418.4L1795.8,402.1L1776.4,385.5L1757.2,368.8L1738.3,352L1719.6,334.9L1701,317.7L1682.7,300.3L1664.6,282.8L1646.6,265L1628.9,247.1L1611.3,229L1593.8,210.8L1576.6,192.3L1559.5,173.7L1542.6,155L1525.8,136L1509.2,116.9L1515,112.3L1531.7,131.3L1548.4,150.1L1565.4,168.8L1582.5,187.2L1599.7,205.5L1617.1,223.7L1634.7,241.6L1652.5,259.4L1670.5,277L1688.6,294.5L1706.9,311.7L1725.5,328.8L1744.2,345.7L1763.1,362.5L1782.3,379L1801.7,395.4L1821.3,411.6L1841.1,427.7L1861.2,443.5L1881.6,459.2Z" fill="url(#s64)"/><path d="M1880.4,460.6L1860.1,444.9L1840,429L1820.2,412.9L1800.5,396.7L1781.2,380.3L1762,363.7L1743.1,346.9L1724.3,330L1705.8,312.9L1687.5,295.6L1669.3,278.1L1651.4,260.5L1633.6,242.7L1616,224.7L1598.6,206.6L1581.3,188.2L1564.2,169.7L1547.3,151L1530.5,132.2L1513.9,113.2L1519.7,108.6L1536.4,127.5L1553.2,146.2L1570.1,164.8L1587.2,183.1L1604.4,201.3L1621.9,219.4L1639.5,237.2L1657.2,254.9L1675.2,272.4L1693.3,289.8L1711.7,306.9L1730.2,323.9L1749,340.7L1767.9,357.3L1787.1,373.8L1806.5,390.1L1826.1,406.2L1845.9,422.1L1866,437.8L1886.4,453.4Z" fill="url(#s65)"/><path d="M1885.2,454.8L1864.9,439.2L1844.8,423.4L1824.9,407.5L1805.3,391.4L1785.9,375.1L1766.8,358.6L1747.8,341.9L1729.1,325.1L1710.5,308.1L1692.2,290.9L1674.1,273.5L1656.1,256L1638.3,238.3L1620.7,220.4L1603.3,202.3L1586.1,184.1L1569,165.7L1552,147.1L1535.2,128.4L1518.6,109.5L1524.4,104.8L1541.1,123.6L1557.9,142.3L1574.8,160.7L1591.9,179L1609.2,197.1L1626.6,215.1L1644.2,232.8L1662,250.4L1679.9,267.8L1698.1,285L1716.4,302.1L1734.9,319L1753.7,335.7L1772.6,352.2L1791.8,368.5L1811.2,384.7L1830.8,400.7L1850.7,416.5L1870.8,432.1L1891.2,447.6Z" fill="url(#s66)"/><path d="M1890,449L1869.7,433.5L1849.6,417.8L1829.7,402L1810.1,386L1790.7,369.8L1771.5,353.4L1752.6,336.9L1733.8,320.2L1715.3,303.3L1696.9,286.2L1678.8,268.9L1660.8,251.5L1643,233.9L1625.4,216.1L1608,198.1L1590.8,180L1573.7,161.7L1556.7,143.2L1539.9,124.6L1523.3,105.7L1529.1,101.1L1545.8,119.8L1562.5,138.4L1579.5,156.7L1596.6,174.9L1613.9,192.9L1631.3,210.7L1648.9,228.4L1666.7,245.9L1684.6,263.2L1702.8,280.3L1721.1,297.3L1739.7,314L1758.4,330.6L1777.4,347.1L1796.6,363.3L1816,379.4L1835.6,395.2L1855.5,410.9L1875.6,426.4L1895.9,441.8Z" fill="url(#s67)"/><path d="M1894.8,443.2L1874.4,427.8L1854.3,412.3L1834.5,396.5L1814.8,380.6L1795.4,364.6L1776.3,348.3L1757.3,331.8L1738.5,315.2L1720,298.4L1701.7,281.4L1683.5,264.3L1665.5,247L1647.8,229.5L1630.2,211.8L1612.7,193.9L1595.5,175.9L1578.4,157.7L1561.4,139.3L1544.6,120.7L1528,102L1533.8,97.4L1550.4,116L1567.2,134.4L1584.2,152.7L1601.3,170.8L1618.5,188.7L1636,206.4L1653.6,224L1671.4,241.4L1689.3,258.6L1707.5,275.6L1725.8,292.4L1744.4,309.1L1763.1,325.6L1782.1,341.9L1801.3,358L1820.7,374L1840.3,389.8L1860.2,405.4L1880.3,420.8L1900.7,436Z" fill="url(#s68)"/><path d="M1899.6,437.4L1879.2,422.1L1859.1,406.7L1839.2,391.1L1819.6,375.3L1800.2,359.3L1781,343.1L1762,326.8L1743.3,310.3L1724.7,293.6L1706.4,276.7L1688.2,259.7L1670.2,242.4L1652.5,225L1634.8,207.5L1617.4,189.7L1600.2,171.8L1583.1,153.7L1566.1,135.4L1549.3,116.9L1532.7,98.3L1538.5,93.7L1555.1,112.2L1571.9,130.5L1588.8,148.7L1606,166.7L1623.2,184.5L1640.7,202.1L1658.3,219.6L1676.1,236.8L1694,253.9L1712.2,270.9L1730.5,287.6L1749.1,304.2L1767.9,320.6L1786.8,336.8L1806,352.8L1825.4,368.6L1845.1,384.3L1865,399.8L1885.1,415.1L1905.4,430.2Z" fill="url(#s69)"/><path d="M1904.3,431.6L1883.9,416.4L1863.8,401.1L1843.9,385.6L1824.3,369.9L1804.9,354L1785.7,338L1766.7,321.8L1748,305.4L1729.4,288.8L1711.1,272L1692.9,255L1674.9,237.9L1657.1,220.6L1639.5,203.1L1622.1,185.5L1604.8,167.6L1587.7,149.6L1570.8,131.5L1554,113.1L1537.4,94.5L1543.1,89.9L1559.8,108.3L1576.6,126.6L1593.5,144.6L1610.6,162.5L1627.9,180.2L1645.3,197.8L1662.9,215.1L1680.7,232.3L1698.7,249.3L1716.9,266.1L1735.2,282.8L1753.8,299.2L1772.6,315.5L1791.5,331.6L1810.7,347.5L1830.1,363.3L1849.8,378.8L1869.7,394.2L1889.8,409.4L1910.2,424.4Z" fill="url(#s70)"/><path d="M1909.1,425.8L1888.7,410.7L1868.5,395.5L1848.7,380.1L1829,364.6L1809.6,348.8L1790.4,332.9L1771.4,316.7L1752.7,300.4L1734.1,283.9L1715.7,267.3L1697.6,250.4L1679.6,233.4L1661.8,216.2L1644.2,198.8L1626.8,181.3L1609.5,163.5L1592.4,145.6L1575.4,127.5L1558.7,109.3L1542,90.8L1547.8,86.2L1564.4,104.5L1581.2,122.6L1598.2,140.6L1615.3,158.4L1632.5,176L1650,193.4L1667.6,210.7L1685.4,227.8L1703.4,244.7L1721.5,261.4L1739.9,277.9L1758.5,294.3L1777.2,310.5L1796.2,326.5L1815.4,342.3L1834.9,357.9L1854.5,373.3L1874.4,388.6L1894.5,403.7L1914.9,418.6Z" fill="url(#s71)"/><path d="M1913.8,420L1893.4,405L1873.3,389.9L1853.4,374.7L1833.7,359.2L1814.3,343.5L1795.1,327.7L1776.1,311.7L1757.4,295.5L1738.8,279.1L1720.4,262.5L1702.3,245.8L1684.3,228.9L1666.5,211.8L1648.9,194.5L1631.4,177L1614.2,159.4L1597,141.6L1580.1,123.6L1563.3,105.4L1546.7,87.1L1552.4,82.4L1569.1,100.6L1585.9,118.7L1602.8,136.6L1619.9,154.3L1637.2,171.8L1654.6,189.1L1672.3,206.3L1690.1,223.2L1708,240L1726.2,256.7L1744.6,273.1L1763.2,289.3L1781.9,305.4L1800.9,321.3L1820.1,337L1839.6,352.5L1859.2,367.9L1879.1,383L1899.3,398L1919.7,412.8Z" fill="url(#s72)"/><path d="M1918.5,414.2L1898.1,399.4L1878,384.4L1858.1,369.2L1838.4,353.8L1819,338.3L1799.8,322.5L1780.8,306.6L1762,290.5L1743.5,274.3L1725.1,257.8L1706.9,241.2L1688.9,224.3L1671.1,207.3L1653.5,190.2L1636.1,172.8L1618.8,155.3L1601.7,137.5L1584.7,119.6L1567.9,101.6L1551.3,83.3L1557,78.7L1573.7,96.8L1590.5,114.8L1607.4,132.5L1624.5,150.1L1641.8,167.5L1659.3,184.8L1676.9,201.8L1694.7,218.7L1712.7,235.4L1730.9,251.9L1749.2,268.3L1767.8,284.4L1786.6,300.4L1805.6,316.2L1824.8,331.8L1844.2,347.2L1863.9,362.4L1883.8,377.4L1904,392.3L1924.4,407Z" fill="url(#s73)"/><path d="M1923.2,408.3L1902.8,393.7L1882.7,378.8L1862.8,363.7L1843.1,348.5L1823.7,333L1804.5,317.4L1785.5,301.6L1766.7,285.6L1748.1,269.4L1729.8,253.1L1711.6,236.5L1693.6,219.8L1675.8,202.9L1658.2,185.8L1640.7,168.6L1623.4,151.1L1606.3,133.5L1589.4,115.7L1572.6,97.7L1555.9,79.6L1561.7,74.9L1578.3,92.9L1595.1,110.8L1612.1,128.5L1629.2,146L1646.5,163.3L1663.9,180.4L1681.5,197.4L1699.3,214.2L1717.3,230.8L1735.5,247.2L1753.9,263.4L1772.5,279.5L1791.3,295.3L1810.3,311L1829.5,326.5L1848.9,341.8L1868.6,356.9L1888.5,371.9L1908.7,386.6L1929.1,401.1Z" fill="url(#s74)"/><path d="M1927.9,402.5L1907.5,388L1887.4,373.2L1867.5,358.2L1847.8,343.1L1828.4,327.8L1809.1,312.2L1790.1,296.5L1771.4,280.6L1752.8,264.6L1734.4,248.3L1716.2,231.9L1698.2,215.3L1680.4,198.5L1662.8,181.5L1645.3,164.3L1628.1,147L1610.9,129.5L1594,111.8L1577.2,93.9L1560.5,75.8L1566.3,71.2L1582.9,89.1L1599.7,106.9L1616.7,124.4L1633.8,141.8L1651.1,159.1L1668.5,176.1L1686.2,193L1704,209.6L1722,226.1L1740.1,242.4L1758.5,258.6L1777.1,274.5L1795.9,290.3L1814.9,305.8L1834.1,321.2L1853.6,336.4L1873.3,351.4L1893.2,366.3L1913.4,380.9L1933.8,395.3Z" fill="url(#s75)"/><path d="M1932.6,396.7L1912.2,382.3L1892.1,367.6L1872.1,352.8L1852.5,337.7L1833,322.5L1813.8,307.1L1794.8,291.5L1776,275.7L1757.4,259.7L1739,243.6L1720.8,227.2L1702.9,210.7L1685,194L1667.4,177.1L1650,160.1L1632.7,142.8L1615.6,125.4L1598.6,107.8L1581.8,90L1565.2,72.1L1570.9,67.4L1587.5,85.2L1604.3,102.9L1621.3,120.4L1638.4,137.7L1655.7,154.8L1673.1,171.7L1690.8,188.5L1708.6,205.1L1726.6,221.5L1744.8,237.7L1763.2,253.7L1781.7,269.6L1800.5,285.2L1819.6,300.7L1838.8,316L1858.2,331.1L1877.9,346L1897.9,360.7L1918,375.2L1938.5,389.5Z" fill="url(#s76)"/><path d="M1937.3,390.9L1916.9,376.6L1896.7,362L1876.8,347.3L1857.1,332.3L1837.7,317.2L1818.4,301.9L1799.4,286.4L1780.6,270.7L1762,254.9L1743.7,238.8L1725.5,222.6L1707.5,206.2L1689.7,189.6L1672,172.8L1654.6,155.8L1637.3,138.7L1620.2,121.4L1603.2,103.8L1586.4,86.2L1569.8,68.3L1575.4,63.6L1592.1,81.4L1608.9,98.9L1625.9,116.3L1643,133.5L1660.3,150.6L1677.7,167.4L1695.4,184.1L1713.2,200.5L1731.2,216.8L1749.4,232.9L1767.8,248.9L1786.4,264.6L1805.2,280.2L1824.2,295.5L1843.4,310.7L1862.9,325.7L1882.6,340.5L1902.5,355.1L1922.7,369.5L1943.1,383.7Z" fill="url(#s77)"/><path d="M1942,385.1L1921.6,370.9L1901.4,356.4L1881.5,341.8L1861.8,327L1842.3,312L1823.1,296.8L1804.1,281.4L1785.3,265.8L1766.7,250L1748.3,234.1L1730.1,217.9L1712.1,201.6L1694.3,185.1L1676.6,168.4L1659.2,151.6L1641.9,134.5L1624.8,117.3L1607.8,99.9L1591,82.3L1574.3,64.5L1580,59.8L1596.7,77.5L1613.5,95L1630.4,112.3L1647.6,129.4L1664.9,146.3L1682.3,163L1700,179.6L1717.8,196L1735.8,212.2L1754,228.2L1772.4,244L1791,259.6L1809.8,275.1L1828.8,290.4L1848.1,305.4L1867.5,320.3L1887.2,335L1907.2,349.5L1927.4,363.8L1947.8,377.9Z" fill="url(#s78)"/><path d="M1946.7,379.3L1926.2,365.2L1906.1,350.8L1886.1,336.3L1866.4,321.6L1846.9,306.7L1827.7,291.6L1808.7,276.3L1789.9,260.8L1771.3,245.2L1752.9,229.3L1734.7,213.3L1716.7,197.1L1698.9,180.7L1681.2,164.1L1663.8,147.3L1646.5,130.4L1629.3,113.2L1612.4,95.9L1595.6,78.4L1578.9,60.7L1584,56.5L1600.7,74.1L1617.5,91.5L1634.5,108.7L1651.6,125.7L1668.9,142.6L1686.3,159.2L1704,175.7L1721.8,192L1739.8,208.1L1758,224L1776.4,239.7L1795,255.3L1813.8,270.6L1832.9,285.8L1852.1,300.8L1871.6,315.6L1891.3,330.2L1911.3,344.6L1931.4,358.8L1951.9,372.8Z" fill="url(#s79)"/></g>
<path d="M1543.6,836.9L1503.9,789.8L1465.2,742.3L1427.2,694.3L1390,645.9L1353.5,597L1317.8,547.6L1282.6,497.7L1248.1,447.3L1214.1,396.4L1180.7,345M1543.6,836.9L1588.2,790.4L1631.8,743.9L1674.6,697.5L1716.4,651.1L1757.5,604.8L1797.8,558.4L1837.3,512.1L1876.2,465.7L1914.4,419.3L1951.9,372.8M1549.2,831.1L1509.6,784.3L1470.8,737L1432.8,689.2L1395.6,641L1359.1,592.4L1323.4,543.2L1288.2,493.6L1253.7,443.4L1219.7,392.8L1186.3,341.5M1538.6,831.1L1583.2,784.8L1626.8,738.5L1669.5,692.4L1711.4,646.2L1752.4,600.1L1792.7,554L1832.2,507.9L1871.1,461.7L1909.2,415.6L1946.8,369.3M1554.8,825.3L1515.2,778.7L1476.4,731.6L1438.4,684.2L1401.2,636.2L1364.7,587.8L1328.9,538.9L1293.8,489.5L1259.3,439.5L1225.3,389.1L1191.9,338.1M1533.6,825.2L1578.2,779.1L1621.8,733.2L1664.5,687.2L1706.3,641.4L1747.4,595.5L1787.6,549.6L1827.2,503.7L1866,457.8L1904.1,411.8L1941.6,365.8M1560.4,819.5L1520.7,773.1L1481.9,726.3L1444,679.1L1406.8,631.4L1370.3,583.2L1334.5,534.5L1299.4,485.4L1264.8,435.7L1230.9,385.4L1197.5,334.6M1528.6,819.3L1573.2,773.5L1616.8,727.8L1659.5,682.1L1701.3,636.5L1742.4,590.8L1782.6,545.2L1822.1,499.5L1860.9,453.8L1899,408.1L1936.5,362.3M1566,813.6L1526.3,767.6L1487.5,721L1449.5,674L1412.3,626.6L1375.8,578.6L1340,530.2L1304.9,481.2L1270.4,431.8L1236.4,381.7L1203,331.2M1523.7,813.4L1568.2,767.9L1611.8,722.4L1654.5,677L1696.3,631.6L1737.3,586.2L1777.6,540.8L1817.1,495.3L1855.9,449.9L1894,404.4L1931.4,358.8M1571.6,807.8L1531.9,762L1493,715.7L1455,669L1417.8,621.7L1381.4,574L1345.6,525.8L1310.4,477.1L1275.9,427.9L1241.9,378.1L1208.5,327.7M1518.7,807.5L1563.2,762.3L1606.8,717L1649.5,671.8L1691.3,626.7L1732.3,581.5L1772.6,536.3L1812,491.1L1850.8,445.9L1888.9,400.6L1926.4,355.2M1577.1,802L1537.4,756.4L1498.6,710.4L1460.6,663.9L1423.4,616.9L1386.9,569.4L1351.1,521.5L1315.9,473L1281.4,424L1247.5,374.4L1214.1,324.3M1513.8,801.6L1558.3,756.6L1601.9,711.6L1644.5,666.7L1686.3,621.8L1727.3,576.8L1767.6,531.9L1807,486.9L1845.8,441.9L1883.9,396.8L1921.3,351.7M1582.7,796.2L1542.9,750.9L1504.1,705.1L1466.1,658.8L1428.9,612.1L1392.4,564.8L1356.6,517.1L1321.4,468.8L1286.9,420L1253,370.7L1219.6,320.8M1508.8,795.7L1553.4,751L1596.9,706.2L1639.6,661.5L1681.4,616.8L1722.4,572.2L1762.6,527.4L1802,482.7L1840.8,437.9L1878.8,393.1L1916.3,348.1M1588.2,790.4L1548.4,745.3L1509.6,699.8L1471.6,653.7L1434.3,607.2L1397.9,560.2L1362.1,512.7L1326.9,464.7L1292.4,416.1L1258.4,367L1225,317.4M1503.9,789.8L1548.4,745.3L1592,700.8L1634.6,656.4L1676.4,611.9L1717.4,567.5L1757.6,523L1797,478.5L1835.8,433.9L1873.8,389.3L1911.3,344.6M1593.7,784.6L1553.9,739.7L1515.1,694.4L1477.1,648.7L1439.8,602.4L1403.3,555.6L1367.5,508.4L1332.4,460.6L1297.9,412.2L1263.9,363.3L1230.5,313.9M1499,783.9L1543.5,739.6L1587.1,695.4L1629.7,651.2L1671.5,607L1712.5,562.8L1752.6,518.5L1792.1,474.2L1830.8,429.9L1868.8,385.5L1906.2,341M1599.2,778.8L1559.4,734.2L1520.6,689.1L1482.5,643.6L1445.3,597.6L1408.8,551L1373,504L1337.8,456.4L1303.3,408.3L1269.4,359.6L1236,310.4M1494.2,778L1538.6,734L1582.2,690L1624.8,646L1666.6,602L1707.5,558L1747.7,514L1787.1,470L1825.8,425.9L1863.9,381.7L1901.2,337.4M1604.6,772.9L1564.9,728.6L1526,683.8L1488,638.5L1450.7,592.7L1414.2,546.4L1378.4,499.6L1343.3,452.3L1308.7,404.4L1274.8,355.9L1241.4,306.9M1489.3,772L1533.8,728.3L1577.3,684.5L1619.9,640.8L1661.7,597.1L1702.6,553.3L1742.8,509.5L1782.2,465.7L1820.9,421.8L1858.9,377.8L1896.3,333.8M1610.1,767.1L1570.3,723L1531.5,678.5L1493.4,633.4L1456.2,587.9L1419.6,541.8L1383.8,495.2L1348.7,448.1L1314.2,400.5L1280.2,352.2L1246.8,303.5M1484.4,766.1L1528.9,722.6L1572.4,679.1L1615,635.6L1656.8,592.1L1697.7,548.6L1737.9,505L1777.3,461.4L1815.9,417.8L1853.9,374L1891.3,330.2M1615.6,761.3L1575.8,717.5L1536.9,673.2L1498.8,628.4L1461.6,583.1L1425.1,537.2L1389.2,490.9L1354.1,444L1319.6,396.5L1285.6,348.5L1252.2,300M1479.6,760.2L1524.1,716.9L1567.6,673.6L1610.2,630.4L1651.9,587.1L1692.8,543.8L1733,500.5L1772.3,457.1L1811,413.7L1849,370.2L1886.4,326.5M1621,755.5L1581.2,711.9L1542.3,667.9L1504.2,623.3L1467,578.2L1430.5,532.6L1394.6,486.5L1359.5,439.8L1325,392.6L1291,344.8L1257.6,296.5M1474.8,754.2L1519.2,711.2L1562.7,668.2L1605.3,625.2L1647,582.1L1688,539.1L1728.1,496L1767.4,452.8L1806.1,409.6L1844.1,366.3L1881.4,322.9M1626.4,749.7L1586.6,706.4L1547.7,662.5L1509.6,618.2L1472.4,573.4L1435.8,528L1400,482.1L1364.9,435.7L1330.3,388.7L1296.4,341.1L1263,293M1470,748.2L1514.4,705.5L1557.9,662.7L1600.5,619.9L1642.2,577.1L1683.1,534.3L1723.2,491.5L1762.6,448.5L1801.2,405.5L1839.2,362.4L1876.5,319.2M1631.8,743.9L1592,700.8L1553.1,657.2L1515,613.1L1477.7,568.5L1441.2,523.4L1405.4,477.7L1370.2,431.5L1335.7,384.7L1301.7,337.4L1268.4,289.5M1465.2,742.3L1509.6,699.8L1553.1,657.2L1595.7,614.7L1637.4,572.1L1678.2,529.6L1718.3,486.9L1757.7,444.2L1796.3,401.4L1834.3,358.5L1871.6,315.6M1637.2,738.1L1597.4,695.3L1558.4,651.9L1520.4,608.1L1483.1,563.7L1446.5,518.8L1410.7,473.3L1375.6,427.4L1341,380.8L1307.1,333.7L1273.7,286M1460.4,736.3L1504.8,694L1548.3,651.7L1590.8,609.5L1632.5,567.1L1673.4,524.8L1713.5,482.4L1752.8,439.9L1791.5,397.3L1829.4,354.7L1866.7,311.9M1642.6,732.3L1602.7,689.7L1563.8,646.6L1525.7,603L1488.4,558.8L1451.9,514.2L1416.1,469L1380.9,423.2L1346.4,376.9L1312.4,330L1279,282.5M1455.6,730.3L1500,688.3L1543.5,646.3L1586,604.2L1627.7,562.1L1668.6,520L1708.7,477.8L1748,435.5L1786.6,393.2L1824.5,350.8L1861.8,308.2M1647.9,726.5L1608.1,684.1L1569.1,641.3L1531,597.9L1493.8,554L1457.2,509.6L1421.4,464.6L1386.2,419L1351.7,372.9L1317.7,326.2L1284.4,279M1450.8,724.3L1495.2,682.6L1538.7,640.8L1581.3,598.9L1622.9,557.1L1663.8,515.2L1703.9,473.2L1743.2,431.2L1781.8,389.1L1819.7,346.8L1857,304.5M1653.3,720.7L1613.4,678.6L1574.5,636L1536.4,592.8L1499.1,549.2L1462.5,504.9L1426.7,460.2L1391.5,414.9L1357,369L1323,322.5L1289.7,275.4M1446.1,718.3L1490.5,676.8L1533.9,635.2L1576.5,593.7L1618.2,552L1659,510.4L1699.1,468.6L1738.4,426.8L1777,384.9L1814.9,342.9L1852.1,300.8M1658.6,714.9L1618.8,673L1579.8,630.6L1541.7,587.7L1504.4,544.3L1467.8,500.3L1432,455.8L1396.8,410.7L1362.3,365L1328.3,318.8L1294.9,271.9M1441.3,712.3L1485.7,671L1529.2,629.7L1571.7,588.4L1613.4,547L1654.2,505.6L1694.3,464L1733.6,422.4L1772.1,380.8L1810,339L1847.3,297.1M1663.9,709.1L1624.1,667.5L1585.1,625.3L1547,582.7L1509.7,539.5L1473.1,495.7L1437.3,451.4L1402.1,406.5L1367.5,361.1L1333.6,315L1300.2,268.4M1436.6,706.3L1481,665.3L1524.4,624.2L1567,583.1L1608.6,541.9L1649.5,500.7L1689.5,459.4L1728.8,418.1L1767.4,376.6L1805.2,335L1842.5,293.3M1669.3,703.3L1629.4,661.9L1590.4,620L1552.2,577.6L1514.9,534.6L1478.4,491.1L1442.5,447L1407.3,402.3L1372.8,357.1L1338.9,311.3L1305.5,264.9M1431.9,700.3L1476.3,659.5L1519.7,618.7L1562.2,577.8L1603.9,536.9L1644.7,495.9L1684.7,454.8L1724,413.7L1762.6,372.4L1800.4,331.1L1837.7,289.6M1674.6,697.5L1634.6,656.4L1595.7,614.7L1557.5,572.5L1520.2,529.8L1483.6,486.5L1447.8,442.6L1412.6,398.2L1378,353.1L1344.1,307.5L1310.7,261.3M1427.2,694.3L1471.6,653.7L1515,613.1L1557.5,572.5L1599.2,531.8L1640,491L1680,450.2L1719.3,409.3L1757.8,368.2L1795.7,327.1L1832.9,285.8M1679.8,691.7L1639.9,650.8L1600.9,609.4L1562.8,567.4L1525.4,524.9L1488.9,481.8L1453,438.2L1417.8,394L1383.3,349.2L1349.3,303.8L1316,257.8M1422.5,688.3L1466.9,648L1510.3,607.6L1552.8,567.2L1594.4,526.7L1635.2,486.2L1675.3,445.6L1714.5,404.9L1753,364L1790.9,323.1L1828.1,282M1685.1,685.9L1645.2,645.2L1606.2,604.1L1568,562.3L1530.7,520L1494.1,477.2L1458.2,433.8L1423,389.8L1388.5,345.2L1354.6,300L1321.2,254.3M1417.8,682.2L1462.2,642.2L1505.6,602L1548.1,561.9L1589.7,521.6L1630.5,481.3L1670.5,440.9L1709.8,400.4L1748.3,359.8L1786.1,319.1L1823.3,278.2M1690.4,680.1L1650.4,639.7L1611.4,598.7L1573.2,557.2L1535.9,515.2L1499.3,472.6L1463.4,429.4L1428.2,385.6L1393.7,341.2L1359.8,296.3L1326.4,250.7M1413.2,676.2L1457.5,636.4L1500.9,596.5L1543.4,556.5L1585,516.5L1625.8,476.4L1665.8,436.3L1705.1,396L1743.6,355.6L1781.4,315.1L1818.6,274.4M1695.6,674.3L1655.6,634.1L1616.6,593.4L1578.4,552.2L1541.1,510.3L1504.5,467.9L1468.6,425L1433.4,381.4L1398.9,337.3L1364.9,292.5L1331.6,247.2M1408.5,670.1L1452.9,630.5L1496.3,590.9L1538.8,551.2L1580.4,511.4L1621.1,471.6L1661.1,431.6L1700.4,391.5L1738.9,351.4L1776.7,311.1L1813.8,270.6M1700.8,668.5L1660.9,628.6L1621.8,588.1L1583.6,547.1L1546.3,505.5L1509.7,463.3L1473.8,420.5L1438.6,377.2L1404.1,333.3L1370.1,288.7L1336.7,243.6M1403.9,664.1L1448.2,624.7L1491.6,585.3L1534.1,545.8L1575.7,506.3L1616.5,466.7L1656.4,426.9L1695.7,387.1L1734.2,347.1L1772,307L1809.1,266.8M1706,662.7L1666.1,623L1627,582.8L1588.8,542L1551.5,500.6L1514.8,458.7L1479,416.1L1443.8,373L1409.2,329.3L1375.3,285L1341.9,240M1399.2,658L1443.6,618.9L1487,579.7L1529.4,540.5L1571,501.2L1611.8,461.8L1651.8,422.3L1691,382.6L1729.5,342.9L1767.3,303L1804.4,263M1711.2,656.9L1671.3,617.5L1632.2,577.5L1594,536.9L1556.6,495.8L1520,454L1484.1,411.7L1448.9,368.8L1414.4,325.3L1380.4,281.2L1347.1,236.5M1394.6,652L1439,613.1L1482.3,574.1L1524.8,535.1L1566.4,496L1607.2,456.8L1647.1,417.6L1686.3,378.1L1724.8,338.6L1762.6,298.9L1799.7,259.1M1716.4,651.1L1676.4,611.9L1637.4,572.1L1599.2,531.8L1561.8,490.9L1525.2,449.4L1489.3,407.3L1454.1,364.6L1419.5,321.3L1385.6,277.4L1352.2,232.9M1390,645.9L1434.3,607.2L1477.7,568.5L1520.2,529.8L1561.8,490.9L1602.5,451.9L1642.5,412.9L1681.7,373.7L1720.1,334.3L1757.9,294.9L1795,255.3M1721.6,645.3L1681.6,606.4L1642.5,566.8L1604.3,526.7L1566.9,486L1530.3,444.7L1494.4,402.9L1459.2,360.4L1424.6,317.3L1390.7,273.6L1357.3,229.3M1385.4,639.8L1429.7,601.4L1473.1,562.9L1515.6,524.4L1557.1,485.7L1597.9,447L1637.8,408.1L1677,369.2L1715.5,330.1L1753.3,290.8L1790.4,251.4M1726.8,639.5L1686.8,600.8L1647.7,561.5L1609.4,521.6L1572,481.2L1535.4,440.1L1499.5,398.4L1464.3,356.2L1429.7,313.3L1395.8,269.9L1362.4,225.8M1380.8,633.7L1425.2,595.5L1468.5,557.3L1511,519L1552.5,480.6L1593.3,442L1633.2,403.4L1672.4,364.7L1710.8,325.8L1748.6,286.7L1785.7,247.5M1731.9,633.7L1691.9,595.2L1652.8,556.2L1614.6,516.5L1577.1,476.3L1540.5,435.5L1504.6,394L1469.4,352L1434.8,309.3L1400.9,266.1L1367.5,222.2M1376.3,627.6L1420.6,589.7L1463.9,551.7L1506.4,513.6L1547.9,475.4L1588.7,437.1L1628.6,398.7L1667.8,360.1L1706.2,321.5L1744,282.6L1781.1,243.6M1737.1,627.9L1697,589.7L1657.9,550.9L1619.7,511.4L1582.2,471.4L1545.6,430.8L1509.7,389.6L1474.5,347.8L1439.9,305.3L1406,262.3L1372.6,218.6M1371.7,621.5L1416,583.8L1459.4,546L1501.8,508.2L1543.4,470.2L1584.1,432.1L1624,393.9L1663.2,355.6L1701.6,317.1L1739.4,278.5L1776.4,239.7M1742.2,622.1L1702.1,584.1L1663,545.5L1624.8,506.3L1587.3,466.5L1550.7,426.2L1514.8,385.2L1479.5,343.6L1445,301.3L1411,258.5L1377.7,215M1367.1,615.4L1411.5,577.9L1454.8,540.4L1497.2,502.8L1538.8,465L1579.5,427.2L1619.4,389.2L1658.6,351.1L1697,312.8L1734.7,274.4L1771.8,235.8M1747.3,616.3L1707.2,578.6L1668.1,540.2L1629.8,501.2L1592.4,461.7L1555.8,421.5L1519.8,380.7L1484.6,339.3L1450,297.3L1416.1,254.7L1382.7,211.4M1362.6,609.2L1406.9,572L1450.3,534.7L1492.7,497.3L1534.2,459.8L1574.9,422.2L1614.9,384.4L1654,346.5L1692.4,308.5L1730.1,270.3L1767.2,231.9M1752.4,610.5L1712.3,573L1673.2,534.9L1634.9,496.1L1597.5,456.8L1560.8,416.9L1524.9,376.3L1489.7,335.1L1455.1,293.3L1421.1,250.9L1387.8,207.8M1358.1,603.1L1402.4,566.1L1445.7,529.1L1488.1,491.9L1529.7,454.6L1570.4,417.2L1610.3,379.6L1649.4,342L1687.8,304.1L1725.6,266.1L1762.6,228M1757.5,604.8L1717.4,567.5L1678.2,529.6L1640,491L1602.5,451.9L1565.8,412.2L1529.9,371.8L1494.7,330.9L1460.1,289.3L1426.2,247.1L1392.8,204.2M1353.5,597L1397.9,560.2L1441.2,523.4L1483.6,486.5L1525.2,449.4L1565.8,412.2L1605.7,374.9L1644.9,337.4L1683.3,299.8L1721,262L1758,224M1762.6,599L1722.5,561.9L1683.3,524.2L1645,485.9L1607.6,447L1570.9,407.5L1534.9,367.4L1499.7,326.6L1465.1,285.3L1431.2,243.3L1397.8,200.6M1349,590.8L1393.3,554.3L1436.7,517.7L1479.1,481L1520.6,444.2L1561.3,407.2L1601.2,370.1L1640.3,332.8L1678.7,295.4L1716.4,257.8L1753.5,220M1767.6,593.2L1727.5,556.3L1688.3,518.9L1650,480.8L1612.6,442.2L1575.9,402.9L1540,363L1504.7,322.4L1470.1,281.2L1436.2,239.4L1402.8,197M1344.5,584.7L1388.8,548.4L1432.2,512L1474.6,475.5L1516.1,438.9L1556.8,402.2L1596.7,365.3L1635.8,328.2L1674.2,291L1711.9,253.6L1748.9,216.1M1772.7,587.4L1732.6,550.8L1693.4,513.6L1655.1,475.7L1617.6,437.3L1580.9,398.2L1545,358.5L1509.7,318.2L1475.1,277.2L1441.2,235.6L1407.8,193.4M1340.1,578.5L1384.4,542.5L1427.7,506.3L1470.1,470.1L1511.6,433.7L1552.3,397.1L1592.2,360.5L1631.3,323.6L1669.7,286.6L1707.3,249.4L1744.4,212.1M1777.7,581.6L1737.6,545.2L1698.4,508.2L1660.1,470.6L1622.6,432.4L1585.9,393.5L1549.9,354.1L1514.7,313.9L1480.1,273.2L1446.1,231.8L1412.8,189.8M1335.6,572.3L1379.9,536.5L1423.2,500.6L1465.6,464.6L1507.1,428.4L1547.8,392.1L1587.7,355.6L1626.8,319L1665.1,282.2L1702.8,245.2L1739.8,208.1M1782.8,575.8L1742.6,539.7L1703.4,502.9L1665.1,465.5L1627.6,427.5L1590.9,388.9L1554.9,349.6L1519.7,309.7L1485.1,269.2L1451.1,228L1417.7,186.1M1331.1,566.2L1375.4,530.6L1418.7,494.9L1461.1,459.1L1502.6,423.1L1543.3,387L1583.2,350.8L1622.3,314.4L1660.6,277.8L1698.3,241L1735.3,204.1M1787.8,570L1747.6,534.1L1708.4,497.6L1670.1,460.4L1632.6,422.6L1595.8,384.2L1559.9,345.2L1524.6,305.5L1490,265.1L1456.1,224.1L1422.7,182.5M1326.7,560L1370.9,524.7L1414.3,489.2L1456.7,453.6L1498.2,417.9L1538.8,382L1578.7,345.9L1617.8,309.7L1656.1,273.4L1693.8,236.8L1730.8,200.1M1792.8,564.2L1752.6,528.5L1713.4,492.2L1675,455.3L1637.5,417.7L1600.8,379.5L1564.8,340.7L1529.6,301.2L1495,261.1L1461,220.3L1427.6,178.9M1322.2,553.8L1366.5,518.7L1409.8,483.5L1452.2,448.1L1493.7,412.6L1534.4,376.9L1574.2,341.1L1613.3,305.1L1651.7,268.9L1689.3,232.6L1726.3,196M1797.8,558.4L1757.6,523L1718.3,486.9L1680,450.2L1642.5,412.9L1605.7,374.9L1569.8,336.2L1534.5,297L1499.9,257L1465.9,216.5L1432.5,175.2M1317.8,547.6L1362.1,512.7L1405.4,477.7L1447.8,442.6L1489.3,407.3L1529.9,371.8L1569.8,336.2L1608.8,300.4L1647.2,264.5L1684.8,228.3L1721.8,192M1802.8,552.6L1762.6,517.4L1723.3,481.6L1684.9,445.1L1647.4,408L1610.7,370.2L1574.7,331.8L1539.4,292.7L1504.8,253L1470.8,212.6L1437.5,171.6M1313.3,541.4L1357.6,506.8L1400.9,472L1443.3,437.1L1484.8,402L1525.5,366.8L1565.3,331.4L1604.4,295.8L1642.7,260L1680.4,224.1L1717.3,187.9M1807.7,546.8L1767.5,511.9L1728.3,476.2L1689.9,440L1652.3,403.1L1615.6,365.5L1579.6,327.3L1544.3,288.4L1509.7,248.9L1475.7,208.8L1442.4,167.9M1308.9,535.2L1353.2,500.8L1396.5,466.2L1438.9,431.5L1480.4,396.7L1521,361.7L1560.9,326.5L1600,291.1L1638.3,255.5L1675.9,219.8L1712.9,183.9M1812.7,541L1772.5,506.3L1733.2,470.9L1694.8,434.9L1657.3,398.2L1620.5,360.8L1584.5,322.8L1549.2,284.2L1514.6,244.9L1480.6,204.9L1447.2,164.3M1304.5,528.9L1348.8,494.8L1392.1,460.5L1434.5,426L1476,391.4L1516.6,356.6L1556.5,321.6L1595.5,286.4L1633.9,251.1L1671.5,215.5L1708.4,179.8M1817.7,535.2L1777.4,500.7L1738.1,465.6L1699.7,429.7L1662.2,393.3L1625.4,356.1L1589.4,318.4L1554.1,279.9L1519.5,240.8L1485.5,201.1L1452.1,160.6M1300.1,522.7L1344.4,488.8L1387.7,454.7L1430.1,420.4L1471.6,386L1512.2,351.4L1552,316.7L1591.1,281.7L1629.4,246.6L1667,211.2L1704,175.7M1822.6,529.4L1782.3,495.2L1743,460.2L1704.6,424.6L1667.1,388.4L1630.3,351.5L1594.3,313.9L1559,275.7L1524.4,236.8L1490.4,197.2L1457,157M1295.7,516.5L1340,482.8L1383.3,448.9L1425.7,414.9L1467.2,380.7L1507.8,346.3L1547.6,311.8L1586.7,277L1625,242.1L1662.6,206.9L1699.6,171.6M1827.5,523.6L1787.2,489.6L1747.9,454.9L1709.5,419.5L1671.9,383.5L1635.2,346.8L1599.1,309.4L1563.8,271.4L1529.2,232.7L1495.2,193.3L1461.8,153.3M1291.4,510.2L1335.6,476.8L1378.9,443.1L1421.3,409.3L1462.8,375.3L1503.4,341.2L1543.3,306.8L1582.3,272.3L1620.6,237.6L1658.2,202.6L1695.1,167.5M1832.4,517.9L1792.1,484L1752.8,449.5L1714.4,414.4L1676.8,378.6L1640,342.1L1604,304.9L1568.7,267.1L1534.1,228.6L1500.1,189.5L1466.7,149.6M1287,504L1331.3,470.7L1374.6,437.3L1416.9,403.7L1458.4,370L1499.1,336L1538.9,301.9L1577.9,267.6L1616.2,233L1653.8,198.3L1690.7,163.3M1837.3,512.1L1797,478.5L1757.7,444.2L1719.3,409.3L1681.7,373.7L1644.9,337.4L1608.8,300.4L1573.5,262.8L1538.9,224.6L1504.9,185.6L1471.5,146M1282.6,497.7L1326.9,464.7L1370.2,431.5L1412.6,398.2L1454.1,364.6L1494.7,330.9L1534.5,297L1573.5,262.8L1611.8,228.5L1649.4,194L1686.3,159.2M1842.2,506.3L1801.9,472.9L1762.6,438.9L1724.1,404.1L1686.5,368.8L1649.7,332.7L1613.7,296L1578.4,258.6L1543.7,220.5L1509.7,181.7L1476.3,142.3M1278.3,491.4L1322.6,458.7L1365.9,425.7L1408.2,392.6L1449.7,359.2L1490.3,325.7L1530.1,292L1569.2,258.1L1607.5,224L1645.1,189.6L1682,155.1M1847.1,500.5L1806.8,467.3L1767.4,433.5L1729,399L1691.3,363.8L1654.5,328L1618.5,291.5L1583.2,254.3L1548.5,216.4L1514.5,177.8L1481.1,138.6M1273.9,485.2L1318.2,452.6L1361.5,419.9L1403.9,387L1445.4,353.8L1486,320.5L1525.8,287L1564.8,253.3L1603.1,219.4L1640.7,185.3L1677.6,150.9M1852,494.7L1811.6,461.8L1772.3,428.2L1733.8,393.9L1696.2,358.9L1659.4,323.3L1623.3,287L1588,250L1553.3,212.3L1519.3,174L1485.9,134.9M1269.6,478.9L1313.9,446.6L1357.2,414L1399.6,381.3L1441,348.4L1481.6,315.4L1521.4,282.1L1560.5,248.6L1598.8,214.8L1636.3,180.9L1673.2,146.7M1856.8,488.9L1816.5,456.2L1777.1,422.8L1738.6,388.8L1701,354L1664.2,318.6L1628.1,282.5L1592.8,245.7L1558.1,208.2L1524.1,170.1L1490.7,131.2M1265.3,472.6L1309.6,440.5L1352.9,408.2L1395.2,375.7L1436.7,343L1477.3,310.2L1517.1,277.1L1556.1,243.8L1594.4,210.3L1632,176.5L1668.9,142.6M1861.7,483.1L1821.3,450.6L1781.9,417.5L1743.4,383.6L1705.8,349.1L1669,313.9L1632.9,278L1597.6,241.4L1562.9,204.1L1528.9,166.2L1495.5,127.5M1261,466.3L1305.3,434.4L1348.6,402.3L1390.9,370.1L1432.4,337.6L1473,305L1512.8,272.1L1551.8,239L1590.1,205.7L1627.7,172.1L1664.5,138.4M1866.5,477.3L1826.2,445.1L1786.7,412.1L1748.2,378.5L1710.6,344.2L1673.7,309.2L1637.7,273.5L1602.3,237.1L1567.7,200L1533.7,162.3L1500.2,123.8M1256.7,460L1301,428.3L1344.3,396.5L1386.6,364.4L1428.1,332.2L1468.7,299.7L1508.5,267.1L1547.5,234.2L1585.8,201.1L1623.3,167.7L1660.2,134.2M1871.4,471.5L1831,439.5L1791.5,406.8L1753,373.4L1715.4,339.3L1678.5,304.5L1642.4,269L1607.1,232.8L1572.4,195.9L1538.4,158.4L1505,120.1M1252.4,453.7L1296.7,422.2L1340,390.6L1382.3,358.8L1423.8,326.8L1464.4,294.5L1504.2,262.1L1543.2,229.4L1581.5,196.5L1619,163.3L1655.9,129.9M1876.2,465.7L1835.8,433.9L1796.3,401.4L1757.8,368.2L1720.1,334.3L1683.3,299.8L1647.2,264.5L1611.8,228.5L1577.2,191.8L1543.1,154.5L1509.7,116.4M1248.1,447.3L1292.4,416.1L1335.7,384.7L1378,353.1L1419.5,321.3L1460.1,289.3L1499.9,257L1538.9,224.6L1577.2,191.8L1614.7,158.9L1651.6,125.7M1881,459.9L1840.6,428.3L1801.1,396.1L1762.6,363.1L1724.9,329.4L1688,295L1651.9,260L1616.6,224.2L1581.9,187.7L1547.9,150.6L1514.5,112.7M1243.8,441L1288.1,410L1331.4,378.9L1373.8,347.5L1415.2,315.9L1455.8,284L1495.6,252L1534.6,219.7L1572.9,187.2L1610.4,154.5L1647.3,121.5M1885.8,454.1L1845.4,422.8L1805.9,390.7L1767.3,358L1729.6,324.5L1692.8,290.3L1656.7,255.5L1621.3,219.9L1586.6,183.6L1552.6,146.7L1519.2,109M1239.6,434.6L1283.8,403.9L1327.1,373L1369.5,341.8L1411,310.4L1451.6,278.8L1491.3,247L1530.3,214.9L1568.6,182.6L1606.1,150L1643,117.2M1890.6,448.3L1850.1,417.2L1810.6,385.4L1772.1,352.8L1734.4,319.6L1697.5,285.6L1661.4,250.9L1626,215.6L1591.3,179.5L1557.3,142.8L1523.9,105.3M1235.3,428.3L1279.6,397.8L1322.9,367.1L1365.2,336.1L1406.7,304.9L1447.3,273.5L1487.1,241.9L1526.1,210L1564.3,177.9L1601.9,145.6L1638.7,113M1895.4,442.5L1854.9,411.6L1815.4,380L1776.8,347.7L1739.1,314.6L1702.2,280.9L1666.1,246.4L1630.7,211.3L1596,175.4L1562,138.8L1528.6,101.6M1231.1,421.9L1275.3,391.7L1318.6,361.1L1361,330.4L1402.5,299.5L1443.1,268.3L1482.8,236.8L1521.8,205.2L1560.1,173.2L1597.6,141.1L1634.5,108.7M1900.1,436.7L1859.6,406L1820.1,374.6L1781.5,342.5L1743.8,309.7L1706.9,276.2L1670.8,241.9L1635.4,206.9L1600.7,171.3L1566.7,134.9L1533.2,97.8M1226.8,415.6L1271.1,385.5L1314.4,355.2L1356.8,324.7L1398.2,294L1438.8,263L1478.6,231.8L1517.6,200.3L1555.8,168.6L1593.4,136.6L1630.2,104.4M1904.9,430.9L1864.4,400.4L1824.9,369.3L1786.3,337.4L1748.5,304.8L1711.6,271.4L1675.5,237.4L1640.1,202.6L1605.4,167.2L1571.3,131L1537.9,94.1M1222.6,409.2L1266.9,379.4L1310.2,349.3L1352.5,319L1394,288.5L1434.6,257.7L1474.4,226.7L1513.3,195.4L1551.6,163.9L1589.1,132.1L1625.9,100.1M1909.6,425.1L1869.1,394.9L1829.6,363.9L1791,332.2L1753.2,299.8L1716.3,266.7L1680.2,232.9L1644.8,198.3L1610.1,163L1576,127L1542.6,90.4M1218.4,402.8L1262.7,373.2L1306,343.4L1348.3,313.3L1389.8,282.9L1430.4,252.4L1470.1,221.6L1509.1,190.5L1547.4,159.2L1584.9,127.6L1621.7,95.8M1914.4,419.3L1873.8,389.3L1834.3,358.5L1795.7,327.1L1757.9,294.9L1721,262L1684.8,228.3L1649.4,194L1614.7,158.9L1580.7,123.1L1547.2,86.6M1214.1,396.4L1258.4,367L1301.7,337.4L1344.1,307.5L1385.6,277.4L1426.2,247.1L1465.9,216.5L1504.9,185.6L1543.1,154.5L1580.7,123.1L1617.5,91.5M1919.1,413.5L1878.5,383.7L1839,353.2L1800.4,321.9L1762.6,289.9L1725.7,257.2L1689.5,223.8L1654.1,189.6L1619.4,154.8L1585.3,119.2L1551.9,82.9M1209.9,390L1254.2,360.8L1297.5,331.4L1339.9,301.8L1381.4,271.9L1422,241.7L1461.7,211.3L1500.7,180.7L1538.9,149.8L1576.4,118.6L1613.3,87.1M1923.8,407.6L1883.2,378.1L1843.7,347.8L1805,316.8L1767.3,285L1730.3,252.5L1694.1,219.3L1658.7,185.3L1624,150.6L1589.9,115.2L1556.5,79.1M1205.7,383.6L1250,354.7L1293.3,325.5L1335.7,296L1377.2,266.4L1417.8,236.4L1457.5,206.2L1496.5,175.8L1534.7,145L1572.2,114.1L1609.1,82.8M1928.5,401.8L1887.9,372.5L1848.4,342.4L1809.7,311.6L1771.9,280.1L1735,247.7L1698.8,214.7L1663.3,181L1628.6,146.5L1594.5,111.3L1561.1,75.4M1201.5,377.2L1245.9,348.5L1289.2,319.5L1331.5,290.3L1373,260.8L1413.6,231.1L1453.3,201.1L1492.3,170.8L1530.5,140.3L1568,109.5L1604.9,78.5M1933.2,396L1892.6,366.9L1853,337.1L1814.3,306.5L1776.6,275.1L1739.6,243L1703.4,210.2L1668,176.6L1633.2,142.3L1599.2,107.3L1565.7,71.6M1197.4,370.8L1241.7,342.3L1285,313.5L1327.3,284.5L1368.8,255.2L1409.4,225.7L1449.2,195.9L1488.1,165.9L1526.4,135.5L1563.9,105L1600.7,74.1M1937.9,390.2L1897.3,361.3L1857.7,331.7L1819,301.3L1781.2,270.1L1744.2,238.3L1708,205.6L1672.6,172.3L1637.8,138.2L1603.8,103.4L1570.3,67.8M1193.2,364.3L1237.5,336L1280.8,307.5L1323.2,278.7L1364.6,249.7L1405.2,220.4L1445,190.8L1484,160.9L1522.2,130.8L1559.7,100.4L1596.5,69.7M1942.6,384.4L1902,355.8L1862.3,326.3L1823.6,296.1L1785.8,265.2L1748.8,233.5L1712.6,201.1L1677.2,167.9L1642.4,134L1608.3,99.4L1574.9,64.1M1189,357.9L1233.3,329.8L1276.7,301.5L1319,272.9L1360.5,244.1L1401.1,215L1440.8,185.6L1479.8,155.9L1518,126L1555.5,95.8L1592.3,65.3M1947.2,378.6L1906.6,350.2L1867,320.9L1828.3,291L1790.4,260.2L1753.4,228.8L1717.2,196.5L1681.8,163.6L1647,129.9L1612.9,95.4L1579.5,60.3M1184.9,351.4L1229.2,323.6L1272.5,295.5L1314.9,267.1L1356.3,238.5L1396.9,209.6L1436.7,180.4L1475.7,151L1513.9,121.2L1551.4,91.2L1588.2,60.9M1951.9,372.8L1911.3,344.6L1871.6,315.6L1832.9,285.8L1795,255.3L1758,224L1721.8,192L1686.3,159.2L1651.6,125.7L1617.5,91.5L1584,56.5M1180.7,345L1225,317.4L1268.4,289.5L1310.7,261.3L1352.2,232.9L1392.8,204.2L1432.5,175.2L1471.5,146L1509.7,116.4L1547.2,86.6L1584,56.5" fill="none" stroke="#000" stroke-opacity="0.8" stroke-width="2.3" stroke-linejoin="round"/>
<path d="M1596.3,73.1C1602,92 1606,105 1609,116.3C1614,134 1618,150 1624.3,162.1C1630,170 1640,168 1647.2,167.2C1656,166.5 1664,165.5 1672.6,164.7M1558.1,85.8C1564,102 1569,116 1573.4,129.1C1577,142 1580,155 1583.6,167.2C1590,188 1598,206 1609,218.1C1617,229 1626,236 1634.5,235.9C1644,236 1652,231 1659.9,225.8C1676,213 1691,196 1705.7,182.5C1712,183 1720,189 1728.6,195.2" fill="none" stroke="#200" stroke-opacity="0.33" stroke-width="1.6" stroke-linecap="round"/>
<ellipse cx="1180.5" cy="347.6" rx="5.8" ry="8.6" fill="#e58a8a" stroke="#4a2020" stroke-width="1.2"/>
<ellipse cx="1266" cy="460" rx="6.0" ry="8.8" fill="#c40000" stroke="#300000" stroke-width="1.2"/>
<ellipse cx="1354.1" cy="592.5" rx="6.0" ry="8.8" fill="#c40000" stroke="#300000" stroke-width="1.2"/>
<ellipse cx="1555" cy="610.5" rx="6.0" ry="8.8" fill="#c40000" stroke="#300000" stroke-width="1.2"/>
<ellipse cx="1543.8" cy="831.2" rx="6.0" ry="8.8" fill="#c40000" stroke="#300000" stroke-width="1.2"/>
<ellipse cx="1653.8" cy="707.5" rx="6.0" ry="8.8" fill="#c40000" stroke="#300000" stroke-width="1.2"/>
<ellipse cx="1952.5" cy="370.6" rx="6.0" ry="8.8" fill="#c40000" stroke="#300000" stroke-width="1.2"/>
<circle cx="1195.5" cy="625.1" r="2.6" fill="#111"/>
<circle cx="1192.2" cy="557.4" r="2.6" fill="#111"/>
<circle cx="1188.9" cy="489.7" r="2.6" fill="#111"/>
<circle cx="1185.6" cy="422" r="2.6" fill="#111"/>
<circle cx="1179.1" cy="286.6" r="2.6" fill="#111"/>
<circle cx="1175.8" cy="218.9" r="2.6" fill="#111"/>
<circle cx="1172.5" cy="151.2" r="2.6" fill="#111"/>
<circle cx="1202.5" cy="770" r="2.6" fill="#111"/>
<circle cx="1544.5" cy="1048" r="2.6" fill="#111"/>
<circle cx="1931.2" cy="791.2" r="2.6" fill="#111"/>
<circle cx="1459" cy="978.5" r="2.6" fill="#111"/>
<circle cx="1641.2" cy="983.8" r="2.6" fill="#111"/>
<circle cx="1373.5" cy="909" r="2.6" fill="#111"/>
<circle cx="1737.9" cy="919.6" r="2.6" fill="#111"/>
<circle cx="1288" cy="839.5" r="2.6" fill="#111"/>
<circle cx="1834.6" cy="855.4" r="2.6" fill="#111"/>
<text transform="matrix(0.9532,0,0,1,1139.2,145)" font-family="Liberation Sans,Arial,sans-serif" font-size="40.19" fill="#161616">9</text>
<text transform="matrix(0.8205,0,0,1,1143.6,214)" font-family="Liberation Sans,Arial,sans-serif" font-size="40.19" fill="#161616" stroke="#161616" stroke-width="0.35">8</text>
<text transform="matrix(0.8354,0,0,1,1147.1,281)" font-family="Liberation Sans,Arial,sans-serif" font-size="39.32" fill="#161616" stroke="#161616" stroke-width="0.35">7</text>
<text transform="matrix(0.7590,0,0,1,1152.3,346.2)" font-family="Liberation Sans,Arial,sans-serif" font-size="37.68" fill="#161616" stroke="#161616" stroke-width="0.35">6</text>
<text transform="matrix(0.7544,0,0,1,1156.4,413.8)" font-family="Liberation Sans,Arial,sans-serif" font-size="36.41" fill="#161616" stroke="#161616" stroke-width="0.35">5</text>
<text transform="matrix(0.7207,0,0,1,1159.9,482.5)" font-family="Liberation Sans,Arial,sans-serif" font-size="38.59" fill="#161616" stroke="#161616" stroke-width="0.35">4</text>
<text transform="matrix(0.7516,0,0,1,1163.5,550)" font-family="Liberation Sans,Arial,sans-serif" font-size="37.68" fill="#161616" stroke="#161616" stroke-width="0.35">3</text>
<text transform="matrix(0.8717,0,0,1,1164.4,618.8)" font-family="Liberation Sans,Arial,sans-serif" font-size="37.68" fill="#161616" stroke="#161616" stroke-width="0.35">2</text>
<text transform="matrix(0.7753,0,0,1,1156.5,804.5)" font-family="Liberation Sans,Arial,sans-serif" font-size="38.76" fill="#161616" stroke="#161616" stroke-width="0.35">20</text>
<text transform="matrix(0.6975,0,0,1,1242.8,873.8)" font-family="Liberation Sans,Arial,sans-serif" font-size="40.41" fill="#161616" stroke="#161616" stroke-width="0.35">15</text>
<text transform="matrix(0.7188,0,0,1,1327.7,941.7)" font-family="Liberation Sans,Arial,sans-serif" font-size="40.34" fill="#161616" stroke="#161616" stroke-width="0.35">10</text>
<text transform="matrix(0.7816,0,0,1,1428.8,1012.9)" font-family="Liberation Sans,Arial,sans-serif" font-size="39.47" fill="#161616" stroke="#161616" stroke-width="0.35">5</text>
<text transform="matrix(0.8108,0,0,1,1513.6,1084.1)" font-family="Liberation Sans,Arial,sans-serif" font-size="40.62" fill="#161616" stroke="#161616" stroke-width="0.35">0</text>
<text transform="matrix(0.8160,0,0,1,1557.5,1084.1)" font-family="Liberation Sans,Arial,sans-serif" font-size="40.62" fill="#161616" stroke="#161616" stroke-width="0.35">0</text>
<text transform="matrix(0.7494,0,0,1,1656.5,1019.7)" font-family="Liberation Sans,Arial,sans-serif" font-size="39.47" fill="#161616" stroke="#161616" stroke-width="0.35">5</text>
<text transform="matrix(0.7551,0,0,1,1750.7,953.4)" font-family="Liberation Sans,Arial,sans-serif" font-size="39.47" fill="#161616" stroke="#161616" stroke-width="0.35">10</text>
<text transform="matrix(0.7244,0,0,1,1849.5,889.8)" font-family="Liberation Sans,Arial,sans-serif" font-size="39.47" fill="#161616" stroke="#161616" stroke-width="0.35">15</text>
<text transform="matrix(0.7427,0,0,1,1944.5,826.2)" font-family="Liberation Sans,Arial,sans-serif" font-size="39.47" fill="#161616" stroke="#161616" stroke-width="0.35">20</text>
<text transform="matrix(0.7346,0,0,1,1137.9,1021.6)" font-family="Liberation Sans,Arial,sans-serif" font-size="50.1" fill="#161616" stroke="#161616" stroke-width="0.35">B: CBA (%)</text>
<text transform="matrix(0.7769,0,0,1,1788,1044)" font-family="Liberation Sans,Arial,sans-serif" font-size="47.18" fill="#161616" stroke="#161616" stroke-width="0.35">A: MK (%)</text>
<text transform="translate(1072,573.6) rotate(-90) scale(1.1214,1)" font-family="Liberation Sans,Arial,sans-serif" font-size="41.14" fill="#161616">TFT (sec)</text></svg></body></html>
